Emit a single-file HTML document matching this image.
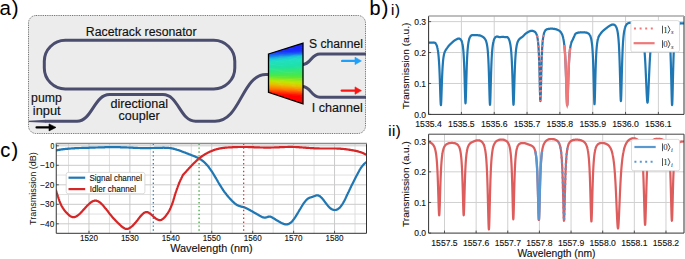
<!DOCTYPE html>
<html><head><meta charset="utf-8"><style>
html,body{margin:0;padding:0;background:#fff;}
body{width:685px;height:259px;overflow:hidden;}
svg{display:block;font-family:"Liberation Sans", sans-serif;}
</style></head><body>
<svg width="685" height="259" viewBox="0 0 685 259">
<rect width="685" height="259" fill="#fff"/>
<text x="-0.6" y="14.7" font-size="20.5" fill="#000" letter-spacing="1">a)</text>
<rect x="28.5" y="15.5" width="337" height="118" rx="7.5" ry="7.5" fill="#ececec" stroke="#555" stroke-width="0.9" stroke-dasharray="0.9,0.9"/>
<rect x="44.3" y="40.3" width="190.5" height="48.6" rx="21" ry="21" fill="none" stroke="#4b4d6e" stroke-width="3" stroke-linecap="butt"/>
<path d="M28.8,120.7 L46,119.7 L46,122.7 L28.8,122.0 Z" fill="#4b4d6e"/>
<path d="M45.5,121.2 L77,121.2 C92,121.2 94,94.6 109.5,94.6 L163,94.6 C178.5,94.6 180,121.2 195.5,121.2 L215,121.2 C241,121.2 241.5,74.6 266,74.6 L269,74.6" fill="none" stroke="#4b4d6e" stroke-width="3" stroke-linecap="butt"/>
<path d="M302,64.6 C311.5,64.6 310.5,54 320,54 L366,54" fill="none" stroke="#4b4d6e" stroke-width="3" stroke-linecap="butt"/>
<path d="M302,86.6 C311.5,86.6 310.5,97.2 320,97.2 L366,97.2" fill="none" stroke="#4b4d6e" stroke-width="3" stroke-linecap="butt"/>
<defs><clipPath id="trap"><path d="M268.5,54 L303.0,43.1 L303.0,103.8 L268.5,92.3 Z"/></clipPath></defs>
<g clip-path="url(#trap)"><path d="M267.5,48.00 L304.0,43.10 L304.0,45.68 L267.5,49.60 Z" fill="#1a22ff"/><path d="M267.5,49.00 L304.0,45.08 L304.0,47.65 L267.5,50.60 Z" fill="#1a26ff"/><path d="M267.5,50.00 L304.0,47.05 L304.0,49.62 L267.5,51.60 Z" fill="#1a2aff"/><path d="M267.5,51.00 L304.0,49.02 L304.0,51.60 L267.5,52.60 Z" fill="#1a2eff"/><path d="M267.5,52.00 L304.0,51.00 L304.0,52.10 L267.5,53.35 Z" fill="#1a36fd"/><path d="M267.5,52.75 L304.0,51.50 L304.0,52.60 L267.5,54.10 Z" fill="#1942f9"/><path d="M267.5,53.50 L304.0,52.00 L304.0,53.10 L267.5,54.85 Z" fill="#194ef6"/><path d="M267.5,54.25 L304.0,52.50 L304.0,53.60 L267.5,55.60 Z" fill="#185af2"/><path d="M267.5,55.00 L304.0,53.00 L304.0,54.25 L267.5,56.73 Z" fill="#186ded"/><path d="M267.5,56.12 L304.0,53.65 L304.0,54.90 L267.5,57.85 Z" fill="#1887e7"/><path d="M267.5,57.25 L304.0,54.30 L304.0,55.55 L267.5,58.98 Z" fill="#18a1e1"/><path d="M267.5,58.38 L304.0,54.95 L304.0,56.20 L267.5,60.10 Z" fill="#18bbdb"/><path d="M267.5,59.50 L304.0,55.60 L304.0,57.05 L267.5,60.73 Z" fill="#19cbd5"/><path d="M267.5,60.12 L304.0,56.45 L304.0,57.90 L267.5,61.35 Z" fill="#1bd1cf"/><path d="M267.5,60.75 L304.0,57.30 L304.0,58.75 L267.5,61.98 Z" fill="#1dd7c9"/><path d="M267.5,61.38 L304.0,58.15 L304.0,59.60 L267.5,62.60 Z" fill="#1fddc3"/><path d="M267.5,62.00 L304.0,59.00 L304.0,61.35 L267.5,63.85 Z" fill="#20e0bd"/><path d="M267.5,63.25 L304.0,60.75 L304.0,63.10 L267.5,65.10 Z" fill="#20e0b7"/><path d="M267.5,64.50 L304.0,62.50 L304.0,64.85 L267.5,66.35 Z" fill="#20e0b1"/><path d="M267.5,65.75 L304.0,64.25 L304.0,66.60 L267.5,67.60 Z" fill="#20e0ab"/><path d="M267.5,67.00 L304.0,66.00 L304.0,67.60 L267.5,68.85 Z" fill="#22e1a2"/><path d="M267.5,68.25 L304.0,67.00 L304.0,68.60 L267.5,70.10 Z" fill="#26e396"/><path d="M267.5,69.50 L304.0,68.00 L304.0,69.60 L267.5,71.35 Z" fill="#2ae58a"/><path d="M267.5,70.75 L304.0,69.00 L304.0,70.60 L267.5,72.60 Z" fill="#2ee77e"/><path d="M267.5,72.00 L304.0,70.00 L304.0,72.25 L267.5,73.60 Z" fill="#34e871"/><path d="M267.5,73.00 L304.0,71.65 L304.0,73.90 L267.5,74.60 Z" fill="#3ce863"/><path d="M267.5,74.00 L304.0,73.30 L304.0,75.55 L267.5,75.60 Z" fill="#44e855"/><path d="M267.5,75.00 L304.0,74.95 L304.0,77.20 L267.5,76.60 Z" fill="#4ce847"/><path d="M267.5,76.00 L304.0,76.60 L304.0,78.80 L267.5,77.72 Z" fill="#5ee838"/><path d="M267.5,77.12 L304.0,78.20 L304.0,80.40 L267.5,78.85 Z" fill="#7ae828"/><path d="M267.5,78.25 L304.0,79.80 L304.0,82.00 L267.5,79.97 Z" fill="#96e818"/><path d="M267.5,79.38 L304.0,81.40 L304.0,83.60 L267.5,81.10 Z" fill="#b2e808"/><path d="M267.5,80.50 L304.0,83.00 L304.0,84.60 L267.5,81.97 Z" fill="#c5e300"/><path d="M267.5,81.38 L304.0,84.00 L304.0,85.60 L267.5,82.85 Z" fill="#cfd900"/><path d="M267.5,82.25 L304.0,85.00 L304.0,86.60 L267.5,83.72 Z" fill="#d9cf00"/><path d="M267.5,83.12 L304.0,86.00 L304.0,87.60 L267.5,84.60 Z" fill="#e3c500"/><path d="M267.5,84.00 L304.0,87.00 L304.0,88.47 L267.5,85.60 Z" fill="#ebb800"/><path d="M267.5,85.00 L304.0,87.88 L304.0,89.35 L267.5,86.60 Z" fill="#f1a800"/><path d="M267.5,86.00 L304.0,88.75 L304.0,90.22 L267.5,87.60 Z" fill="#f69800"/><path d="M267.5,87.00 L304.0,89.62 L304.0,91.10 L267.5,88.60 Z" fill="#fc8800"/><path d="M267.5,88.00 L304.0,90.50 L304.0,91.97 L267.5,89.47 Z" fill="#ff7600"/><path d="M267.5,88.88 L304.0,91.38 L304.0,92.85 L267.5,90.35 Z" fill="#ff6200"/><path d="M267.5,89.75 L304.0,92.25 L304.0,93.72 L267.5,91.22 Z" fill="#ff4e00"/><path d="M267.5,90.62 L304.0,93.12 L304.0,94.60 L267.5,92.10 Z" fill="#ff3a00"/><path d="M267.5,91.50 L304.0,94.00 L304.0,95.17 L267.5,92.72 Z" fill="#ff2a00"/><path d="M267.5,92.12 L304.0,94.58 L304.0,95.75 L267.5,93.35 Z" fill="#ff1e00"/><path d="M267.5,92.75 L304.0,95.15 L304.0,96.32 L267.5,93.97 Z" fill="#ff1200"/><path d="M267.5,93.38 L304.0,95.72 L304.0,96.90 L267.5,94.60 Z" fill="#ff0600"/><path d="M267.5,94.00 L304.0,96.30 L304.0,99.32 L267.5,95.85 Z" fill="#ff0000"/><path d="M267.5,95.25 L304.0,98.72 L304.0,101.75 L267.5,97.10 Z" fill="#ff0000"/><path d="M267.5,96.50 L304.0,101.15 L304.0,104.17 L267.5,98.35 Z" fill="#ff0000"/><path d="M267.5,97.75 L304.0,103.58 L304.0,106.60 L267.5,99.60 Z" fill="#ff0000"/></g>
<path d="M268.5,54 L303.0,43.1 L303.0,103.8 L268.5,92.3 Z" fill="none" stroke="#000" stroke-width="1.3" stroke-linejoin="miter"/>
<line x1="36.6" y1="127.4" x2="50.00" y2="127.4" stroke="#000" stroke-width="2.3" stroke-linecap="round"/><path d="M49.00,123.90 L56.00,127.40 L49.00,130.90 Z" fill="#000" stroke="#000" stroke-width="0.6" stroke-linejoin="round"/>
<line x1="342.2" y1="60.9" x2="356.00" y2="60.9" stroke="#1ea0fa" stroke-width="2.4" stroke-linecap="round"/><path d="M355.00,57.20 L361.40,60.90 L355.00,64.60 Z" fill="#1ea0fa" stroke="#1ea0fa" stroke-width="0.6" stroke-linejoin="round"/>
<line x1="341.8" y1="90.6" x2="356.00" y2="90.6" stroke="#fa1414" stroke-width="2.4" stroke-linecap="round"/><path d="M355.00,86.90 L361.40,90.60 L355.00,94.30 Z" fill="#fa1414" stroke="#fa1414" stroke-width="0.6" stroke-linejoin="round"/>
<text x="85.8" y="35.8" font-size="12.3" textLength="110.7" lengthAdjust="spacingAndGlyphs" fill="#111" stroke="#111" stroke-width="0.15">Racetrack resonator</text>
<text x="309" y="48.3" font-size="12.3" textLength="54" lengthAdjust="spacingAndGlyphs" fill="#111" stroke="#111" stroke-width="0.15">S channel</text>
<text x="311.8" y="112.2" font-size="12.3" textLength="51" lengthAdjust="spacingAndGlyphs" fill="#111" stroke="#111" stroke-width="0.15">I channel</text>
<text x="31.1" y="102.1" font-size="12.3" textLength="30.7" lengthAdjust="spacingAndGlyphs" fill="#111" stroke="#111" stroke-width="0.15">pump</text>
<text x="32.8" y="114.9" font-size="12.3" textLength="27.8" lengthAdjust="spacingAndGlyphs" fill="#111" stroke="#111" stroke-width="0.15">input</text>
<text x="110.5" y="108.1" font-size="12.3" textLength="57.5" lengthAdjust="spacingAndGlyphs" fill="#111" stroke="#111" stroke-width="0.15">directional</text>
<text x="118.6" y="120.2" font-size="12.3" textLength="41.1" lengthAdjust="spacingAndGlyphs" fill="#111" stroke="#111" stroke-width="0.15">coupler</text>
<defs><clipPath id="cbi"><rect x="428.6" y="16.0" width="255.39999999999998" height="98.4"/></clipPath></defs>
<path d="M428.57,16.0 V114.4 M461.40,16.0 V114.4 M494.23,16.0 V114.4 M527.06,16.0 V114.4 M559.89,16.0 V114.4 M592.72,16.0 V114.4 M625.55,16.0 V114.4 M658.38,16.0 V114.4 M428.6,83.47 H684.0 M428.6,52.54 H684.0 M428.6,21.61 H684.0" stroke="#d0d0d0" stroke-width="1" fill="none"/>
<g clip-path="url(#cbi)"><path d="M428.6,42.6 L428.7,42.6 L428.8,42.6 L428.9,42.6 L429.0,42.6 L429.1,42.6 L429.2,42.6 L429.3,42.6 L429.4,42.6 L429.5,42.6 L429.6,42.6 L429.7,42.6 L429.8,42.6 L429.9,42.6 L430.0,42.6 L430.1,42.6 L430.2,42.6 L430.3,42.6 L430.4,42.6 L430.5,42.6 L430.6,42.6 L430.7,42.6 L430.8,42.6 L430.9,42.6 L431.0,42.6 L431.1,42.6 L431.2,42.6 L431.3,42.6 L431.4,42.6 L431.5,42.6 L431.6,42.6 L431.7,42.6 L431.8,42.6 L431.9,42.6 L432.0,42.6 L432.1,42.6 L432.2,42.6 L432.3,42.6 L432.4,42.6 L432.5,42.6 L432.6,42.6 L432.7,42.6 L432.8,42.6 L432.9,42.6 L433.0,42.6 L433.1,42.7 L433.2,42.7 L433.3,42.7 L433.4,42.7 L433.5,42.7 L433.6,42.7 L433.7,42.7 L433.8,42.7 L433.9,42.7 L434.0,42.7 L434.1,42.7 L434.2,42.7 L434.3,42.7 L434.4,42.7 L434.5,42.7 L434.6,42.7 L434.7,42.8 L434.8,42.8 L434.9,42.8 L435.0,42.9 L435.1,42.9 L435.2,43.0 L435.3,43.1 L435.4,43.1 L435.5,43.2 L435.6,43.3 L435.7,43.4 L435.8,43.6 L435.9,43.7 L436.0,43.9 L436.1,44.1 L436.2,44.2 L436.3,44.4 L436.4,44.7 L436.5,44.9 L436.6,45.1 L436.7,45.4 L436.8,45.7 L436.9,46.0 L437.0,46.3 L437.1,46.7 L437.2,47.0 L437.3,47.4 L437.4,47.9 L437.5,48.3 L437.6,48.8 L437.7,49.4 L437.8,49.9 L437.9,50.5 L438.0,51.2 L438.1,51.9 L438.2,52.7 L438.3,53.5 L438.4,54.4 L438.5,55.4 L438.6,56.4 L438.7,57.6 L438.8,58.8 L438.9,60.1 L439.0,61.6 L439.1,63.2 L439.2,64.9 L439.3,66.8 L439.4,68.9 L439.5,71.1 L439.6,73.5 L439.7,76.1 L439.8,78.8 L439.9,81.8 L440.0,84.8 L440.1,87.9 L440.2,91.1 L440.3,94.2 L440.4,97.1 L440.5,99.7 L440.6,102.0 L440.7,103.7 L440.8,104.7 L440.9,105.1 L441.0,104.8 L441.1,103.7 L441.2,102.1 L441.3,99.9 L441.4,97.3 L441.5,94.5 L441.6,91.5 L441.7,88.5 L441.8,85.5 L441.9,82.6 L442.0,79.9 L442.1,77.3 L442.2,74.9 L442.3,72.7 L442.4,70.7 L442.5,68.8 L442.6,67.1 L442.7,65.6 L442.8,64.2 L442.9,62.9 L443.0,61.8 L443.1,60.7 L443.2,59.7 L443.3,58.9 L443.4,58.1 L443.5,57.4 L443.6,56.7 L443.7,56.1 L443.8,55.5 L443.9,55.0 L444.0,54.5 L444.1,54.1 L444.2,53.7 L444.3,53.3 L444.4,53.0 L444.5,52.7 L444.6,52.4 L444.7,52.1 L444.8,51.8 L444.9,51.6 L445.0,51.4 L445.1,51.1 L445.2,50.9 L445.3,50.7 L445.4,50.6 L445.5,50.4 L445.6,50.2 L445.7,50.0 L445.8,49.9 L445.9,49.7 L446.0,49.5 L446.1,49.4 L446.2,49.2 L446.3,49.1 L446.4,48.9 L446.5,48.8 L446.6,48.7 L446.7,48.5 L446.8,48.4 L446.9,48.2 L447.0,48.1 L447.1,48.0 L447.2,47.8 L447.3,47.7 L447.4,47.6 L447.5,47.4 L447.6,47.3 L447.7,47.2 L447.8,47.0 L447.9,46.9 L448.0,46.8 L448.1,46.6 L448.2,46.5 L448.3,46.4 L448.4,46.3 L448.5,46.1 L448.6,46.0 L448.7,45.9 L448.8,45.8 L448.9,45.7 L449.0,45.5 L449.1,45.4 L449.2,45.3 L449.3,45.2 L449.4,45.1 L449.5,45.0 L449.6,44.9 L449.7,44.8 L449.8,44.7 L449.9,44.6 L450.0,44.5 L450.1,44.4 L450.2,44.3 L450.3,44.2 L450.4,44.1 L450.5,44.0 L450.6,43.9 L450.7,43.8 L450.8,43.8 L450.9,43.7 L451.0,43.6 L451.1,43.5 L451.2,43.4 L451.3,43.3 L451.4,43.2 L451.5,43.1 L451.6,43.0 L451.7,42.9 L451.8,42.8 L451.9,42.7 L452.0,42.6 L452.1,42.5 L452.2,42.4 L452.3,42.4 L452.4,42.3 L452.5,42.2 L452.6,42.1 L452.7,42.0 L452.8,41.9 L452.9,41.8 L453.0,41.7 L453.1,41.6 L453.2,41.5 L453.3,41.5 L453.4,41.4 L453.5,41.3 L453.6,41.2 L453.7,41.1 L453.8,41.0 L453.9,41.0 L454.0,40.9 L454.1,40.8 L454.2,40.7 L454.3,40.7 L454.4,40.6 L454.5,40.5 L454.6,40.4 L454.7,40.4 L454.8,40.3 L454.9,40.2 L455.0,40.2 L455.1,40.1 L455.2,40.0 L455.3,40.0 L455.4,39.9 L455.5,39.9 L455.6,39.8 L455.7,39.7 L455.8,39.7 L455.9,39.6 L456.0,39.6 L456.1,39.5 L456.2,39.5 L456.3,39.4 L456.4,39.3 L456.5,39.3 L456.6,39.2 L456.7,39.2 L456.8,39.1 L456.9,39.1 L457.0,39.1 L457.1,39.0 L457.2,39.0 L457.3,38.9 L457.4,38.9 L457.5,38.9 L457.6,38.8 L457.7,38.8 L457.8,38.8 L457.9,38.7 L458.0,38.7 L458.1,38.7 L458.2,38.7 L458.3,38.6 L458.4,38.6 L458.5,38.6 L458.6,38.6 L458.7,38.6 L458.8,38.6 L458.9,38.6 L459.0,38.6 L459.1,38.6 L459.2,38.6 L459.3,38.7 L459.4,38.7 L459.5,38.7 L459.6,38.7 L459.7,38.8 L459.8,38.8 L459.9,38.9 L460.0,38.9 L460.1,39.0 L460.2,39.1 L460.3,39.1 L460.4,39.2 L460.5,39.3 L460.6,39.4 L460.7,39.5 L460.8,39.6 L460.9,39.8 L461.0,39.9 L461.1,40.0 L461.2,40.2 L461.3,40.4 L461.4,40.6 L461.5,40.8 L461.6,41.0 L461.7,41.3 L461.8,41.5 L461.9,41.8 L462.0,42.1 L462.1,42.5 L462.2,42.8 L462.3,43.3 L462.4,43.7 L462.5,44.2 L462.6,44.7 L462.7,45.3 L462.8,45.9 L462.9,46.6 L463.0,47.4 L463.1,48.3 L463.2,49.2 L463.3,50.2 L463.4,51.4 L463.5,52.6 L463.6,54.0 L463.7,55.6 L463.8,57.3 L463.9,59.2 L464.0,61.2 L464.1,63.5 L464.2,66.1 L464.3,68.8 L464.4,71.8 L464.5,75.0 L464.6,78.5 L464.7,82.1 L464.8,85.8 L464.9,89.5 L465.0,93.1 L465.1,96.4 L465.2,99.2 L465.3,101.4 L465.4,102.8 L465.5,103.3 L465.6,102.8 L465.7,101.4 L465.8,99.2 L465.9,96.3 L466.0,93.0 L466.1,89.4 L466.2,85.6 L466.3,81.8 L466.4,78.2 L466.5,74.7 L466.6,71.4 L466.7,68.3 L466.8,65.5 L466.9,62.9 L467.0,60.5 L467.1,58.3 L467.2,56.4 L467.3,54.6 L467.4,53.0 L467.5,51.5 L467.6,50.2 L467.7,48.9 L467.8,47.8 L467.9,46.8 L468.0,45.9 L468.1,45.0 L468.2,44.3 L468.3,43.6 L468.4,42.9 L468.5,42.3 L468.6,41.7 L468.7,41.2 L468.8,40.7 L468.9,40.3 L469.0,39.9 L469.1,39.5 L469.2,39.2 L469.3,38.8 L469.4,38.5 L469.5,38.2 L469.6,38.0 L469.7,37.7 L469.8,37.5 L469.9,37.3 L470.0,37.1 L470.1,36.9 L470.2,36.7 L470.3,36.6 L470.4,36.4 L470.5,36.3 L470.6,36.1 L470.7,36.0 L470.8,35.9 L470.9,35.8 L471.0,35.7 L471.1,35.6 L471.2,35.6 L471.3,35.5 L471.4,35.4 L471.5,35.4 L471.6,35.3 L471.7,35.3 L471.8,35.3 L471.9,35.2 L472.0,35.2 L472.1,35.2 L472.2,35.1 L472.3,35.1 L472.4,35.1 L472.5,35.1 L472.6,35.1 L472.7,35.1 L472.8,35.1 L472.9,35.1 L473.0,35.1 L473.1,35.1 L473.2,35.1 L473.3,35.1 L473.4,35.1 L473.5,35.1 L473.6,35.1 L473.7,35.1 L473.8,35.1 L473.9,35.1 L474.0,35.2 L474.1,35.2 L474.2,35.2 L474.3,35.2 L474.4,35.2 L474.5,35.2 L474.6,35.2 L474.7,35.2 L474.8,35.2 L474.9,35.2 L475.0,35.2 L475.1,35.2 L475.2,35.2 L475.3,35.2 L475.4,35.2 L475.5,35.2 L475.6,35.2 L475.7,35.2 L475.8,35.2 L475.9,35.2 L476.0,35.2 L476.1,35.2 L476.2,35.2 L476.3,35.2 L476.4,35.2 L476.5,35.2 L476.6,35.2 L476.7,35.2 L476.8,35.2 L476.9,35.2 L477.0,35.2 L477.1,35.2 L477.2,35.2 L477.3,35.2 L477.4,35.2 L477.5,35.2 L477.6,35.2 L477.7,35.2 L477.8,35.2 L477.9,35.2 L478.0,35.2 L478.1,35.3 L478.2,35.3 L478.3,35.3 L478.4,35.3 L478.5,35.3 L478.6,35.3 L478.7,35.3 L478.8,35.3 L478.9,35.3 L479.0,35.3 L479.1,35.4 L479.2,35.4 L479.3,35.4 L479.4,35.4 L479.5,35.4 L479.6,35.4 L479.7,35.5 L479.8,35.5 L479.9,35.5 L480.0,35.5 L480.1,35.6 L480.2,35.6 L480.3,35.6 L480.4,35.6 L480.5,35.7 L480.6,35.7 L480.7,35.7 L480.8,35.8 L480.9,35.8 L481.0,35.8 L481.1,35.9 L481.2,35.9 L481.3,36.0 L481.4,36.0 L481.5,36.1 L481.6,36.1 L481.7,36.1 L481.8,36.2 L481.9,36.2 L482.0,36.3 L482.1,36.4 L482.2,36.4 L482.3,36.5 L482.4,36.5 L482.5,36.6 L482.6,36.6 L482.7,36.7 L482.8,36.8 L482.9,36.8 L483.0,36.9 L483.1,37.0 L483.2,37.1 L483.3,37.1 L483.4,37.2 L483.5,37.3 L483.6,37.4 L483.7,37.5 L483.8,37.6 L483.9,37.6 L484.0,37.7 L484.1,37.8 L484.2,37.9 L484.3,38.1 L484.4,38.2 L484.5,38.3 L484.6,38.4 L484.7,38.5 L484.8,38.7 L484.9,38.8 L485.0,38.9 L485.1,39.1 L485.2,39.2 L485.3,39.4 L485.4,39.6 L485.5,39.8 L485.6,40.0 L485.7,40.2 L485.8,40.4 L485.9,40.6 L486.0,40.9 L486.1,41.2 L486.2,41.5 L486.3,41.8 L486.4,42.1 L486.5,42.5 L486.6,42.9 L486.7,43.3 L486.8,43.7 L486.9,44.2 L487.0,44.8 L487.1,45.4 L487.2,46.0 L487.3,46.7 L487.4,47.4 L487.5,48.2 L487.6,49.1 L487.7,50.1 L487.8,51.2 L487.9,52.4 L488.0,53.7 L488.1,55.2 L488.2,56.7 L488.3,58.5 L488.4,60.4 L488.5,62.6 L488.6,64.9 L488.7,67.5 L488.8,70.3 L488.9,73.3 L489.0,76.6 L489.1,80.0 L489.2,83.7 L489.3,87.4 L489.4,91.1 L489.5,94.7 L489.6,98.0 L489.7,100.8 L489.8,103.0 L489.9,104.3 L490.0,104.8 L490.1,104.3 L490.2,103.0 L490.3,100.8 L490.4,98.0 L490.5,94.6 L490.6,91.0 L490.7,87.3 L490.8,83.5 L490.9,79.9 L491.0,76.4 L491.1,73.1 L491.2,70.0 L491.3,67.2 L491.4,64.6 L491.5,62.2 L491.6,60.0 L491.7,58.0 L491.8,56.3 L491.9,54.6 L492.0,53.1 L492.1,51.8 L492.2,50.6 L492.3,49.4 L492.4,48.4 L492.5,47.5 L492.6,46.6 L492.7,45.9 L492.8,45.1 L492.9,44.5 L493.0,43.9 L493.1,43.3 L493.2,42.8 L493.3,42.3 L493.4,41.9 L493.5,41.4 L493.6,41.1 L493.7,40.7 L493.8,40.4 L493.9,40.0 L494.0,39.8 L494.1,39.5 L494.2,39.2 L494.3,39.0 L494.4,38.8 L494.5,38.6 L494.6,38.4 L494.7,38.2 L494.8,38.0 L494.9,37.8 L495.0,37.7 L495.1,37.6 L495.2,37.4 L495.3,37.3 L495.4,37.2 L495.5,37.1 L495.6,37.0 L495.7,36.9 L495.8,36.9 L495.9,36.8 L496.0,36.8 L496.1,36.7 L496.2,36.7 L496.3,36.7 L496.4,36.6 L496.5,36.6 L496.6,36.6 L496.7,36.6 L496.8,36.6 L496.9,36.6 L497.0,36.6 L497.1,36.6 L497.2,36.6 L497.3,36.6 L497.4,36.6 L497.5,36.7 L497.6,36.7 L497.7,36.7 L497.8,36.7 L497.9,36.7 L498.0,36.8 L498.1,36.8 L498.2,36.8 L498.3,36.8 L498.4,36.9 L498.5,36.9 L498.6,36.9 L498.7,36.9 L498.8,37.0 L498.9,37.0 L499.0,37.0 L499.1,37.0 L499.2,37.0 L499.3,37.1 L499.4,37.1 L499.5,37.1 L499.6,37.1 L499.7,37.1 L499.8,37.1 L499.9,37.1 L500.0,37.1 L500.1,37.1 L500.2,37.1 L500.3,37.0 L500.4,37.0 L500.5,37.0 L500.6,37.0 L500.7,37.0 L500.8,37.0 L500.9,37.0 L501.0,37.0 L501.1,37.0 L501.2,37.0 L501.3,37.0 L501.4,37.0 L501.5,37.0 L501.6,37.0 L501.7,36.9 L501.8,36.9 L501.9,36.9 L502.0,36.9 L502.1,36.9 L502.2,36.9 L502.3,36.9 L502.4,36.9 L502.5,36.9 L502.6,36.9 L502.7,36.9 L502.8,36.9 L502.9,36.9 L503.0,36.9 L503.1,36.9 L503.2,36.9 L503.3,36.9 L503.4,36.9 L503.5,36.9 L503.6,36.9 L503.7,36.9 L503.8,36.9 L503.9,37.0 L504.0,37.0 L504.1,37.0 L504.2,37.0 L504.3,37.0 L504.4,37.0 L504.5,37.0 L504.6,37.0 L504.7,37.0 L504.8,37.0 L504.9,37.1 L505.0,37.1 L505.1,37.1 L505.2,37.1 L505.3,37.1 L505.4,37.1 L505.5,37.1 L505.6,37.1 L505.7,37.1 L505.8,37.1 L505.9,37.1 L506.0,37.0 L506.1,37.0 L506.2,37.0 L506.3,37.0 L506.4,37.0 L506.5,37.0 L506.6,37.0 L506.7,37.0 L506.8,37.0 L506.9,37.0 L507.0,37.0 L507.1,37.0 L507.2,37.1 L507.3,37.1 L507.4,37.2 L507.5,37.2 L507.6,37.3 L507.7,37.4 L507.8,37.5 L507.9,37.6 L508.0,37.7 L508.1,37.8 L508.2,38.0 L508.3,38.1 L508.4,38.3 L508.5,38.4 L508.6,38.6 L508.7,38.8 L508.8,39.0 L508.9,39.2 L509.0,39.4 L509.1,39.7 L509.2,39.9 L509.3,40.2 L509.4,40.5 L509.5,40.8 L509.6,41.1 L509.7,41.5 L509.8,41.9 L509.9,42.3 L510.0,42.7 L510.1,43.2 L510.2,43.7 L510.3,44.2 L510.4,44.8 L510.5,45.4 L510.6,46.1 L510.7,46.8 L510.8,47.6 L510.9,48.5 L511.0,49.4 L511.1,50.4 L511.2,51.5 L511.3,52.7 L511.4,54.0 L511.5,55.5 L511.6,57.0 L511.7,58.7 L511.8,60.6 L511.9,62.6 L512.0,64.9 L512.1,67.3 L512.2,69.9 L512.3,72.7 L512.4,75.7 L512.5,78.9 L512.6,82.3 L512.7,85.7 L512.8,89.2 L512.9,92.6 L513.0,95.9 L513.1,98.8 L513.2,101.3 L513.3,103.2 L513.4,104.4 L513.5,104.8 L513.6,104.4 L513.7,103.2 L513.8,101.3 L513.9,98.9 L514.0,95.9 L514.1,92.7 L514.2,89.3 L514.3,85.9 L514.4,82.5 L514.5,79.2 L514.6,76.0 L514.7,73.0 L514.8,70.3 L514.9,67.7 L515.0,65.3 L515.1,63.2 L515.2,61.2 L515.3,59.4 L515.4,57.7 L515.5,56.2 L515.6,54.8 L515.7,53.6 L515.8,52.4 L515.9,51.4 L516.0,50.4 L516.1,49.5 L516.2,48.7 L516.3,48.0 L516.4,47.3 L516.5,46.7 L516.6,46.1 L516.7,45.5 L516.8,45.0 L516.9,44.6 L517.0,44.2 L517.1,43.8 L517.2,43.4 L517.3,43.0 L517.4,42.7 L517.5,42.4 L517.6,42.1 L517.7,41.9 L517.8,41.6 L517.9,41.4 L518.0,41.2 L518.1,41.0 L518.2,40.8 L518.3,40.6 L518.4,40.4 L518.5,40.3 L518.6,40.1 L518.7,40.0 L518.8,39.8 L518.9,39.7 L519.0,39.5 L519.1,39.4 L519.2,39.3 L519.3,39.2 L519.4,39.1 L519.5,39.0 L519.6,38.9 L519.7,38.8 L519.8,38.7 L519.9,38.6 L520.0,38.5 L520.1,38.4 L520.2,38.3 L520.3,38.2 L520.4,38.2 L520.5,38.1 L520.6,38.0 L520.7,37.9 L520.8,37.8 L520.9,37.8 L521.0,37.7 L521.1,37.6 L521.2,37.6 L521.3,37.5 L521.4,37.4 L521.5,37.4 L521.6,37.3 L521.7,37.3 L521.8,37.2 L521.9,37.1 L522.0,37.1 L522.1,37.0 L522.2,37.0 L522.3,36.9 L522.4,36.8 L522.5,36.7 L522.6,36.7 L522.7,36.6 L522.8,36.5 L522.9,36.4 L523.0,36.3 L523.1,36.2 L523.2,36.1 L523.3,36.0 L523.4,35.9 L523.5,35.8 L523.6,35.7 L523.7,35.6 L523.8,35.5 L523.9,35.4 L524.0,35.3 L524.1,35.2 L524.2,35.1 L524.3,35.0 L524.4,34.9 L524.5,34.8 L524.6,34.6 L524.7,34.5 L524.8,34.4 L524.9,34.3 L525.0,34.2 L525.1,34.1 L525.2,34.0 L525.3,33.9 L525.4,33.8 L525.5,33.8 L525.6,33.7 L525.7,33.6 L525.8,33.5 L525.9,33.4 L526.0,33.4 L526.1,33.3 L526.2,33.2 L526.3,33.2 L526.4,33.1 L526.5,33.0 L526.6,33.0 L526.7,32.9 L526.8,32.8 L526.9,32.8 L527.0,32.7 L527.1,32.6 L527.2,32.6 L527.3,32.5 L527.4,32.4 L527.5,32.4 L527.6,32.3 L527.7,32.2 L527.8,32.2 L527.9,32.1 L528.0,32.1 L528.1,32.0 L528.2,31.9 L528.3,31.9 L528.4,31.8 L528.5,31.8 L528.6,31.7 L528.7,31.7 L528.8,31.6 L528.9,31.6 L529.0,31.5 L529.1,31.5 L529.2,31.4 L529.3,31.4 L529.4,31.3 L529.5,31.3 L529.6,31.3 L529.7,31.2 L529.8,31.2 L529.9,31.2 L530.0,31.1 L530.1,31.1 L530.2,31.1 L530.3,31.0 L530.4,31.0 L530.5,31.0 L530.6,31.0 L530.7,30.9 L530.8,30.9 L530.9,30.9 L531.0,30.9 L531.1,30.9 L531.2,30.9 L531.3,30.9 L531.4,30.8 L531.5,30.8 L531.6,30.8 L531.7,30.8 L531.8,30.8 L531.9,30.8 L532.0,30.8 L532.1,30.8 L532.2,30.8 L532.3,30.9 L532.4,30.9 L532.5,30.9 L532.6,30.9 L532.7,30.9 L532.8,30.9 L532.9,30.9 L533.0,31.0 L533.1,31.0 L533.2,31.0 L533.3,31.0 L533.4,31.1 L533.5,31.1 L533.6,31.1 L533.7,31.2 L533.8,31.2 L533.9,31.2 L534.0,31.3 L534.1,31.3 L534.2,31.4 L534.3,31.4 L534.4,31.5 L534.5,31.6 L534.6,31.6 L534.7,31.7 L534.8,31.8 L534.9,31.8 L535.0,31.9 L535.1,32.0 L535.2,32.1 L535.3,32.2 L535.4,32.3 L535.5,32.4 L535.6,32.6 L535.7,32.7 L535.8,32.8 L535.9,33.0 L536.0,33.1 L536.1,33.3 L536.2,33.5 L536.3,33.7 L536.4,33.9 L536.5,34.2 L536.6,34.4 L536.7,34.7 L536.8,35.0 L536.9,35.3 L537.0,35.6 L537.1,36.0 L537.2,36.4 L537.3,36.8 L537.4,37.3 L537.5,37.9 L537.6,38.4 L537.7,39.1 L537.8,39.8 L537.9,40.5 L538.0,41.4 L538.1,42.3 L538.2,43.3 L538.3,44.4 L538.4,45.7 L538.5,47.1 L538.6,48.6 L538.7,50.3 L538.8,52.2 L538.9,54.4 L539.0,56.7 L539.1,59.3 L539.2,62.2 L539.3,65.4 L539.4,68.9 L539.5,72.6 L539.6,76.6 L539.7,80.7 L539.8,84.9 L539.9,89.1 L540.0,92.9 L540.1,96.3 L540.2,98.9 L540.3,100.5 L540.4,101.1 L540.5,100.5 L540.6,98.9 L540.7,96.2 L540.8,92.9 L540.9,89.0 L541.0,84.8 L541.1,80.6 L541.2,76.4 L541.3,72.4 L541.4,68.6 L541.5,65.1 L541.6,61.8 L541.7,58.9 L541.8,56.2 L541.9,53.8 L542.0,51.6 L542.1,49.7 L542.2,47.9 L542.3,46.3 L542.4,44.8 L542.5,43.5 L542.6,42.3 L542.7,41.3 L542.8,40.3 L542.9,39.4 L543.0,38.6 L543.1,37.8 L543.2,37.2 L543.3,36.5 L543.4,36.0 L543.5,35.4 L543.6,35.0 L543.7,34.5 L543.8,34.1 L543.9,33.7 L544.0,33.3 L544.1,33.0 L544.2,32.7 L544.3,32.4 L544.4,32.2 L544.5,31.9 L544.6,31.7 L544.7,31.5 L544.8,31.3 L544.9,31.1 L545.0,30.9 L545.1,30.7 L545.2,30.6 L545.3,30.4 L545.4,30.3 L545.5,30.2 L545.6,30.1 L545.7,30.0 L545.8,29.9 L545.9,29.8 L546.0,29.7 L546.1,29.7 L546.2,29.6 L546.3,29.6 L546.4,29.5 L546.5,29.5 L546.6,29.4 L546.7,29.4 L546.8,29.3 L546.9,29.3 L547.0,29.3 L547.1,29.2 L547.2,29.2 L547.3,29.2 L547.4,29.2 L547.5,29.1 L547.6,29.1 L547.7,29.1 L547.8,29.1 L547.9,29.1 L548.0,29.0 L548.1,29.0 L548.2,29.0 L548.3,29.0 L548.4,28.9 L548.5,28.9 L548.6,28.9 L548.7,28.9 L548.8,28.9 L548.9,28.9 L549.0,28.8 L549.1,28.8 L549.2,28.8 L549.3,28.8 L549.4,28.8 L549.5,28.8 L549.6,28.8 L549.7,28.8 L549.8,28.8 L549.9,28.7 L550.0,28.7 L550.1,28.7 L550.2,28.7 L550.3,28.7 L550.4,28.7 L550.5,28.7 L550.6,28.7 L550.7,28.7 L550.8,28.7 L550.9,28.7 L551.0,28.7 L551.1,28.7 L551.2,28.7 L551.3,28.7 L551.4,28.7 L551.5,28.7 L551.6,28.7 L551.7,28.7 L551.8,28.7 L551.9,28.7 L552.0,28.7 L552.1,28.7 L552.2,28.7 L552.3,28.7 L552.4,28.7 L552.5,28.7 L552.6,28.7 L552.7,28.7 L552.8,28.7 L552.9,28.7 L553.0,28.8 L553.1,28.8 L553.2,28.8 L553.3,28.8 L553.4,28.8 L553.5,28.8 L553.6,28.8 L553.7,28.8 L553.8,28.8 L553.9,28.8 L554.0,28.9 L554.1,28.9 L554.2,28.9 L554.3,28.9 L554.4,28.9 L554.5,28.9 L554.6,29.0 L554.7,29.0 L554.8,29.0 L554.9,29.0 L555.0,29.0 L555.1,29.1 L555.2,29.1 L555.3,29.1 L555.4,29.1 L555.5,29.1 L555.6,29.2 L555.7,29.2 L555.8,29.2 L555.9,29.2 L556.0,29.3 L556.1,29.3 L556.2,29.3 L556.3,29.4 L556.4,29.4 L556.5,29.4 L556.6,29.4 L556.7,29.5 L556.8,29.5 L556.9,29.5 L557.0,29.6 L557.1,29.6 L557.2,29.6 L557.3,29.7 L557.4,29.7 L557.5,29.8 L557.6,29.8 L557.7,29.8 L557.8,29.9 L557.9,29.9 L558.0,30.0 L558.1,30.0 L558.2,30.1 L558.3,30.1 L558.4,30.2 L558.5,30.2 L558.6,30.3 L558.7,30.3 L558.8,30.4 L558.9,30.5 L559.0,30.5 L559.1,30.6 L559.2,30.7 L559.3,30.7 L559.4,30.8 L559.5,30.9 L559.6,31.0 L559.7,31.0 L559.8,31.1 L559.9,31.2 L560.0,31.3 L560.1,31.4 L560.2,31.5 L560.3,31.6 L560.4,31.7 L560.5,31.8 L560.6,31.9 L560.7,32.0 L560.8,32.2 L560.9,32.3 L561.0,32.4 L561.1,32.6 L561.2,32.7 L561.3,32.9 L561.4,33.0 L561.5,33.2 L561.6,33.4 L561.7,33.5 L561.8,33.7 L561.9,33.9 L562.0,34.2 L562.1,34.4 L562.2,34.6 L562.3,34.9 L562.4,35.2 L562.5,35.5 L562.6,35.8 L562.7,36.1 L562.8,36.4 L562.9,36.8 L563.0,37.2 L563.1,37.6 L563.2,38.0 L563.3,38.5 L563.4,38.9 L563.5,39.4 L563.6,40.0 L563.7,40.6 L563.8,41.2 L563.9,41.9 L564.0,42.6 L564.1,43.3 L564.2,44.1 L564.3,45.0 L564.4,45.9 L564.5,46.9 L564.6,48.0 L564.7,49.1 L564.8,50.4 L564.9,51.7 L565.0,53.1 L565.1,54.7 L565.2,56.4 L565.3,58.2 L565.4,60.1 L565.5,62.2 L565.6,64.5 L565.7,66.9 L565.8,69.5 L565.9,72.3 L566.0,75.2 L566.1,78.3 L566.2,81.5 L566.3,84.8 L566.4,88.1 L566.5,91.3 L566.6,94.5 L566.7,97.4 L566.8,100.0 L566.9,102.1 L567.0,103.8 L567.1,104.8 L567.2,105.1 L567.3,104.8 L567.4,103.8 L567.5,102.2 L567.6,100.1 L567.7,97.6 L567.8,94.7 L567.9,91.7 L568.0,88.5 L568.1,85.3 L568.2,82.2 L568.3,79.1 L568.4,76.2 L568.5,73.4 L568.6,70.8 L568.7,68.4 L568.8,66.1 L568.9,64.0 L569.0,62.1 L569.1,60.3 L569.2,58.7 L569.3,57.2 L569.4,55.8 L569.5,54.5 L569.6,53.4 L569.7,52.3 L569.8,51.3 L569.9,50.4 L570.0,49.5 L570.1,48.8 L570.2,48.1 L570.3,47.4 L570.4,46.8 L570.5,46.2 L570.6,45.7 L570.7,45.2 L570.8,44.8 L570.9,44.3 L571.0,44.0 L571.1,43.6 L571.2,43.2 L571.3,42.9 L571.4,42.6 L571.5,42.3 L571.6,42.1 L571.7,41.8 L571.8,41.6 L571.9,41.3 L572.0,41.1 L572.1,40.9 L572.2,40.7 L572.3,40.5 L572.4,40.3 L572.5,40.2 L572.6,40.0 L572.7,39.8 L572.8,39.6 L572.9,39.4 L573.0,39.2 L573.1,39.0 L573.2,38.8 L573.3,38.5 L573.4,38.3 L573.5,38.1 L573.6,37.8 L573.7,37.6 L573.8,37.4 L573.9,37.1 L574.0,36.9 L574.1,36.6 L574.2,36.4 L574.3,36.2 L574.4,35.9 L574.5,35.7 L574.6,35.5 L574.7,35.2 L574.8,35.0 L574.9,34.8 L575.0,34.6 L575.1,34.4 L575.2,34.3 L575.3,34.1 L575.4,33.9 L575.5,33.8 L575.6,33.7 L575.7,33.6 L575.8,33.5 L575.9,33.4 L576.0,33.4 L576.1,33.3 L576.2,33.3 L576.3,33.2 L576.4,33.2 L576.5,33.2 L576.6,33.1 L576.7,33.1 L576.8,33.1 L576.9,33.0 L577.0,33.0 L577.1,33.0 L577.2,32.9 L577.3,32.9 L577.4,32.9 L577.5,32.9 L577.6,32.8 L577.7,32.8 L577.8,32.8 L577.9,32.8 L578.0,32.7 L578.1,32.7 L578.2,32.7 L578.3,32.7 L578.4,32.7 L578.5,32.6 L578.6,32.6 L578.7,32.6 L578.8,32.6 L578.9,32.6 L579.0,32.6 L579.1,32.5 L579.2,32.5 L579.3,32.5 L579.4,32.5 L579.5,32.5 L579.6,32.5 L579.7,32.5 L579.8,32.5 L579.9,32.4 L580.0,32.4 L580.1,32.4 L580.2,32.4 L580.3,32.4 L580.4,32.4 L580.5,32.4 L580.6,32.4 L580.7,32.4 L580.8,32.4 L580.9,32.4 L581.0,32.4 L581.1,32.3 L581.2,32.3 L581.3,32.3 L581.4,32.3 L581.5,32.3 L581.6,32.3 L581.7,32.3 L581.8,32.3 L581.9,32.3 L582.0,32.3 L582.1,32.3 L582.2,32.3 L582.3,32.3 L582.4,32.3 L582.5,32.3 L582.6,32.3 L582.7,32.3 L582.8,32.3 L582.9,32.3 L583.0,32.3 L583.1,32.3 L583.2,32.3 L583.3,32.3 L583.4,32.3 L583.5,32.3 L583.6,32.3 L583.7,32.3 L583.8,32.3 L583.9,32.3 L584.0,32.3 L584.1,32.3 L584.2,32.4 L584.3,32.4 L584.4,32.4 L584.5,32.4 L584.6,32.4 L584.7,32.4 L584.8,32.4 L584.9,32.4 L585.0,32.4 L585.1,32.4 L585.2,32.5 L585.3,32.5 L585.4,32.5 L585.5,32.5 L585.6,32.5 L585.7,32.5 L585.8,32.5 L585.9,32.6 L586.0,32.6 L586.1,32.6 L586.2,32.6 L586.3,32.6 L586.4,32.6 L586.5,32.7 L586.6,32.7 L586.7,32.7 L586.8,32.7 L586.9,32.8 L587.0,32.8 L587.1,32.8 L587.2,32.9 L587.3,32.9 L587.4,32.9 L587.5,33.0 L587.6,33.0 L587.7,33.1 L587.8,33.1 L587.9,33.2 L588.0,33.2 L588.1,33.3 L588.2,33.3 L588.3,33.4 L588.4,33.5 L588.5,33.5 L588.6,33.6 L588.7,33.7 L588.8,33.8 L588.9,33.9 L589.0,34.0 L589.1,34.1 L589.2,34.2 L589.3,34.3 L589.4,34.5 L589.5,34.6 L589.6,34.7 L589.7,34.9 L589.8,35.1 L589.9,35.2 L590.0,35.4 L590.1,35.6 L590.2,35.8 L590.3,36.1 L590.4,36.3 L590.5,36.6 L590.6,36.9 L590.7,37.2 L590.8,37.5 L590.9,37.8 L591.0,38.2 L591.1,38.6 L591.2,39.0 L591.3,39.5 L591.4,40.0 L591.5,40.5 L591.6,41.1 L591.7,41.8 L591.8,42.5 L591.9,43.2 L592.0,44.1 L592.1,45.0 L592.2,46.0 L592.3,47.1 L592.4,48.3 L592.5,49.6 L592.6,51.1 L592.7,52.7 L592.8,54.5 L592.9,56.5 L593.0,58.7 L593.1,61.1 L593.2,63.7 L593.3,66.7 L593.4,69.9 L593.5,73.3 L593.6,77.0 L593.7,80.9 L593.8,84.9 L593.9,89.0 L594.0,92.9 L594.1,96.5 L594.2,99.7 L594.3,102.1 L594.4,103.7 L594.5,104.2 L594.6,103.7 L594.7,102.1 L594.8,99.7 L594.9,96.6 L595.0,92.9 L595.1,89.0 L595.2,85.0 L595.3,81.0 L595.4,77.1 L595.5,73.4 L595.6,70.0 L595.7,66.8 L595.8,63.9 L595.9,61.3 L596.0,58.9 L596.1,56.7 L596.2,54.8 L596.3,53.0 L596.4,51.4 L596.5,50.0 L596.6,48.6 L596.7,47.5 L596.8,46.4 L596.9,45.4 L597.0,44.5 L597.1,43.7 L597.2,43.0 L597.3,42.3 L597.4,41.6 L597.5,41.1 L597.6,40.5 L597.7,40.1 L597.8,39.6 L597.9,39.2 L598.0,38.8 L598.1,38.5 L598.2,38.1 L598.3,37.8 L598.4,37.5 L598.5,37.3 L598.6,37.0 L598.7,36.8 L598.8,36.6 L598.9,36.3 L599.0,36.1 L599.1,36.0 L599.2,35.8 L599.3,35.6 L599.4,35.4 L599.5,35.3 L599.6,35.1 L599.7,35.0 L599.8,34.8 L599.9,34.6 L600.0,34.5 L600.1,34.3 L600.2,34.2 L600.3,34.1 L600.4,33.9 L600.5,33.8 L600.6,33.6 L600.7,33.5 L600.8,33.4 L600.9,33.2 L601.0,33.1 L601.1,33.0 L601.2,32.9 L601.3,32.7 L601.4,32.6 L601.5,32.5 L601.6,32.4 L601.7,32.2 L601.8,32.1 L601.9,32.0 L602.0,31.9 L602.1,31.8 L602.2,31.7 L602.3,31.6 L602.4,31.5 L602.5,31.4 L602.6,31.3 L602.7,31.2 L602.8,31.1 L602.9,31.0 L603.0,30.9 L603.1,30.8 L603.2,30.7 L603.3,30.6 L603.4,30.5 L603.5,30.5 L603.6,30.4 L603.7,30.3 L603.8,30.2 L603.9,30.1 L604.0,30.0 L604.1,29.9 L604.2,29.9 L604.3,29.8 L604.4,29.7 L604.5,29.6 L604.6,29.5 L604.7,29.4 L604.8,29.4 L604.9,29.3 L605.0,29.2 L605.1,29.1 L605.2,29.0 L605.3,29.0 L605.4,28.9 L605.5,28.8 L605.6,28.7 L605.7,28.6 L605.8,28.6 L605.9,28.5 L606.0,28.4 L606.1,28.3 L606.2,28.3 L606.3,28.2 L606.4,28.1 L606.5,28.0 L606.6,28.0 L606.7,27.9 L606.8,27.8 L606.9,27.7 L607.0,27.7 L607.1,27.6 L607.2,27.5 L607.3,27.4 L607.4,27.3 L607.5,27.3 L607.6,27.2 L607.7,27.1 L607.8,27.0 L607.9,27.0 L608.0,26.9 L608.1,26.8 L608.2,26.7 L608.3,26.7 L608.4,26.6 L608.5,26.5 L608.6,26.4 L608.7,26.4 L608.8,26.3 L608.9,26.2 L609.0,26.2 L609.1,26.1 L609.2,26.0 L609.3,26.0 L609.4,25.9 L609.5,25.8 L609.6,25.8 L609.7,25.7 L609.8,25.6 L609.9,25.6 L610.0,25.5 L610.1,25.5 L610.2,25.4 L610.3,25.4 L610.4,25.3 L610.5,25.3 L610.6,25.2 L610.7,25.2 L610.8,25.1 L610.9,25.1 L611.0,25.0 L611.1,25.0 L611.2,24.9 L611.3,24.9 L611.4,24.9 L611.5,24.8 L611.6,24.8 L611.7,24.8 L611.8,24.7 L611.9,24.7 L612.0,24.7 L612.1,24.7 L612.2,24.7 L612.3,24.7 L612.4,24.6 L612.5,24.6 L612.6,24.6 L612.7,24.6 L612.8,24.6 L612.9,24.6 L613.0,24.6 L613.1,24.6 L613.2,24.6 L613.3,24.6 L613.4,24.6 L613.5,24.6 L613.6,24.6 L613.7,24.6 L613.8,24.7 L613.9,24.7 L614.0,24.7 L614.1,24.7 L614.2,24.8 L614.3,24.8 L614.4,24.9 L614.5,24.9 L614.6,25.0 L614.7,25.0 L614.8,25.1 L614.9,25.2 L615.0,25.3 L615.1,25.4 L615.2,25.4 L615.3,25.6 L615.4,25.7 L615.5,25.8 L615.6,25.9 L615.7,26.1 L615.8,26.2 L615.9,26.4 L616.0,26.6 L616.1,26.7 L616.2,27.0 L616.3,27.2 L616.4,27.4 L616.5,27.6 L616.6,27.9 L616.7,28.2 L616.8,28.5 L616.9,28.8 L617.0,29.1 L617.1,29.5 L617.2,29.9 L617.3,30.3 L617.4,30.8 L617.5,31.3 L617.6,31.8 L617.7,32.4 L617.8,33.0 L617.9,33.7 L618.0,34.5 L618.1,35.2 L618.2,36.1 L618.3,37.1 L618.4,38.1 L618.5,39.2 L618.6,40.4 L618.7,41.8 L618.8,43.2 L618.9,44.8 L619.0,46.6 L619.1,48.5 L619.2,50.6 L619.3,52.9 L619.4,55.5 L619.5,58.2 L619.6,61.2 L619.7,64.4 L619.8,67.8 L619.9,71.5 L620.0,75.3 L620.1,79.2 L620.2,83.2 L620.3,87.1 L620.4,90.9 L620.5,94.2 L620.6,97.1 L620.7,99.3 L620.8,100.6 L620.9,101.1 L621.0,100.6 L621.1,99.3 L621.2,97.1 L621.3,94.2 L621.4,90.8 L621.5,87.1 L621.6,83.2 L621.7,79.2 L621.8,75.2 L621.9,71.4 L622.0,67.7 L622.1,64.2 L622.2,61.0 L622.3,58.0 L622.4,55.3 L622.5,52.7 L622.6,50.4 L622.7,48.3 L622.8,46.3 L622.9,44.5 L623.0,42.9 L623.1,41.4 L623.2,40.1 L623.3,38.8 L623.4,37.7 L623.5,36.6 L623.6,35.7 L623.7,34.8 L623.8,34.0 L623.9,33.2 L624.0,32.5 L624.1,31.9 L624.2,31.3 L624.3,30.7 L624.4,30.2 L624.5,29.7 L624.6,29.3 L624.7,28.8 L624.8,28.5 L624.9,28.1 L625.0,27.8 L625.1,27.4 L625.2,27.1 L625.3,26.9 L625.4,26.6 L625.5,26.4 L625.6,26.1 L625.7,25.9 L625.8,25.7 L625.9,25.5 L626.0,25.3 L626.1,25.2 L626.2,25.0 L626.3,24.8 L626.4,24.7 L626.5,24.6 L626.6,24.4 L626.7,24.3 L626.8,24.2 L626.9,24.1 L627.0,24.0 L627.1,23.9 L627.2,23.8 L627.3,23.7 L627.4,23.7 L627.5,23.6 L627.6,23.5 L627.7,23.5 L627.8,23.4 L627.9,23.3 L628.0,23.3 L628.1,23.2 L628.2,23.2 L628.3,23.2 L628.4,23.1 L628.5,23.1 L628.6,23.1 L628.7,23.0 L628.8,23.0 L628.9,23.0 L629.0,23.0 L629.1,22.9 L629.2,22.9 L629.3,22.9 L629.4,22.9 L629.5,22.9 L629.6,22.9 L629.7,22.9 L629.8,22.8 L629.9,22.8 L630.0,22.8 L630.1,22.8 L630.2,22.8 L630.3,22.8 L630.4,22.8 L630.5,22.8 L630.6,22.8 L630.7,22.9 L630.8,22.9 L630.9,22.9 L631.0,22.9 L631.1,22.9 L631.2,22.9 L631.3,22.9 L631.4,22.9 L631.5,22.9 L631.6,23.0 L631.7,23.0 L631.8,23.0 L631.9,23.0 L632.0,23.0 L632.1,23.0 L632.2,23.1 L632.3,23.1 L632.4,23.1 L632.5,23.1 L632.6,23.1 L632.7,23.2 L632.8,23.2 L632.9,23.2 L633.0,23.2 L633.1,23.3 L633.2,23.3 L633.3,23.3 L633.4,23.3 L633.5,23.4 L633.6,23.4 L633.7,23.4 L633.8,23.4 L633.9,23.5 L634.0,23.5 L634.1,23.5 L634.2,23.5 L634.3,23.6 L634.4,23.6 L634.5,23.6 L634.6,23.7 L634.7,23.7 L634.8,23.7 L634.9,23.7 L635.0,23.8 L635.1,23.8 L635.2,23.8 L635.3,23.9 L635.4,23.9 L635.5,23.9 L635.6,24.0 L635.7,24.0 L635.8,24.1 L635.9,24.1 L636.0,24.1 L636.1,24.2 L636.2,24.2 L636.3,24.3 L636.4,24.3 L636.5,24.4 L636.6,24.4 L636.7,24.5 L636.8,24.5 L636.9,24.6 L637.0,24.7 L637.1,24.7 L637.2,24.8 L637.3,24.8 L637.4,24.9 L637.5,25.0 L637.6,25.1 L637.7,25.1 L637.8,25.2 L637.9,25.3 L638.0,25.4 L638.1,25.4 L638.2,25.5 L638.3,25.6 L638.4,25.7 L638.5,25.8 L638.6,25.9 L638.7,26.0 L638.8,26.1 L638.9,26.2 L639.0,26.3 L639.1,26.4 L639.2,26.6 L639.3,26.7 L639.4,26.8 L639.5,27.0 L639.6,27.1 L639.7,27.2 L639.8,27.4 L639.9,27.5 L640.0,27.7 L640.1,27.9 L640.2,28.0 L640.3,28.2 L640.4,28.4 L640.5,28.6 L640.6,28.8 L640.7,29.0 L640.8,29.2 L640.9,29.5 L641.0,29.7 L641.1,29.9 L641.2,30.2 L641.3,30.5 L641.4,30.7 L641.5,31.0 L641.6,31.3 L641.7,31.6 L641.8,32.0 L641.9,32.3 L642.0,32.7 L642.1,33.0 L642.2,33.4 L642.3,33.8 L642.4,34.3 L642.5,34.7 L642.6,35.2 L642.7,35.7 L642.8,36.2 L642.9,36.8 L643.0,37.3 L643.1,37.9 L643.2,38.6 L643.3,39.2 L643.4,39.9 L643.5,40.7 L643.6,41.4 L643.7,42.2 L643.8,43.1 L643.9,44.0 L644.0,44.9 L644.1,45.9 L644.2,47.0 L644.3,48.1 L644.4,49.3 L644.5,50.5 L644.6,51.8 L644.7,53.2 L644.8,54.6 L644.9,56.1 L645.0,57.7 L645.1,59.4 L645.2,61.1 L645.3,62.9 L645.4,64.8 L645.5,66.8 L645.6,68.9 L645.7,71.0 L645.8,73.2 L645.9,75.4 L646.0,77.7 L646.1,80.0 L646.2,82.4 L646.3,84.7 L646.4,87.0 L646.5,89.3 L646.6,91.5 L646.7,93.6 L646.8,95.5 L646.9,97.3 L647.0,98.9 L647.1,100.2 L647.2,101.2 L647.3,102.0 L647.4,102.5 L647.5,102.6 L647.6,102.5 L647.7,102.0 L647.8,101.2 L647.9,100.2 L648.0,98.8 L648.1,97.3 L648.2,95.5 L648.3,93.6 L648.4,91.5 L648.5,89.3 L648.6,87.0 L648.7,84.7 L648.8,82.4 L648.9,80.0 L649.0,77.7 L649.1,75.4 L649.2,73.1 L649.3,70.9 L649.4,68.8 L649.5,66.7 L649.6,64.8 L649.7,62.8 L649.8,61.0 L649.9,59.3 L650.0,57.6 L650.1,56.0 L650.2,54.5 L650.3,53.1 L650.4,51.7 L650.5,50.4 L650.6,49.1 L650.7,48.0 L650.8,46.8 L650.9,45.8 L651.0,44.8 L651.1,43.8 L651.2,42.9 L651.3,42.1 L651.4,41.2 L651.5,40.5 L651.6,39.7 L651.7,39.0 L651.8,38.3 L651.9,37.7 L652.0,37.1 L652.1,36.5 L652.2,36.0 L652.3,35.4 L652.4,34.9 L652.5,34.5 L652.6,34.0 L652.7,33.6 L652.8,33.2 L652.9,32.8 L653.0,32.4 L653.1,32.0 L653.2,31.7 L653.3,31.3 L653.4,31.0 L653.5,30.7 L653.6,30.4 L653.7,30.1 L653.8,29.8 L653.9,29.6 L654.0,29.3 L654.1,29.1 L654.2,28.9 L654.3,28.6 L654.4,28.4 L654.5,28.2 L654.6,28.0 L654.7,27.8 L654.8,27.6 L654.9,27.5 L655.0,27.3 L655.1,27.1 L655.2,27.0 L655.3,26.8 L655.4,26.7 L655.5,26.5 L655.6,26.4 L655.7,26.2 L655.8,26.1 L655.9,26.0 L656.0,25.9 L656.1,25.7 L656.2,25.6 L656.3,25.5 L656.4,25.4 L656.5,25.3 L656.6,25.2 L656.7,25.1 L656.8,25.0 L656.9,24.9 L657.0,24.8 L657.1,24.8 L657.2,24.7 L657.3,24.6 L657.4,24.5 L657.5,24.4 L657.6,24.4 L657.7,24.3 L657.8,24.2 L657.9,24.2 L658.0,24.1 L658.1,24.0 L658.2,24.0 L658.3,23.9 L658.4,23.9 L658.5,23.8 L658.6,23.7 L658.7,23.7 L658.8,23.6 L658.9,23.6 L659.0,23.5 L659.1,23.5 L659.2,23.5 L659.3,23.4 L659.4,23.4 L659.5,23.3 L659.6,23.3 L659.7,23.3 L659.8,23.2 L659.9,23.2 L660.0,23.2 L660.1,23.1 L660.2,23.1 L660.3,23.1 L660.4,23.0 L660.5,23.0 L660.6,23.0 L660.7,22.9 L660.8,22.9 L660.9,22.9 L661.0,22.9 L661.1,22.8 L661.2,22.8 L661.3,22.8 L661.4,22.7 L661.5,22.7 L661.6,22.7 L661.7,22.7 L661.8,22.6 L661.9,22.6 L662.0,22.6 L662.1,22.6 L662.2,22.6 L662.3,22.5 L662.4,22.5 L662.5,22.5 L662.6,22.5 L662.7,22.5 L662.8,22.5 L662.9,22.5 L663.0,22.4 L663.1,22.4 L663.2,22.4 L663.3,22.4 L663.4,22.4 L663.5,22.4 L663.6,22.4 L663.7,22.4 L663.8,22.4 L663.9,22.5 L664.0,22.5 L664.1,22.5 L664.2,22.5 L664.3,22.5 L664.4,22.5 L664.5,22.6 L664.6,22.6 L664.7,22.6 L664.8,22.7 L664.9,22.7 L665.0,22.8 L665.1,22.8 L665.2,22.9 L665.3,22.9 L665.4,23.0 L665.5,23.0 L665.6,23.1 L665.7,23.2 L665.8,23.3 L665.9,23.4 L666.0,23.5 L666.1,23.6 L666.2,23.7 L666.3,23.8 L666.4,23.9 L666.5,24.0 L666.6,24.2 L666.7,24.3 L666.8,24.5 L666.9,24.6 L667.0,24.8 L667.1,25.0 L667.2,25.2 L667.3,25.4 L667.4,25.6 L667.5,25.9 L667.6,26.1 L667.7,26.4 L667.8,26.7 L667.9,27.0 L668.0,27.3 L668.1,27.6 L668.2,28.0 L668.3,28.4 L668.4,28.8 L668.5,29.3 L668.6,29.8 L668.7,30.3 L668.8,30.9 L668.9,31.5 L669.0,32.1 L669.1,32.9 L669.2,33.6 L669.3,34.5 L669.4,35.4 L669.5,36.4 L669.6,37.5 L669.7,38.6 L669.8,39.9 L669.9,41.3 L670.0,42.9 L670.1,44.6 L670.2,46.4 L670.3,48.4 L670.4,50.6 L670.5,53.1 L670.6,55.7 L670.7,58.6 L670.8,61.8 L670.9,65.2 L671.0,68.9 L671.1,72.8 L671.2,76.9 L671.3,81.2 L671.4,85.5 L671.5,89.8 L671.6,93.8 L671.7,97.5 L671.8,100.7 L671.9,103.1 L672.0,104.6 L672.1,105.1 L672.2,104.6 L672.3,103.1 L672.4,100.7 L672.5,97.6 L672.6,93.9 L672.7,89.8 L672.8,85.5 L672.9,81.2 L673.0,77.0 L673.1,72.9 L673.2,69.0 L673.3,65.4 L673.4,62.0 L673.5,58.8 L673.6,56.0 L673.7,53.3 L673.8,50.9 L673.9,48.7 L674.0,46.7 L674.1,44.9 L674.2,43.2 L674.3,41.7 L674.4,40.4 L674.5,39.1 L674.6,37.9 L674.7,36.9 L674.8,35.9 L674.9,35.0 L675.0,34.2 L675.1,33.5 L675.2,32.8 L675.3,32.1 L675.4,31.5 L675.5,31.0 L675.6,30.5 L675.7,30.0 L675.8,29.6 L675.9,29.2 L676.0,28.8 L676.1,28.4 L676.2,28.1 L676.3,27.8 L676.4,27.5 L676.5,27.2 L676.6,27.0 L676.7,26.8 L676.8,26.5 L676.9,26.3 L677.0,26.1 L677.1,25.9 L677.2,25.8 L677.3,25.6 L677.4,25.5 L677.5,25.3 L677.6,25.2 L677.7,25.0 L677.8,24.9 L677.9,24.8 L678.0,24.7 L678.1,24.6 L678.2,24.5 L678.3,24.4 L678.4,24.3 L678.5,24.2 L678.6,24.2 L678.7,24.1 L678.8,24.0 L678.9,24.0 L679.0,23.9 L679.1,23.9 L679.2,23.8 L679.3,23.8 L679.4,23.7 L679.5,23.7 L679.6,23.6 L679.7,23.6 L679.8,23.6 L679.9,23.5 L680.0,23.5 L680.1,23.5 L680.2,23.4 L680.3,23.4 L680.4,23.4 L680.5,23.4 L680.6,23.4 L680.7,23.3 L680.8,23.3 L680.9,23.3 L681.0,23.3 L681.1,23.3 L681.2,23.3 L681.3,23.3 L681.4,23.3 L681.5,23.3 L681.6,23.3 L681.7,23.3 L681.8,23.3 L681.9,23.3 L682.0,23.3 L682.1,23.3 L682.2,23.3 L682.3,23.3 L682.4,23.3 L682.5,23.3 L682.6,23.3 L682.7,23.3 L682.8,23.3 L682.9,23.3 L683.0,23.3 L683.1,23.3 L683.2,23.4 L683.3,23.4 L683.4,23.4 L683.5,23.4 L683.6,23.4 L683.7,23.4 L683.8,23.4 L683.9,23.5 L684.0,23.5" stroke="#1f77b4" stroke-width="2.2" fill="none" stroke-linejoin="round"/>
<path d="M537.0,35.6 L537.1,36.0 L537.2,36.4 L537.3,36.8 L537.4,37.3 L537.5,37.9 L537.6,38.4 L537.7,39.1 L537.8,39.8 L537.9,40.5 L538.0,41.4 L538.1,42.3 L538.2,43.3 L538.3,44.4 L538.4,45.7 L538.5,47.1 L538.6,48.6 L538.7,50.3 L538.8,52.2 L538.9,54.4 L539.0,56.7 L539.1,59.3 L539.2,62.2 L539.3,65.4 L539.4,68.9 L539.5,72.6 L539.6,76.6 L539.7,80.7 L539.8,84.9 L539.9,89.1 L540.0,92.9 L540.1,96.3 L540.2,98.9 L540.3,100.5 L540.4,101.1 L540.5,100.5 L540.6,98.9 L540.7,96.2 L540.8,92.9 L540.9,89.0 L541.0,84.8 L541.1,80.6 L541.2,76.4 L541.3,72.4 L541.4,68.6 L541.5,65.1 L541.6,61.8 L541.7,58.9 L541.8,56.2 L541.9,53.8 L542.0,51.6 L542.1,49.7 L542.2,47.9 L542.3,46.3 L542.4,44.8 L542.5,43.5 L542.6,42.3 L542.7,41.3 L542.8,40.3 L542.9,39.4 L543.0,38.6 L543.1,37.8 L543.2,37.2 L543.3,36.5 L543.4,36.0 L543.5,35.4 L543.6,35.0 L543.7,34.5" stroke="#f07878" stroke-width="2.2" fill="none" stroke-dasharray="1.8,3.2"/>
<path d="M564.3,45.0 L564.4,45.9 L564.5,46.9 L564.6,48.0 L564.7,49.1 L564.8,50.4 L564.9,51.7 L565.0,53.1 L565.1,54.7 L565.2,56.4 L565.3,58.2 L565.4,60.1 L565.5,62.2 L565.6,64.5 L565.7,66.9 L565.8,69.5 L565.9,72.3 L566.0,75.2 L566.1,78.3 L566.2,81.5 L566.3,84.8 L566.4,88.1 L566.5,91.3 L566.6,94.5 L566.7,97.4 L566.8,100.0 L566.9,102.1 L567.0,103.8 L567.1,104.8 L567.2,105.1 L567.3,104.8 L567.4,103.8 L567.5,102.2 L567.6,100.1 L567.7,97.6 L567.8,94.7 L567.9,91.7 L568.0,88.5 L568.1,85.3 L568.2,82.2 L568.3,79.1 L568.4,76.2 L568.5,73.4 L568.6,70.8 L568.7,68.4 L568.8,66.1 L568.9,64.0 L569.0,62.1 L569.1,60.3 L569.2,58.7 L569.3,57.2 L569.4,55.8 L569.5,54.5 L569.6,53.4 L569.7,52.3 L569.8,51.3 L569.9,50.4 L570.0,49.5 L570.1,48.8 L570.2,48.1" stroke="#f07878" stroke-width="2.4" fill="none"/>
</g>
<path d="M428.6,16.0 V114.4 H684.0 V16.0" stroke="#333" stroke-width="1" fill="none"/>
<path d="M428.6,16.0 H684.0" stroke="#a8a8a8" stroke-width="1.5" fill="none"/>
<path d="M428.57,114.4 v-2.5 M461.40,114.4 v-2.5 M494.23,114.4 v-2.5 M527.06,114.4 v-2.5 M559.89,114.4 v-2.5 M592.72,114.4 v-2.5 M625.55,114.4 v-2.5 M658.38,114.4 v-2.5 M428.6,114.40 h2.5 M428.6,83.47 h2.5 M428.6,52.54 h2.5 M428.6,21.61 h2.5" stroke="#333" stroke-width="0.8" fill="none"/>
<text x="428.57" y="127.20" font-size="8.7" text-anchor="middle" fill="#111" stroke="#111" stroke-width="0.12" textLength="26.6" lengthAdjust="spacingAndGlyphs" >1535.4</text>
<text x="461.40" y="127.20" font-size="8.7" text-anchor="middle" fill="#111" stroke="#111" stroke-width="0.12" textLength="26.6" lengthAdjust="spacingAndGlyphs" >1535.5</text>
<text x="494.23" y="127.20" font-size="8.7" text-anchor="middle" fill="#111" stroke="#111" stroke-width="0.12" textLength="26.6" lengthAdjust="spacingAndGlyphs" >1535.6</text>
<text x="527.06" y="127.20" font-size="8.7" text-anchor="middle" fill="#111" stroke="#111" stroke-width="0.12" textLength="26.6" lengthAdjust="spacingAndGlyphs" >1535.7</text>
<text x="559.89" y="127.20" font-size="8.7" text-anchor="middle" fill="#111" stroke="#111" stroke-width="0.12" textLength="26.6" lengthAdjust="spacingAndGlyphs" >1535.8</text>
<text x="592.72" y="127.20" font-size="8.7" text-anchor="middle" fill="#111" stroke="#111" stroke-width="0.12" textLength="26.6" lengthAdjust="spacingAndGlyphs" >1535.9</text>
<text x="625.55" y="127.20" font-size="8.7" text-anchor="middle" fill="#111" stroke="#111" stroke-width="0.12" textLength="26.6" lengthAdjust="spacingAndGlyphs" >1536.0</text>
<text x="658.38" y="127.20" font-size="8.7" text-anchor="middle" fill="#111" stroke="#111" stroke-width="0.12" textLength="26.6" lengthAdjust="spacingAndGlyphs" >1536.1</text>
<text x="426.00" y="117.70" font-size="8.7" text-anchor="end" fill="#111" stroke="#111" stroke-width="0.12" textLength="11.8" lengthAdjust="spacingAndGlyphs" >0.0</text>
<text x="426.00" y="86.77" font-size="8.7" text-anchor="end" fill="#111" stroke="#111" stroke-width="0.12" textLength="11.8" lengthAdjust="spacingAndGlyphs" >0.1</text>
<text x="426.00" y="55.84" font-size="8.7" text-anchor="end" fill="#111" stroke="#111" stroke-width="0.12" textLength="11.8" lengthAdjust="spacingAndGlyphs" >0.2</text>
<text x="426.00" y="24.91" font-size="8.7" text-anchor="end" fill="#111" stroke="#111" stroke-width="0.12" textLength="11.8" lengthAdjust="spacingAndGlyphs" >0.3</text>
<text transform="translate(409.3,109.3) rotate(-90)" font-size="9.6" fill="#111" stroke="#111" stroke-width="0.1" textLength="86.8" lengthAdjust="spacingAndGlyphs">Transmission (a.u.)</text>
<rect x="630.9" y="20.6" width="48.6" height="31.4" rx="2" fill="#fff" fill-opacity="1" stroke="#d4d4d4" stroke-width="0.8"/>
<line x1="634" y1="28.6" x2="653" y2="28.6" stroke="#f07878" stroke-width="2" stroke-dasharray="2,3.6"/>
<line x1="633.6" y1="43.2" x2="654.6" y2="43.2" stroke="#f07878" stroke-width="2.2"/>
<path d="M662.50,25.70 V33.50 M668.00,25.70 L670.00,29.60 L668.00,33.50" stroke="#1a1a1a" stroke-width="0.75" fill="none"/><text x="663.20" y="32.60" font-family="Liberation Serif, serif" font-size="8.9" fill="#1a1a1a">1</text><text x="671.10" y="34.20" font-family="Liberation Serif, serif" font-style="italic" font-size="6.6" fill="#1a1a1a">s</text>
<path d="M662.50,40.20 V48.00 M668.00,40.20 L670.00,44.10 L668.00,48.00" stroke="#1a1a1a" stroke-width="0.75" fill="none"/><text x="663.20" y="47.10" font-family="Liberation Serif, serif" font-size="8.9" fill="#1a1a1a">0</text><text x="671.10" y="48.70" font-family="Liberation Serif, serif" font-style="italic" font-size="6.6" fill="#1a1a1a">s</text>
<text x="369.60" y="14.70" font-size="19.8" text-anchor="start" fill="#000" stroke="#000" stroke-width="0.12" letter-spacing="1.2">b)</text>
<text x="390.90" y="15.40" font-size="14.8" text-anchor="start" fill="#000" stroke="#000" stroke-width="0.12" letter-spacing="0.8">i)</text>
<defs><clipPath id="cbii"><rect x="428.6" y="134.2" width="255.39999999999998" height="98.9"/></clipPath></defs>
<path d="M444.50,134.2 V233.1 M476.14,134.2 V233.1 M507.78,134.2 V233.1 M539.42,134.2 V233.1 M571.06,134.2 V233.1 M602.70,134.2 V233.1 M634.34,134.2 V233.1 M665.98,134.2 V233.1 M428.6,202.47 H684.0 M428.6,171.84 H684.0 M428.6,141.21 H684.0" stroke="#d0d0d0" stroke-width="1" fill="none"/>
<g clip-path="url(#cbii)"><path d="M428.6,141.8 L428.7,141.9 L428.8,141.9 L428.9,141.9 L429.0,142.0 L429.1,142.0 L429.2,142.0 L429.3,142.1 L429.4,142.1 L429.5,142.2 L429.6,142.2 L429.7,142.2 L429.8,142.3 L429.9,142.3 L430.0,142.4 L430.1,142.4 L430.2,142.5 L430.3,142.5 L430.4,142.6 L430.5,142.6 L430.6,142.7 L430.7,142.7 L430.8,142.8 L430.9,142.8 L431.0,142.9 L431.1,143.0 L431.2,143.0 L431.3,143.1 L431.4,143.1 L431.5,143.2 L431.6,143.3 L431.7,143.4 L431.8,143.4 L431.9,143.5 L432.0,143.6 L432.1,143.7 L432.2,143.8 L432.3,143.9 L432.4,144.0 L432.5,144.1 L432.6,144.2 L432.7,144.3 L432.8,144.4 L432.9,144.5 L433.0,144.6 L433.1,144.7 L433.2,144.9 L433.3,145.0 L433.4,145.1 L433.5,145.3 L433.6,145.5 L433.7,145.6 L433.8,145.8 L433.9,146.0 L434.0,146.2 L434.1,146.4 L434.2,146.6 L434.3,146.8 L434.4,147.0 L434.5,147.3 L434.6,147.5 L434.7,147.8 L434.8,148.1 L434.9,148.4 L435.0,148.7 L435.1,149.1 L435.2,149.5 L435.3,149.9 L435.4,150.3 L435.5,150.7 L435.6,151.2 L435.7,151.7 L435.8,152.3 L435.9,152.9 L436.0,153.5 L436.1,154.2 L436.2,154.9 L436.3,155.7 L436.4,156.5 L436.5,157.5 L436.6,158.4 L436.7,159.5 L436.8,160.7 L436.9,161.9 L437.0,163.3 L437.1,164.8 L437.2,166.4 L437.3,168.1 L437.4,170.0 L437.5,172.1 L437.6,174.3 L437.7,176.7 L437.8,179.2 L437.9,182.0 L438.0,184.9 L438.1,188.0 L438.2,191.2 L438.3,194.5 L438.4,197.8 L438.5,201.1 L438.6,204.3 L438.7,207.3 L438.8,210.0 L438.9,212.2 L439.0,213.9 L439.1,215.0 L439.2,215.3 L439.3,215.0 L439.4,213.9 L439.5,212.3 L439.6,210.0 L439.7,207.4 L439.8,204.4 L439.9,201.2 L440.0,197.8 L440.1,194.5 L440.2,191.2 L440.3,188.0 L440.4,185.0 L440.5,182.0 L440.6,179.3 L440.7,176.8 L440.8,174.4 L440.9,172.2 L441.0,170.1 L441.1,168.3 L441.2,166.5 L441.3,164.9 L441.4,163.5 L441.5,162.1 L441.6,160.9 L441.7,159.7 L441.8,158.6 L441.9,157.7 L442.0,156.8 L442.1,155.9 L442.2,155.1 L442.3,154.4 L442.4,153.8 L442.5,153.1 L442.6,152.6 L442.7,152.0 L442.8,151.5 L442.9,151.0 L443.0,150.6 L443.1,150.2 L443.2,149.8 L443.3,149.4 L443.4,149.1 L443.5,148.8 L443.6,148.5 L443.7,148.2 L443.8,147.9 L443.9,147.7 L444.0,147.5 L444.1,147.2 L444.2,147.0 L444.3,146.8 L444.4,146.6 L444.5,146.5 L444.6,146.3 L444.7,146.1 L444.8,146.0 L444.9,145.8 L445.0,145.7 L445.1,145.6 L445.2,145.4 L445.3,145.3 L445.4,145.2 L445.5,145.1 L445.6,145.0 L445.7,144.9 L445.8,144.8 L445.9,144.7 L446.0,144.6 L446.1,144.5 L446.2,144.5 L446.3,144.4 L446.4,144.3 L446.5,144.3 L446.6,144.2 L446.7,144.1 L446.8,144.1 L446.9,144.0 L447.0,144.0 L447.1,143.9 L447.2,143.8 L447.3,143.8 L447.4,143.8 L447.5,143.7 L447.6,143.7 L447.7,143.6 L447.8,143.6 L447.9,143.5 L448.0,143.5 L448.1,143.5 L448.2,143.4 L448.3,143.4 L448.4,143.4 L448.5,143.4 L448.6,143.3 L448.7,143.3 L448.8,143.3 L448.9,143.2 L449.0,143.2 L449.1,143.2 L449.2,143.2 L449.3,143.2 L449.4,143.1 L449.5,143.1 L449.6,143.1 L449.7,143.1 L449.8,143.1 L449.9,143.1 L450.0,143.0 L450.1,143.0 L450.2,143.0 L450.3,143.0 L450.4,143.0 L450.5,143.0 L450.6,143.0 L450.7,143.0 L450.8,143.0 L450.9,143.0 L451.0,143.0 L451.1,142.9 L451.2,142.9 L451.3,142.9 L451.4,142.9 L451.5,142.9 L451.6,142.9 L451.7,142.9 L451.8,142.9 L451.9,142.9 L452.0,142.9 L452.1,142.9 L452.2,142.9 L452.3,142.9 L452.4,142.9 L452.5,142.9 L452.6,142.9 L452.7,142.9 L452.8,143.0 L452.9,143.0 L453.0,143.0 L453.1,143.0 L453.2,143.0 L453.3,143.0 L453.4,143.0 L453.5,143.0 L453.6,143.0 L453.7,143.0 L453.8,143.1 L453.9,143.1 L454.0,143.1 L454.1,143.1 L454.2,143.1 L454.3,143.1 L454.4,143.1 L454.5,143.2 L454.6,143.2 L454.7,143.2 L454.8,143.2 L454.9,143.3 L455.0,143.3 L455.1,143.3 L455.2,143.3 L455.3,143.4 L455.4,143.4 L455.5,143.4 L455.6,143.5 L455.7,143.5 L455.8,143.5 L455.9,143.6 L456.0,143.6 L456.1,143.7 L456.2,143.7 L456.3,143.8 L456.4,143.8 L456.5,143.9 L456.6,143.9 L456.7,144.0 L456.8,144.1 L456.9,144.1 L457.0,144.2 L457.1,144.3 L457.2,144.3 L457.3,144.4 L457.4,144.5 L457.5,144.6 L457.6,144.7 L457.7,144.8 L457.8,144.9 L457.9,145.0 L458.0,145.1 L458.1,145.2 L458.2,145.3 L458.3,145.5 L458.4,145.6 L458.5,145.7 L458.6,145.9 L458.7,146.1 L458.8,146.2 L458.9,146.4 L459.0,146.6 L459.1,146.8 L459.2,147.1 L459.3,147.3 L459.4,147.5 L459.5,147.8 L459.6,148.1 L459.7,148.4 L459.8,148.7 L459.9,149.1 L460.0,149.5 L460.1,149.9 L460.2,150.3 L460.3,150.8 L460.4,151.3 L460.5,151.8 L460.6,152.4 L460.7,153.0 L460.8,153.7 L460.9,154.5 L461.0,155.3 L461.1,156.1 L461.2,157.1 L461.3,158.1 L461.4,159.3 L461.5,160.5 L461.6,161.9 L461.7,163.4 L461.8,165.0 L461.9,166.8 L462.0,168.7 L462.1,170.9 L462.2,173.2 L462.3,175.7 L462.4,178.5 L462.5,181.4 L462.6,184.6 L462.7,188.0 L462.8,191.5 L462.9,195.1 L463.0,198.8 L463.1,202.4 L463.2,205.9 L463.3,209.0 L463.4,211.6 L463.5,213.6 L463.6,214.9 L463.7,215.3 L463.8,214.9 L463.9,213.6 L464.0,211.6 L464.1,209.0 L464.2,205.9 L464.3,202.4 L464.4,198.8 L464.5,195.1 L464.6,191.4 L464.7,187.9 L464.8,184.5 L464.9,181.3 L465.0,178.3 L465.1,175.6 L465.2,173.0 L465.3,170.7 L465.4,168.5 L465.5,166.6 L465.6,164.8 L465.7,163.1 L465.8,161.6 L465.9,160.2 L466.0,159.0 L466.1,157.8 L466.2,156.8 L466.3,155.8 L466.4,154.9 L466.5,154.1 L466.6,153.3 L466.7,152.6 L466.8,152.0 L466.9,151.3 L467.0,150.8 L467.1,150.3 L467.2,149.8 L467.3,149.3 L467.4,148.9 L467.5,148.5 L467.6,148.2 L467.7,147.8 L467.8,147.5 L467.9,147.2 L468.0,146.9 L468.1,146.6 L468.2,146.4 L468.3,146.1 L468.4,145.9 L468.5,145.7 L468.6,145.5 L468.7,145.3 L468.8,145.1 L468.9,144.9 L469.0,144.8 L469.1,144.6 L469.2,144.5 L469.3,144.3 L469.4,144.2 L469.5,144.1 L469.6,144.0 L469.7,143.8 L469.8,143.7 L469.9,143.6 L470.0,143.5 L470.1,143.4 L470.2,143.3 L470.3,143.2 L470.4,143.1 L470.5,143.1 L470.6,143.0 L470.7,142.9 L470.8,142.8 L470.9,142.8 L471.0,142.7 L471.1,142.6 L471.2,142.6 L471.3,142.5 L471.4,142.4 L471.5,142.4 L471.6,142.3 L471.7,142.3 L471.8,142.2 L471.9,142.2 L472.0,142.1 L472.1,142.1 L472.2,142.0 L472.3,142.0 L472.4,141.9 L472.5,141.9 L472.6,141.9 L472.7,141.8 L472.8,141.8 L472.9,141.7 L473.0,141.7 L473.1,141.6 L473.2,141.6 L473.3,141.6 L473.4,141.5 L473.5,141.5 L473.6,141.4 L473.7,141.4 L473.8,141.4 L473.9,141.3 L474.0,141.3 L474.1,141.2 L474.2,141.2 L474.3,141.2 L474.4,141.1 L474.5,141.1 L474.6,141.0 L474.7,141.0 L474.8,141.0 L474.9,140.9 L475.0,140.9 L475.1,140.9 L475.2,140.8 L475.3,140.8 L475.4,140.8 L475.5,140.7 L475.6,140.7 L475.7,140.7 L475.8,140.6 L475.9,140.6 L476.0,140.6 L476.1,140.6 L476.2,140.5 L476.3,140.5 L476.4,140.5 L476.5,140.5 L476.6,140.4 L476.7,140.4 L476.8,140.4 L476.9,140.4 L477.0,140.4 L477.1,140.3 L477.2,140.3 L477.3,140.3 L477.4,140.3 L477.5,140.3 L477.6,140.3 L477.7,140.3 L477.8,140.3 L477.9,140.3 L478.0,140.3 L478.1,140.3 L478.2,140.3 L478.3,140.3 L478.4,140.3 L478.5,140.3 L478.6,140.3 L478.7,140.3 L478.8,140.3 L478.9,140.3 L479.0,140.3 L479.1,140.3 L479.2,140.3 L479.3,140.4 L479.4,140.4 L479.5,140.4 L479.6,140.5 L479.7,140.5 L479.8,140.5 L479.9,140.6 L480.0,140.6 L480.1,140.6 L480.2,140.7 L480.3,140.7 L480.4,140.8 L480.5,140.8 L480.6,140.9 L480.7,140.9 L480.8,141.0 L480.9,141.1 L481.0,141.1 L481.1,141.2 L481.2,141.3 L481.3,141.3 L481.4,141.4 L481.5,141.5 L481.6,141.6 L481.7,141.6 L481.8,141.7 L481.9,141.8 L482.0,141.9 L482.1,142.0 L482.2,142.1 L482.3,142.2 L482.4,142.4 L482.5,142.5 L482.6,142.6 L482.7,142.8 L482.8,142.9 L482.9,143.0 L483.0,143.2 L483.1,143.4 L483.2,143.5 L483.3,143.7 L483.4,143.9 L483.5,144.1 L483.6,144.3 L483.7,144.5 L483.8,144.8 L483.9,145.0 L484.0,145.3 L484.1,145.5 L484.2,145.8 L484.3,146.2 L484.4,146.5 L484.5,146.8 L484.6,147.2 L484.7,147.6 L484.8,148.0 L484.9,148.5 L485.0,148.9 L485.1,149.4 L485.2,150.0 L485.3,150.6 L485.4,151.2 L485.5,151.9 L485.6,152.6 L485.7,153.3 L485.8,154.2 L485.9,155.1 L486.0,156.0 L486.1,157.1 L486.2,158.2 L486.3,159.4 L486.4,160.7 L486.5,162.1 L486.6,163.7 L486.7,165.4 L486.8,167.2 L486.9,169.1 L487.0,171.3 L487.1,173.6 L487.2,176.1 L487.3,178.9 L487.4,181.8 L487.5,184.9 L487.6,188.3 L487.7,191.9 L487.8,195.7 L487.9,199.6 L488.0,203.7 L488.1,207.8 L488.2,211.9 L488.3,215.9 L488.4,219.6 L488.5,222.9 L488.6,225.6 L488.7,227.7 L488.8,229.0 L488.9,229.4 L489.0,229.0 L489.1,227.7 L489.2,225.6 L489.3,222.9 L489.4,219.6 L489.5,215.9 L489.6,211.9 L489.7,207.8 L489.8,203.7 L489.9,199.6 L490.0,195.7 L490.1,191.9 L490.2,188.3 L490.3,184.9 L490.4,181.8 L490.5,178.8 L490.6,176.1 L490.7,173.6 L490.8,171.2 L490.9,169.1 L491.0,167.1 L491.1,165.3 L491.2,163.6 L491.3,162.1 L491.4,160.6 L491.5,159.3 L491.6,158.1 L491.7,157.0 L491.8,155.9 L491.9,155.0 L492.0,154.1 L492.1,153.3 L492.2,152.5 L492.3,151.8 L492.4,151.1 L492.5,150.5 L492.6,149.9 L492.7,149.3 L492.8,148.8 L492.9,148.3 L493.0,147.9 L493.1,147.5 L493.2,147.1 L493.3,146.7 L493.4,146.4 L493.5,146.0 L493.6,145.7 L493.7,145.4 L493.8,145.1 L493.9,144.9 L494.0,144.6 L494.1,144.4 L494.2,144.2 L494.3,143.9 L494.4,143.7 L494.5,143.5 L494.6,143.4 L494.7,143.2 L494.8,143.0 L494.9,142.9 L495.0,142.7 L495.1,142.6 L495.2,142.4 L495.3,142.3 L495.4,142.2 L495.5,142.1 L495.6,141.9 L495.7,141.8 L495.8,141.7 L495.9,141.6 L496.0,141.5 L496.1,141.4 L496.2,141.3 L496.3,141.3 L496.4,141.2 L496.5,141.1 L496.6,141.0 L496.7,141.0 L496.8,140.9 L496.9,140.8 L497.0,140.8 L497.1,140.7 L497.2,140.6 L497.3,140.6 L497.4,140.5 L497.5,140.5 L497.6,140.4 L497.7,140.4 L497.8,140.3 L497.9,140.3 L498.0,140.2 L498.1,140.2 L498.2,140.2 L498.3,140.1 L498.4,140.1 L498.5,140.1 L498.6,140.0 L498.7,140.0 L498.8,140.0 L498.9,139.9 L499.0,139.9 L499.1,139.9 L499.2,139.8 L499.3,139.8 L499.4,139.8 L499.5,139.8 L499.6,139.8 L499.7,139.7 L499.8,139.7 L499.9,139.7 L500.0,139.7 L500.1,139.7 L500.2,139.6 L500.3,139.6 L500.4,139.6 L500.5,139.6 L500.6,139.6 L500.7,139.6 L500.8,139.6 L500.9,139.6 L501.0,139.6 L501.1,139.6 L501.2,139.6 L501.3,139.6 L501.4,139.6 L501.5,139.6 L501.6,139.6 L501.7,139.6 L501.8,139.6 L501.9,139.6 L502.0,139.6 L502.1,139.6 L502.2,139.6 L502.3,139.6 L502.4,139.6 L502.5,139.6 L502.6,139.6 L502.7,139.6 L502.8,139.6 L502.9,139.6 L503.0,139.7 L503.1,139.7 L503.2,139.7 L503.3,139.7 L503.4,139.7 L503.5,139.8 L503.6,139.8 L503.7,139.8 L503.8,139.8 L503.9,139.8 L504.0,139.9 L504.1,139.9 L504.2,139.9 L504.3,140.0 L504.4,140.0 L504.5,140.0 L504.6,140.1 L504.7,140.1 L504.8,140.1 L504.9,140.2 L505.0,140.2 L505.1,140.3 L505.2,140.3 L505.3,140.4 L505.4,140.4 L505.5,140.5 L505.6,140.5 L505.7,140.6 L505.8,140.6 L505.9,140.7 L506.0,140.7 L506.1,140.8 L506.2,140.9 L506.3,140.9 L506.4,141.0 L506.5,141.1 L506.6,141.2 L506.7,141.3 L506.8,141.3 L506.9,141.4 L507.0,141.5 L507.1,141.6 L507.2,141.7 L507.3,141.8 L507.4,142.0 L507.5,142.1 L507.6,142.2 L507.7,142.3 L507.8,142.5 L507.9,142.6 L508.0,142.8 L508.1,142.9 L508.2,143.1 L508.3,143.3 L508.4,143.5 L508.5,143.7 L508.6,143.9 L508.7,144.1 L508.8,144.3 L508.9,144.6 L509.0,144.8 L509.1,145.1 L509.2,145.4 L509.3,145.7 L509.4,146.0 L509.5,146.4 L509.6,146.8 L509.7,147.2 L509.8,147.6 L509.9,148.1 L510.0,148.6 L510.1,149.2 L510.2,149.8 L510.3,150.4 L510.4,151.1 L510.5,151.8 L510.6,152.7 L510.7,153.5 L510.8,154.5 L510.9,155.6 L511.0,156.7 L511.1,158.0 L511.2,159.4 L511.3,160.9 L511.4,162.6 L511.5,164.4 L511.6,166.4 L511.7,168.7 L511.8,171.1 L511.9,173.8 L512.0,176.8 L512.1,180.0 L512.2,183.4 L512.3,187.2 L512.4,191.1 L512.5,195.3 L512.6,199.5 L512.7,203.7 L512.8,207.8 L512.9,211.6 L513.0,214.8 L513.1,217.2 L513.2,218.8 L513.3,219.3 L513.4,218.8 L513.5,217.2 L513.6,214.8 L513.7,211.6 L513.8,207.9 L513.9,203.8 L514.0,199.6 L514.1,195.4 L514.2,191.3 L514.3,187.4 L514.4,183.7 L514.5,180.2 L514.6,177.1 L514.7,174.2 L514.8,171.5 L514.9,169.1 L515.0,166.9 L515.1,164.9 L515.2,163.1 L515.3,161.5 L515.4,160.0 L515.5,158.7 L515.6,157.5 L515.7,156.3 L515.8,155.3 L515.9,154.4 L516.0,153.6 L516.1,152.8 L516.2,152.1 L516.3,151.4 L516.4,150.8 L516.5,150.3 L516.6,149.8 L516.7,149.3 L516.8,148.9 L516.9,148.5 L517.0,148.1 L517.1,147.8 L517.2,147.4 L517.3,147.1 L517.4,146.9 L517.5,146.6 L517.6,146.4 L517.7,146.1 L517.8,145.9 L517.9,145.7 L518.0,145.6 L518.1,145.4 L518.2,145.2 L518.3,145.1 L518.4,144.9 L518.5,144.8 L518.6,144.7 L518.7,144.6 L518.8,144.5 L518.9,144.4 L519.0,144.3 L519.1,144.2 L519.2,144.1 L519.3,144.0 L519.4,143.9 L519.5,143.9 L519.6,143.8 L519.7,143.7 L519.8,143.7 L519.9,143.6 L520.0,143.6 L520.1,143.5 L520.2,143.5 L520.3,143.4 L520.4,143.4 L520.5,143.4 L520.6,143.3 L520.7,143.3 L520.8,143.3 L520.9,143.3 L521.0,143.2 L521.1,143.2 L521.2,143.2 L521.3,143.2 L521.4,143.1 L521.5,143.1 L521.6,143.1 L521.7,143.1 L521.8,143.1 L521.9,143.1 L522.0,143.1 L522.1,143.1 L522.2,143.1 L522.3,143.0 L522.4,143.0 L522.5,143.0 L522.6,143.0 L522.7,143.0 L522.8,143.0 L522.9,143.0 L523.0,143.0 L523.1,143.0 L523.2,143.0 L523.3,143.0 L523.4,143.0 L523.5,143.0 L523.6,143.1 L523.7,143.1 L523.8,143.1 L523.9,143.1 L524.0,143.1 L524.1,143.1 L524.2,143.1 L524.3,143.1 L524.4,143.1 L524.5,143.2 L524.6,143.2 L524.7,143.2 L524.8,143.2 L524.9,143.2 L525.0,143.3 L525.1,143.3 L525.2,143.3 L525.3,143.3 L525.4,143.4 L525.5,143.4 L525.6,143.4 L525.7,143.5 L525.8,143.5 L525.9,143.5 L526.0,143.5 L526.1,143.6 L526.2,143.6 L526.3,143.6 L526.4,143.7 L526.5,143.7 L526.6,143.7 L526.7,143.8 L526.8,143.8 L526.9,143.8 L527.0,143.9 L527.1,143.9 L527.2,144.0 L527.3,144.0 L527.4,144.0 L527.5,144.1 L527.6,144.1 L527.7,144.1 L527.8,144.2 L527.9,144.2 L528.0,144.2 L528.1,144.3 L528.2,144.3 L528.3,144.4 L528.4,144.4 L528.5,144.4 L528.6,144.5 L528.7,144.5 L528.8,144.5 L528.9,144.6 L529.0,144.6 L529.1,144.7 L529.2,144.7 L529.3,144.7 L529.4,144.8 L529.5,144.8 L529.6,144.9 L529.7,144.9 L529.8,144.9 L529.9,145.0 L530.0,145.0 L530.1,145.0 L530.2,145.1 L530.3,145.1 L530.4,145.2 L530.5,145.2 L530.6,145.2 L530.7,145.3 L530.8,145.3 L530.9,145.4 L531.0,145.4 L531.1,145.4 L531.2,145.5 L531.3,145.5 L531.4,145.6 L531.5,145.6 L531.6,145.7 L531.7,145.7 L531.8,145.8 L531.9,145.8 L532.0,145.9 L532.1,146.0 L532.2,146.0 L532.3,146.1 L532.4,146.2 L532.5,146.2 L532.6,146.3 L532.7,146.4 L532.8,146.5 L532.9,146.6 L533.0,146.7 L533.1,146.8 L533.2,146.9 L533.3,147.0 L533.4,147.1 L533.5,147.2 L533.6,147.3 L533.7,147.5 L533.8,147.6 L533.9,147.8 L534.0,147.9 L534.1,148.1 L534.2,148.3 L534.3,148.5 L534.4,148.7 L534.5,148.9 L534.6,149.2 L534.7,149.5 L534.8,149.7 L534.9,150.0 L535.0,150.4 L535.1,150.7 L535.2,151.1 L535.3,151.5 L535.4,151.9 L535.5,152.4 L535.6,152.9 L535.7,153.4 L535.8,154.0 L535.9,154.7 L536.0,155.3 L536.1,156.1 L536.2,156.9 L536.3,157.8 L536.4,158.8 L536.5,159.9 L536.6,161.1 L536.7,162.3 L536.8,163.7 L536.9,165.3 L537.0,167.0 L537.1,168.8 L537.2,170.9 L537.3,173.1 L537.4,175.5 L537.5,178.2 L537.6,181.1 L537.7,184.2 L537.8,187.5 L537.9,191.0 L538.0,194.8 L538.1,198.6 L538.2,202.5 L538.3,206.3 L538.4,209.9 L538.5,213.2 L538.6,216.0 L538.7,218.1 L538.8,219.5 L538.9,219.9 L539.0,219.5 L539.1,218.1 L539.2,216.0 L539.3,213.2 L539.4,209.8 L539.5,206.2 L539.6,202.3 L539.7,198.3 L539.8,194.4 L539.9,190.7 L540.0,187.0 L540.1,183.6 L540.2,180.4 L540.3,177.5 L540.4,174.7 L540.5,172.2 L540.6,169.9 L540.7,167.8 L540.8,165.8 L540.9,164.0 L541.0,162.4 L541.1,160.9 L541.2,159.5 L541.3,158.3 L541.4,157.1 L541.5,156.0 L541.6,155.0 L541.7,154.1 L541.8,153.3 L541.9,152.5 L542.0,151.8 L542.1,151.1 L542.2,150.5 L542.3,149.9 L542.4,149.3 L542.5,148.8 L542.6,148.3 L542.7,147.9 L542.8,147.5 L542.9,147.1 L543.0,146.7 L543.1,146.3 L543.2,146.0 L543.3,145.7 L543.4,145.4 L543.5,145.1 L543.6,144.8 L543.7,144.6 L543.8,144.3 L543.9,144.1 L544.0,143.9 L544.1,143.7 L544.2,143.5 L544.3,143.3 L544.4,143.1 L544.5,142.9 L544.6,142.7 L544.7,142.6 L544.8,142.4 L544.9,142.3 L545.0,142.1 L545.1,142.0 L545.2,141.9 L545.3,141.7 L545.4,141.6 L545.5,141.5 L545.6,141.4 L545.7,141.3 L545.8,141.2 L545.9,141.1 L546.0,141.0 L546.1,140.9 L546.2,140.8 L546.3,140.7 L546.4,140.6 L546.5,140.5 L546.6,140.4 L546.7,140.4 L546.8,140.3 L546.9,140.2 L547.0,140.2 L547.1,140.1 L547.2,140.0 L547.3,140.0 L547.4,139.9 L547.5,139.8 L547.6,139.8 L547.7,139.7 L547.8,139.7 L547.9,139.6 L548.0,139.6 L548.1,139.6 L548.2,139.5 L548.3,139.5 L548.4,139.4 L548.5,139.4 L548.6,139.4 L548.7,139.3 L548.8,139.3 L548.9,139.3 L549.0,139.2 L549.1,139.2 L549.2,139.2 L549.3,139.2 L549.4,139.2 L549.5,139.1 L549.6,139.1 L549.7,139.1 L549.8,139.1 L549.9,139.1 L550.0,139.1 L550.1,139.1 L550.2,139.0 L550.3,139.0 L550.4,139.0 L550.5,139.0 L550.6,139.0 L550.7,139.0 L550.8,139.0 L550.9,139.0 L551.0,139.0 L551.1,139.0 L551.2,139.0 L551.3,139.0 L551.4,139.0 L551.5,139.0 L551.6,139.0 L551.7,139.0 L551.8,139.0 L551.9,139.0 L552.0,139.0 L552.1,139.0 L552.2,139.0 L552.3,139.0 L552.4,139.0 L552.5,139.1 L552.6,139.1 L552.7,139.1 L552.8,139.1 L552.9,139.1 L553.0,139.1 L553.1,139.1 L553.2,139.1 L553.3,139.1 L553.4,139.2 L553.5,139.2 L553.6,139.2 L553.7,139.2 L553.8,139.2 L553.9,139.3 L554.0,139.3 L554.1,139.3 L554.2,139.3 L554.3,139.3 L554.4,139.4 L554.5,139.4 L554.6,139.4 L554.7,139.4 L554.8,139.5 L554.9,139.5 L555.0,139.5 L555.1,139.6 L555.2,139.6 L555.3,139.6 L555.4,139.7 L555.5,139.7 L555.6,139.8 L555.7,139.8 L555.8,139.9 L555.9,139.9 L556.0,139.9 L556.1,140.0 L556.2,140.1 L556.3,140.1 L556.4,140.2 L556.5,140.2 L556.6,140.3 L556.7,140.4 L556.8,140.4 L556.9,140.5 L557.0,140.6 L557.1,140.6 L557.2,140.7 L557.3,140.8 L557.4,140.9 L557.5,141.0 L557.6,141.1 L557.7,141.2 L557.8,141.3 L557.9,141.4 L558.0,141.5 L558.1,141.6 L558.2,141.8 L558.3,141.9 L558.4,142.0 L558.5,142.2 L558.6,142.4 L558.7,142.5 L558.8,142.7 L558.9,142.9 L559.0,143.1 L559.1,143.3 L559.2,143.5 L559.3,143.7 L559.4,144.0 L559.5,144.2 L559.6,144.5 L559.7,144.8 L559.8,145.1 L559.9,145.4 L560.0,145.8 L560.1,146.2 L560.2,146.6 L560.3,147.0 L560.4,147.5 L560.5,148.0 L560.6,148.5 L560.7,149.1 L560.8,149.7 L560.9,150.3 L561.0,151.1 L561.1,151.8 L561.2,152.7 L561.3,153.6 L561.4,154.6 L561.5,155.7 L561.6,156.8 L561.7,158.1 L561.8,159.5 L561.9,161.0 L562.0,162.7 L562.1,164.5 L562.2,166.5 L562.3,168.7 L562.4,171.1 L562.5,173.7 L562.6,176.6 L562.7,179.6 L562.8,182.9 L562.9,186.5 L563.0,190.3 L563.1,194.2 L563.2,198.3 L563.3,202.4 L563.4,206.4 L563.5,210.3 L563.6,213.8 L563.7,216.7 L563.8,219.0 L563.9,220.4 L564.0,220.8 L564.1,220.4 L564.2,219.0 L564.3,216.7 L564.4,213.8 L564.5,210.3 L564.6,206.5 L564.7,202.4 L564.8,198.3 L564.9,194.2 L565.0,190.3 L565.1,186.5 L565.2,183.0 L565.3,179.7 L565.4,176.6 L565.5,173.8 L565.6,171.2 L565.7,168.8 L565.8,166.6 L565.9,164.6 L566.0,162.8 L566.1,161.1 L566.2,159.6 L566.3,158.2 L566.4,157.0 L566.5,155.8 L566.6,154.7 L566.7,153.7 L566.8,152.8 L566.9,152.0 L567.0,151.2 L567.1,150.5 L567.2,149.9 L567.3,149.3 L567.4,148.7 L567.5,148.2 L567.6,147.7 L567.7,147.2 L567.8,146.8 L567.9,146.4 L568.0,146.0 L568.1,145.7 L568.2,145.4 L568.3,145.1 L568.4,144.8 L568.5,144.5 L568.6,144.3 L568.7,144.0 L568.8,143.8 L568.9,143.6 L569.0,143.4 L569.1,143.2 L569.2,143.0 L569.3,142.9 L569.4,142.7 L569.5,142.5 L569.6,142.4 L569.7,142.3 L569.8,142.1 L569.9,142.0 L570.0,141.9 L570.1,141.8 L570.2,141.7 L570.3,141.6 L570.4,141.5 L570.5,141.4 L570.6,141.3 L570.7,141.2 L570.8,141.1 L570.9,141.1 L571.0,141.0 L571.1,140.9 L571.2,140.9 L571.3,140.8 L571.4,140.7 L571.5,140.7 L571.6,140.6 L571.7,140.6 L571.8,140.5 L571.9,140.5 L572.0,140.4 L572.1,140.4 L572.2,140.4 L572.3,140.3 L572.4,140.3 L572.5,140.2 L572.6,140.2 L572.7,140.2 L572.8,140.1 L572.9,140.1 L573.0,140.1 L573.1,140.1 L573.2,140.0 L573.3,140.0 L573.4,140.0 L573.5,140.0 L573.6,139.9 L573.7,139.9 L573.8,139.9 L573.9,139.9 L574.0,139.9 L574.1,139.8 L574.2,139.8 L574.3,139.8 L574.4,139.8 L574.5,139.8 L574.6,139.8 L574.7,139.8 L574.8,139.8 L574.9,139.7 L575.0,139.7 L575.1,139.7 L575.2,139.7 L575.3,139.7 L575.4,139.7 L575.5,139.7 L575.6,139.7 L575.7,139.7 L575.8,139.7 L575.9,139.7 L576.0,139.7 L576.1,139.7 L576.2,139.7 L576.3,139.7 L576.4,139.7 L576.5,139.7 L576.6,139.7 L576.7,139.7 L576.8,139.7 L576.9,139.7 L577.0,139.7 L577.1,139.7 L577.2,139.7 L577.3,139.7 L577.4,139.7 L577.5,139.7 L577.6,139.7 L577.7,139.7 L577.8,139.7 L577.9,139.7 L578.0,139.7 L578.1,139.7 L578.2,139.8 L578.3,139.8 L578.4,139.8 L578.5,139.8 L578.6,139.8 L578.7,139.8 L578.8,139.8 L578.9,139.8 L579.0,139.9 L579.1,139.9 L579.2,139.9 L579.3,139.9 L579.4,139.9 L579.5,139.9 L579.6,140.0 L579.7,140.0 L579.8,140.0 L579.9,140.0 L580.0,140.0 L580.1,140.1 L580.2,140.1 L580.3,140.1 L580.4,140.1 L580.5,140.2 L580.6,140.2 L580.7,140.2 L580.8,140.2 L580.9,140.3 L581.0,140.3 L581.1,140.3 L581.2,140.4 L581.3,140.4 L581.4,140.4 L581.5,140.5 L581.6,140.5 L581.7,140.5 L581.8,140.6 L581.9,140.6 L582.0,140.7 L582.1,140.7 L582.2,140.7 L582.3,140.8 L582.4,140.8 L582.5,140.9 L582.6,140.9 L582.7,141.0 L582.8,141.0 L582.9,141.1 L583.0,141.2 L583.1,141.2 L583.2,141.3 L583.3,141.3 L583.4,141.4 L583.5,141.5 L583.6,141.5 L583.7,141.6 L583.8,141.7 L583.9,141.8 L584.0,141.8 L584.1,141.9 L584.2,142.0 L584.3,142.1 L584.4,142.2 L584.5,142.3 L584.6,142.4 L584.7,142.5 L584.8,142.6 L584.9,142.7 L585.0,142.8 L585.1,142.9 L585.2,143.1 L585.3,143.2 L585.4,143.3 L585.5,143.5 L585.6,143.6 L585.7,143.8 L585.8,144.0 L585.9,144.1 L586.0,144.3 L586.1,144.5 L586.2,144.7 L586.3,144.9 L586.4,145.2 L586.5,145.4 L586.6,145.7 L586.7,145.9 L586.8,146.2 L586.9,146.5 L587.0,146.8 L587.1,147.1 L587.2,147.5 L587.3,147.9 L587.4,148.2 L587.5,148.7 L587.6,149.1 L587.7,149.6 L587.8,150.1 L587.9,150.7 L588.0,151.2 L588.1,151.9 L588.2,152.6 L588.3,153.3 L588.4,154.1 L588.5,154.9 L588.6,155.8 L588.7,156.8 L588.8,157.9 L588.9,159.0 L589.0,160.3 L589.1,161.6 L589.2,163.1 L589.3,164.7 L589.4,166.4 L589.5,168.3 L589.6,170.4 L589.7,172.6 L589.8,175.1 L589.9,177.7 L590.0,180.5 L590.1,183.5 L590.2,186.8 L590.3,190.2 L590.4,193.8 L590.5,197.5 L590.6,201.3 L590.7,205.1 L590.8,208.8 L590.9,212.2 L591.0,215.3 L591.1,217.9 L591.2,219.8 L591.3,221.0 L591.4,221.5 L591.5,221.0 L591.6,219.8 L591.7,217.9 L591.8,215.3 L591.9,212.2 L592.0,208.8 L592.1,205.1 L592.2,201.4 L592.3,197.6 L592.4,193.9 L592.5,190.3 L592.6,186.9 L592.7,183.7 L592.8,180.7 L592.9,177.9 L593.0,175.3 L593.1,172.9 L593.2,170.7 L593.3,168.7 L593.4,166.8 L593.5,165.1 L593.6,163.5 L593.7,162.1 L593.8,160.8 L593.9,159.5 L594.0,158.4 L594.1,157.4 L594.2,156.4 L594.3,155.5 L594.4,154.7 L594.5,154.0 L594.6,153.3 L594.7,152.6 L594.8,152.0 L594.9,151.5 L595.0,150.9 L595.1,150.4 L595.2,150.0 L595.3,149.6 L595.4,149.2 L595.5,148.8 L595.6,148.5 L595.7,148.1 L595.8,147.8 L595.9,147.6 L596.0,147.3 L596.1,147.0 L596.2,146.8 L596.3,146.6 L596.4,146.4 L596.5,146.2 L596.6,146.0 L596.7,145.8 L596.8,145.6 L596.9,145.5 L597.0,145.3 L597.1,145.2 L597.2,145.1 L597.3,144.9 L597.4,144.8 L597.5,144.7 L597.6,144.6 L597.7,144.5 L597.8,144.4 L597.9,144.3 L598.0,144.2 L598.1,144.1 L598.2,144.1 L598.3,144.0 L598.4,143.9 L598.5,143.9 L598.6,143.8 L598.7,143.7 L598.8,143.7 L598.9,143.6 L599.0,143.6 L599.1,143.5 L599.2,143.5 L599.3,143.4 L599.4,143.4 L599.5,143.4 L599.6,143.3 L599.7,143.3 L599.8,143.3 L599.9,143.2 L600.0,143.2 L600.1,143.2 L600.2,143.2 L600.3,143.1 L600.4,143.1 L600.5,143.1 L600.6,143.1 L600.7,143.1 L600.8,143.1 L600.9,143.0 L601.0,143.0 L601.1,143.0 L601.2,143.0 L601.3,143.0 L601.4,143.0 L601.5,143.0 L601.6,143.0 L601.7,143.0 L601.8,143.0 L601.9,143.0 L602.0,143.0 L602.1,143.0 L602.2,143.0 L602.3,143.0 L602.4,143.0 L602.5,143.0 L602.6,143.0 L602.7,143.0 L602.8,143.0 L602.9,143.0 L603.0,143.0 L603.1,143.1 L603.2,143.1 L603.3,143.1 L603.4,143.1 L603.5,143.1 L603.6,143.1 L603.7,143.1 L603.8,143.2 L603.9,143.2 L604.0,143.2 L604.1,143.2 L604.2,143.2 L604.3,143.3 L604.4,143.3 L604.5,143.3 L604.6,143.3 L604.7,143.4 L604.8,143.4 L604.9,143.4 L605.0,143.4 L605.1,143.5 L605.2,143.5 L605.3,143.5 L605.4,143.6 L605.5,143.6 L605.6,143.6 L605.7,143.7 L605.8,143.7 L605.9,143.7 L606.0,143.8 L606.1,143.8 L606.2,143.9 L606.3,143.9 L606.4,143.9 L606.5,144.0 L606.6,144.0 L606.7,144.1 L606.8,144.1 L606.9,144.2 L607.0,144.2 L607.1,144.3 L607.2,144.4 L607.3,144.4 L607.4,144.5 L607.5,144.6 L607.6,144.6 L607.7,144.7 L607.8,144.8 L607.9,144.8 L608.0,144.9 L608.1,145.0 L608.2,145.1 L608.3,145.2 L608.4,145.2 L608.5,145.3 L608.6,145.4 L608.7,145.5 L608.8,145.6 L608.9,145.7 L609.0,145.8 L609.1,146.0 L609.2,146.1 L609.3,146.2 L609.4,146.3 L609.5,146.5 L609.6,146.6 L609.7,146.7 L609.8,146.9 L609.9,147.0 L610.0,147.2 L610.1,147.3 L610.2,147.5 L610.3,147.7 L610.4,147.9 L610.5,148.1 L610.6,148.3 L610.7,148.5 L610.8,148.7 L610.9,148.9 L611.0,149.1 L611.1,149.4 L611.2,149.6 L611.3,149.9 L611.4,150.1 L611.5,150.4 L611.6,150.7 L611.7,151.0 L611.8,151.3 L611.9,151.7 L612.0,152.0 L612.1,152.4 L612.2,152.8 L612.3,153.2 L612.4,153.6 L612.5,154.0 L612.6,154.5 L612.7,154.9 L612.8,155.4 L612.9,156.0 L613.0,156.5 L613.1,157.1 L613.2,157.7 L613.3,158.3 L613.4,158.9 L613.5,159.6 L613.6,160.3 L613.7,161.1 L613.8,161.9 L613.9,162.7 L614.0,163.6 L614.1,164.5 L614.2,165.5 L614.3,166.5 L614.4,167.5 L614.5,168.6 L614.6,169.8 L614.7,171.0 L614.8,172.3 L614.9,173.7 L615.0,175.1 L615.1,176.6 L615.2,178.1 L615.3,179.7 L615.4,181.4 L615.5,183.2 L615.6,185.0 L615.7,186.9 L615.8,188.9 L615.9,191.0 L616.0,193.1 L616.1,195.3 L616.2,197.5 L616.3,199.8 L616.4,202.1 L616.5,204.4 L616.6,206.8 L616.7,209.1 L616.8,211.5 L616.9,213.7 L617.0,216.0 L617.1,218.1 L617.2,220.0 L617.3,221.9 L617.4,223.5 L617.5,225.0 L617.6,226.2 L617.7,227.2 L617.8,227.9 L617.9,228.4 L618.0,228.5 L618.1,228.4 L618.2,227.9 L618.3,227.2 L618.4,226.2 L618.5,225.0 L618.6,223.5 L618.7,221.8 L618.8,220.0 L618.9,218.0 L619.0,215.9 L619.1,213.6 L619.2,211.3 L619.3,209.0 L619.4,206.6 L619.5,204.2 L619.6,201.8 L619.7,199.5 L619.8,197.1 L619.9,194.9 L620.0,192.6 L620.1,190.5 L620.2,188.4 L620.3,186.3 L620.4,184.4 L620.5,182.5 L620.6,180.7 L620.7,178.9 L620.8,177.3 L620.9,175.7 L621.0,174.1 L621.1,172.7 L621.2,171.3 L621.3,169.9 L621.4,168.7 L621.5,167.4 L621.6,166.3 L621.7,165.2 L621.8,164.1 L621.9,163.1 L622.0,162.1 L622.1,161.2 L622.2,160.3 L622.3,159.4 L622.4,158.6 L622.5,157.9 L622.6,157.1 L622.7,156.4 L622.8,155.7 L622.9,155.1 L623.0,154.5 L623.1,153.9 L623.2,153.3 L623.3,152.8 L623.4,152.2 L623.5,151.7 L623.6,151.3 L623.7,150.8 L623.8,150.3 L623.9,149.9 L624.0,149.5 L624.1,149.1 L624.2,148.7 L624.3,148.4 L624.4,148.0 L624.5,147.7 L624.6,147.3 L624.7,147.0 L624.8,146.7 L624.9,146.4 L625.0,146.1 L625.1,145.9 L625.2,145.6 L625.3,145.3 L625.4,145.1 L625.5,144.9 L625.6,144.6 L625.7,144.4 L625.8,144.2 L625.9,144.0 L626.0,143.8 L626.1,143.6 L626.2,143.4 L626.3,143.2 L626.4,143.0 L626.5,142.8 L626.6,142.7 L626.7,142.5 L626.8,142.4 L626.9,142.2 L627.0,142.1 L627.1,141.9 L627.2,141.8 L627.3,141.6 L627.4,141.5 L627.5,141.4 L627.6,141.3 L627.7,141.1 L627.8,141.0 L627.9,140.9 L628.0,140.8 L628.1,140.7 L628.2,140.6 L628.3,140.5 L628.4,140.4 L628.5,140.3 L628.6,140.2 L628.7,140.1 L628.8,140.1 L628.9,140.0 L629.0,139.9 L629.1,139.8 L629.2,139.7 L629.3,139.7 L629.4,139.6 L629.5,139.5 L629.6,139.5 L629.7,139.4 L629.8,139.3 L629.9,139.3 L630.0,139.2 L630.1,139.2 L630.2,139.1 L630.3,139.1 L630.4,139.0 L630.5,139.0 L630.6,138.9 L630.7,138.9 L630.8,138.8 L630.9,138.8 L631.0,138.7 L631.1,138.7 L631.2,138.7 L631.3,138.6 L631.4,138.6 L631.5,138.6 L631.6,138.6 L631.7,138.5 L631.8,138.5 L631.9,138.5 L632.0,138.5 L632.1,138.4 L632.2,138.4 L632.3,138.4 L632.4,138.4 L632.5,138.4 L632.6,138.4 L632.7,138.3 L632.8,138.3 L632.9,138.3 L633.0,138.3 L633.1,138.3 L633.2,138.3 L633.3,138.3 L633.4,138.3 L633.5,138.3 L633.6,138.3 L633.7,138.3 L633.8,138.3 L633.9,138.3 L634.0,138.3 L634.1,138.3 L634.2,138.3 L634.3,138.3 L634.4,138.3 L634.5,138.3 L634.6,138.4 L634.7,138.4 L634.8,138.4 L634.9,138.4 L635.0,138.4 L635.1,138.5 L635.2,138.5 L635.3,138.5 L635.4,138.5 L635.5,138.6 L635.6,138.6 L635.7,138.6 L635.8,138.7 L635.9,138.7 L636.0,138.7 L636.1,138.8 L636.2,138.8 L636.3,138.9 L636.4,138.9 L636.5,139.0 L636.6,139.0 L636.7,139.1 L636.8,139.1 L636.9,139.2 L637.0,139.3 L637.1,139.3 L637.2,139.4 L637.3,139.5 L637.4,139.5 L637.5,139.6 L637.6,139.7 L637.7,139.8 L637.8,139.9 L637.9,140.0 L638.0,140.1 L638.1,140.2 L638.2,140.3 L638.3,140.4 L638.4,140.5 L638.5,140.7 L638.6,140.8 L638.7,140.9 L638.8,141.1 L638.9,141.2 L639.0,141.4 L639.1,141.6 L639.2,141.7 L639.3,141.9 L639.4,142.1 L639.5,142.3 L639.6,142.5 L639.7,142.8 L639.8,143.0 L639.9,143.3 L640.0,143.5 L640.1,143.8 L640.2,144.1 L640.3,144.4 L640.4,144.8 L640.5,145.1 L640.6,145.5 L640.7,145.9 L640.8,146.3 L640.9,146.7 L641.0,147.2 L641.1,147.7 L641.2,148.2 L641.3,148.8 L641.4,149.4 L641.5,150.0 L641.6,150.7 L641.7,151.5 L641.8,152.2 L641.9,153.1 L642.0,154.0 L642.1,154.9 L642.2,156.0 L642.3,157.1 L642.4,158.3 L642.5,159.6 L642.6,161.0 L642.7,162.5 L642.8,164.1 L642.9,165.9 L643.0,167.7 L643.1,169.8 L643.2,171.9 L643.3,174.3 L643.4,176.8 L643.5,179.5 L643.6,182.4 L643.7,185.4 L643.8,188.6 L643.9,192.0 L644.0,195.5 L644.1,199.2 L644.2,202.8 L644.3,206.5 L644.4,210.1 L644.5,213.5 L644.6,216.6 L644.7,219.4 L644.8,221.7 L644.9,223.4 L645.0,224.5 L645.1,224.8 L645.2,224.5 L645.3,223.4 L645.4,221.7 L645.5,219.4 L645.6,216.6 L645.7,213.5 L645.8,210.1 L645.9,206.5 L646.0,202.9 L646.1,199.2 L646.2,195.6 L646.3,192.1 L646.4,188.7 L646.5,185.5 L646.6,182.5 L646.7,179.6 L646.8,176.9 L646.9,174.4 L647.0,172.1 L647.1,169.9 L647.2,167.9 L647.3,166.0 L647.4,164.3 L647.5,162.7 L647.6,161.2 L647.7,159.8 L647.8,158.5 L647.9,157.3 L648.0,156.2 L648.1,155.2 L648.2,154.3 L648.3,153.4 L648.4,152.5 L648.5,151.8 L648.6,151.0 L648.7,150.4 L648.8,149.7 L648.9,149.1 L649.0,148.6 L649.1,148.1 L649.2,147.6 L649.3,147.1 L649.4,146.7 L649.5,146.3 L649.6,145.9 L649.7,145.5 L649.8,145.2 L649.9,144.9 L650.0,144.6 L650.1,144.3 L650.2,144.0 L650.3,143.7 L650.4,143.5 L650.5,143.3 L650.6,143.1 L650.7,142.8 L650.8,142.6 L650.9,142.5 L651.0,142.3 L651.1,142.1 L651.2,141.9 L651.3,141.8 L651.4,141.6 L651.5,141.5 L651.6,141.4 L651.7,141.2 L651.8,141.1 L651.9,141.0 L652.0,140.9 L652.1,140.8 L652.2,140.7 L652.3,140.6 L652.4,140.5 L652.5,140.4 L652.6,140.3 L652.7,140.3 L652.8,140.2 L652.9,140.1 L653.0,140.0 L653.1,140.0 L653.2,139.9 L653.3,139.8 L653.4,139.8 L653.5,139.7 L653.6,139.7 L653.7,139.6 L653.8,139.6 L653.9,139.5 L654.0,139.5 L654.1,139.4 L654.2,139.4 L654.3,139.3 L654.4,139.3 L654.5,139.3 L654.6,139.2 L654.7,139.2 L654.8,139.2 L654.9,139.1 L655.0,139.1 L655.1,139.1 L655.2,139.1 L655.3,139.0 L655.4,139.0 L655.5,139.0 L655.6,139.0 L655.7,139.0 L655.8,138.9 L655.9,138.9 L656.0,138.9 L656.1,138.9 L656.2,138.9 L656.3,138.9 L656.4,138.8 L656.5,138.8 L656.6,138.8 L656.7,138.8 L656.8,138.8 L656.9,138.8 L657.0,138.8 L657.1,138.8 L657.2,138.8 L657.3,138.8 L657.4,138.8 L657.5,138.8 L657.6,138.8 L657.7,138.8 L657.8,138.8 L657.9,138.8 L658.0,138.8 L658.1,138.8 L658.2,138.8 L658.3,138.8 L658.4,138.8 L658.5,138.8 L658.6,138.8 L658.7,138.8 L658.8,138.8 L658.9,138.8 L659.0,138.8 L659.1,138.8 L659.2,138.8 L659.3,138.8 L659.4,138.8 L659.5,138.8 L659.6,138.9 L659.7,138.9 L659.8,138.9 L659.9,138.9 L660.0,138.9 L660.1,138.9 L660.2,138.9 L660.3,139.0 L660.4,139.0 L660.5,139.0 L660.6,139.0 L660.7,139.0 L660.8,139.0 L660.9,139.1 L661.0,139.1 L661.1,139.1 L661.2,139.1 L661.3,139.2 L661.4,139.2 L661.5,139.2 L661.6,139.2 L661.7,139.3 L661.8,139.3 L661.9,139.3 L662.0,139.4 L662.1,139.4 L662.2,139.4 L662.3,139.5 L662.4,139.5 L662.5,139.5 L662.6,139.6 L662.7,139.6 L662.8,139.7 L662.9,139.7 L663.0,139.7 L663.1,139.8 L663.2,139.8 L663.3,139.9 L663.4,139.9 L663.5,140.0 L663.6,140.0 L663.7,140.1 L663.8,140.2 L663.9,140.2 L664.0,140.3 L664.1,140.3 L664.2,140.4 L664.3,140.5 L664.4,140.5 L664.5,140.6 L664.6,140.7 L664.7,140.8 L664.8,140.9 L664.9,140.9 L665.0,141.0 L665.1,141.1 L665.2,141.2 L665.3,141.3 L665.4,141.4 L665.5,141.5 L665.6,141.7 L665.7,141.8 L665.8,141.9 L665.9,142.0 L666.0,142.2 L666.1,142.3 L666.2,142.5 L666.3,142.6 L666.4,142.8 L666.5,143.0 L666.6,143.1 L666.7,143.3 L666.8,143.5 L666.9,143.7 L667.0,144.0 L667.1,144.2 L667.2,144.5 L667.3,144.7 L667.4,145.0 L667.5,145.3 L667.6,145.6 L667.7,145.9 L667.8,146.3 L667.9,146.7 L668.0,147.1 L668.1,147.5 L668.2,147.9 L668.3,148.4 L668.4,149.0 L668.5,149.5 L668.6,150.1 L668.7,150.8 L668.8,151.5 L668.9,152.2 L669.0,153.0 L669.1,153.9 L669.2,154.8 L669.3,155.9 L669.4,157.0 L669.5,158.2 L669.6,159.5 L669.7,161.0 L669.8,162.5 L669.9,164.2 L670.0,166.1 L670.1,168.1 L670.2,170.3 L670.3,172.7 L670.4,175.3 L670.5,178.2 L670.6,181.2 L670.7,184.5 L670.8,188.0 L670.9,191.7 L671.0,195.5 L671.1,199.5 L671.2,203.4 L671.3,207.3 L671.4,210.9 L671.5,214.2 L671.6,217.0 L671.7,219.1 L671.8,220.4 L671.9,220.8 L672.0,220.4 L672.1,219.1 L672.2,217.0 L672.3,214.2 L672.4,210.9 L672.5,207.3 L672.6,203.5 L672.7,199.5 L672.8,195.6 L672.9,191.8 L673.0,188.1 L673.1,184.7 L673.2,181.4 L673.3,178.4 L673.4,175.6 L673.5,173.0 L673.6,170.6 L673.7,168.4 L673.8,166.4 L673.9,164.6 L674.0,162.9 L674.1,161.4 L674.2,160.0 L674.3,158.7 L674.4,157.5 L674.5,156.4 L674.6,155.4 L674.7,154.5 L674.8,153.6 L674.9,152.8 L675.0,152.1 L675.1,151.5 L675.2,150.8 L675.3,150.3 L675.4,149.7 L675.5,149.2 L675.6,148.8 L675.7,148.3 L675.8,147.9 L675.9,147.6 L676.0,147.2 L676.1,146.9 L676.2,146.6 L676.3,146.3 L676.4,146.0 L676.5,145.8 L676.6,145.5 L676.7,145.3 L676.8,145.1 L676.9,144.9 L677.0,144.7 L677.1,144.5 L677.2,144.4 L677.3,144.2 L677.4,144.1 L677.5,143.9 L677.6,143.8 L677.7,143.7 L677.8,143.5 L677.9,143.4 L678.0,143.3 L678.1,143.2 L678.2,143.1 L678.3,143.0 L678.4,142.9 L678.5,142.9 L678.6,142.8 L678.7,142.7 L678.8,142.6 L678.9,142.6 L679.0,142.5 L679.1,142.4 L679.2,142.4 L679.3,142.3 L679.4,142.3 L679.5,142.2 L679.6,142.2 L679.7,142.1 L679.8,142.1 L679.9,142.1 L680.0,142.0 L680.1,142.0 L680.2,142.0 L680.3,141.9 L680.4,141.9 L680.5,141.9 L680.6,141.8 L680.7,141.8 L680.8,141.8 L680.9,141.8 L681.0,141.7 L681.1,141.7 L681.2,141.7 L681.3,141.7 L681.4,141.7 L681.5,141.6 L681.6,141.6 L681.7,141.6 L681.8,141.6 L681.9,141.6 L682.0,141.6 L682.1,141.6 L682.2,141.5 L682.3,141.5 L682.4,141.5 L682.5,141.5 L682.6,141.5 L682.7,141.5 L682.8,141.5 L682.9,141.5 L683.0,141.5 L683.1,141.5 L683.2,141.5 L683.3,141.5 L683.4,141.5 L683.5,141.5 L683.6,141.5 L683.7,141.5 L683.8,141.5 L683.9,141.5 L684.0,141.5" stroke="#dd5c5c" stroke-width="2.2" fill="none" stroke-linejoin="round"/>
<path d="M535.2,151.1 L535.3,151.5 L535.4,151.9 L535.5,152.4 L535.6,152.9 L535.7,153.4 L535.8,154.0 L535.9,154.7 L536.0,155.3 L536.1,156.1 L536.2,156.9 L536.3,157.8 L536.4,158.8 L536.5,159.9 L536.6,161.1 L536.7,162.3 L536.8,163.7 L536.9,165.3 L537.0,167.0 L537.1,168.8 L537.2,170.9 L537.3,173.1 L537.4,175.5 L537.5,178.2 L537.6,181.1 L537.7,184.2 L537.8,187.5 L537.9,191.0 L538.0,194.8 L538.1,198.6 L538.2,202.5 L538.3,206.3 L538.4,209.9 L538.5,213.2 L538.6,216.0 L538.7,218.1 L538.8,219.5 L538.9,219.9 L539.0,219.5 L539.1,218.1 L539.2,216.0 L539.3,213.2 L539.4,209.8 L539.5,206.2 L539.6,202.3 L539.7,198.3 L539.8,194.4 L539.9,190.7 L540.0,187.0 L540.1,183.6 L540.2,180.4 L540.3,177.5 L540.4,174.7 L540.5,172.2 L540.6,169.9 L540.7,167.8 L540.8,165.8 L540.9,164.0 L541.0,162.4 L541.1,160.9 L541.2,159.5 L541.3,158.3 L541.4,157.1 L541.5,156.0 L541.6,155.0 L541.7,154.1 L541.8,153.3 L541.9,152.5 L542.0,151.8 L542.1,151.1" stroke="#5a98d2" stroke-width="2.3" fill="none"/>
<path d="M558.5,142.2 L558.6,142.4 L558.7,142.5 L558.8,142.7 L558.9,142.9 L559.0,143.1 L559.1,143.3 L559.2,143.5 L559.3,143.7 L559.4,144.0 L559.5,144.2 L559.6,144.5 L559.7,144.8 L559.8,145.1 L559.9,145.4 L560.0,145.8 L560.1,146.2 L560.2,146.6 L560.3,147.0 L560.4,147.5 L560.5,148.0 L560.6,148.5 L560.7,149.1 L560.8,149.7 L560.9,150.3 L561.0,151.1 L561.1,151.8 L561.2,152.7 L561.3,153.6 L561.4,154.6 L561.5,155.7 L561.6,156.8 L561.7,158.1 L561.8,159.5 L561.9,161.0 L562.0,162.7 L562.1,164.5 L562.2,166.5 L562.3,168.7 L562.4,171.1 L562.5,173.7 L562.6,176.6 L562.7,179.6 L562.8,182.9 L562.9,186.5 L563.0,190.3 L563.1,194.2 L563.2,198.3 L563.3,202.4 L563.4,206.4 L563.5,210.3 L563.6,213.8 L563.7,216.7 L563.8,219.0 L563.9,220.4 L564.0,220.8 L564.1,220.4 L564.2,219.0 L564.3,216.7 L564.4,213.8 L564.5,210.3 L564.6,206.5 L564.7,202.4 L564.8,198.3 L564.9,194.2 L565.0,190.3 L565.1,186.5 L565.2,183.0 L565.3,179.7 L565.4,176.6 L565.5,173.8 L565.6,171.2 L565.7,168.8 L565.8,166.6 L565.9,164.6 L566.0,162.8 L566.1,161.1 L566.2,159.6 L566.3,158.2 L566.4,157.0 L566.5,155.8 L566.6,154.7 L566.7,153.7 L566.8,152.8 L566.9,152.0 L567.0,151.2 L567.1,150.5 L567.2,149.9 L567.3,149.3 L567.4,148.7 L567.5,148.2 L567.6,147.7 L567.7,147.2 L567.8,146.8 L567.9,146.4 L568.0,146.0 L568.1,145.7 L568.2,145.4 L568.3,145.1 L568.4,144.8" stroke="#5a98d2" stroke-width="2.2" fill="none" stroke-dasharray="1.8,3.2"/>
</g>
<path d="M428.6,134.2 V233.1 H684.0 V134.2" stroke="#333" stroke-width="1" fill="none"/>
<path d="M428.6,134.2 H684.0" stroke="#444" stroke-width="1" fill="none"/>
<path d="M444.50,233.1 v-2.5 M476.14,233.1 v-2.5 M507.78,233.1 v-2.5 M539.42,233.1 v-2.5 M571.06,233.1 v-2.5 M602.70,233.1 v-2.5 M634.34,233.1 v-2.5 M665.98,233.1 v-2.5 M428.6,233.10 h2.5 M428.6,202.47 h2.5 M428.6,171.84 h2.5 M428.6,141.21 h2.5" stroke="#333" stroke-width="0.8" fill="none"/>
<text x="444.50" y="245.80" font-size="8.7" text-anchor="middle" fill="#111" stroke="#111" stroke-width="0.12" textLength="26.3" lengthAdjust="spacingAndGlyphs" >1557.5</text>
<text x="476.14" y="245.80" font-size="8.7" text-anchor="middle" fill="#111" stroke="#111" stroke-width="0.12" textLength="26.3" lengthAdjust="spacingAndGlyphs" >1557.6</text>
<text x="507.78" y="245.80" font-size="8.7" text-anchor="middle" fill="#111" stroke="#111" stroke-width="0.12" textLength="26.3" lengthAdjust="spacingAndGlyphs" >1557.7</text>
<text x="539.42" y="245.80" font-size="8.7" text-anchor="middle" fill="#111" stroke="#111" stroke-width="0.12" textLength="26.3" lengthAdjust="spacingAndGlyphs" >1557.8</text>
<text x="571.06" y="245.80" font-size="8.7" text-anchor="middle" fill="#111" stroke="#111" stroke-width="0.12" textLength="26.3" lengthAdjust="spacingAndGlyphs" >1557.9</text>
<text x="602.70" y="245.80" font-size="8.7" text-anchor="middle" fill="#111" stroke="#111" stroke-width="0.12" textLength="26.3" lengthAdjust="spacingAndGlyphs" >1558.0</text>
<text x="634.34" y="245.80" font-size="8.7" text-anchor="middle" fill="#111" stroke="#111" stroke-width="0.12" textLength="26.3" lengthAdjust="spacingAndGlyphs" >1558.1</text>
<text x="665.98" y="245.80" font-size="8.7" text-anchor="middle" fill="#111" stroke="#111" stroke-width="0.12" textLength="26.3" lengthAdjust="spacingAndGlyphs" >1558.2</text>
<text x="426.00" y="236.40" font-size="8.7" text-anchor="end" fill="#111" stroke="#111" stroke-width="0.12" textLength="11.8" lengthAdjust="spacingAndGlyphs" >0.0</text>
<text x="426.00" y="205.77" font-size="8.7" text-anchor="end" fill="#111" stroke="#111" stroke-width="0.12" textLength="11.8" lengthAdjust="spacingAndGlyphs" >0.1</text>
<text x="426.00" y="175.14" font-size="8.7" text-anchor="end" fill="#111" stroke="#111" stroke-width="0.12" textLength="11.8" lengthAdjust="spacingAndGlyphs" >0.2</text>
<text x="426.00" y="144.51" font-size="8.7" text-anchor="end" fill="#111" stroke="#111" stroke-width="0.12" textLength="11.8" lengthAdjust="spacingAndGlyphs" >0.3</text>
<text transform="translate(409.3,227) rotate(-90)" font-size="9.6" fill="#111" stroke="#111" stroke-width="0.1" textLength="85.8" lengthAdjust="spacingAndGlyphs">Transmission (a.u.)</text>
<text x="517.50" y="257.10" font-size="10.2" text-anchor="start" fill="#111" stroke="#111" stroke-width="0.12" textLength="78" lengthAdjust="spacingAndGlyphs" >Wavelength (nm)</text>
<rect x="631.5" y="139.4" width="48.2" height="31.3" rx="2" fill="#fff" fill-opacity="1" stroke="#d4d4d4" stroke-width="0.8"/>
<line x1="634.4" y1="147" x2="655.7" y2="147" stroke="#5a98d2" stroke-width="2.2"/>
<line x1="634.4" y1="161.8" x2="655.7" y2="161.8" stroke="#5a98d2" stroke-width="2" stroke-dasharray="2,3.4"/>
<path d="M662.50,143.40 V151.20 M668.00,143.40 L670.00,147.30 L668.00,151.20" stroke="#1a1a1a" stroke-width="0.75" fill="none"/><text x="663.20" y="150.30" font-family="Liberation Serif, serif" font-size="8.9" fill="#1a1a1a">0</text><text x="671.10" y="151.90" font-family="Liberation Serif, serif" font-style="italic" font-size="6.6" fill="#1a1a1a">i</text>
<path d="M662.50,158.20 V166.00 M668.00,158.20 L670.00,162.10 L668.00,166.00" stroke="#1a1a1a" stroke-width="0.75" fill="none"/><text x="663.20" y="165.10" font-family="Liberation Serif, serif" font-size="8.9" fill="#1a1a1a">1</text><text x="671.10" y="166.70" font-family="Liberation Serif, serif" font-style="italic" font-size="6.6" fill="#1a1a1a">i</text>
<text x="388.30" y="136.40" font-size="14.8" text-anchor="start" fill="#000" stroke="#000" stroke-width="0.12" letter-spacing="0.4">ii)</text>
<defs><clipPath id="cc"><rect x="56.25" y="143.5" width="310.25" height="89.80000000000001"/></clipPath></defs>
<path d="M68.50,143.5 V233.3 M109.43,143.5 V233.3 M150.36,143.5 V233.3 M191.29,143.5 V233.3 M232.22,143.5 V233.3 M273.15,143.5 V233.3 M314.08,143.5 V233.3 M355.01,143.5 V233.3 M56.25,155.55 H366.5 M56.25,175.05 H366.5 M56.25,194.55 H366.5 M56.25,214.05 H366.5" stroke="#dcdcdc" stroke-width="0.9" fill="none"/>
<path d="M88.97,143.5 V233.3 M129.89,143.5 V233.3 M170.82,143.5 V233.3 M211.75,143.5 V233.3 M252.69,143.5 V233.3 M293.62,143.5 V233.3 M334.55,143.5 V233.3 M56.25,145.80 H366.5 M56.25,165.30 H366.5 M56.25,184.80 H366.5 M56.25,204.30 H366.5 M56.25,223.80 H366.5" stroke="#cacaca" stroke-width="1" fill="none"/>
<g clip-path="url(#cc)">
<path d="M55.8,150.5 L56.0,150.4 L56.2,150.4 L56.4,150.4 L56.6,150.3 L56.8,150.3 L57.0,150.2 L57.2,150.2 L57.4,150.2 L57.7,150.1 L57.9,150.1 L58.1,150.0 L58.3,150.0 L58.5,150.0 L58.7,149.9 L58.9,149.9 L59.1,149.9 L59.3,149.8 L59.5,149.8 L59.7,149.7 L59.9,149.7 L60.1,149.7 L60.3,149.6 L60.5,149.6 L60.7,149.6 L60.9,149.5 L61.1,149.5 L61.3,149.5 L61.5,149.4 L61.7,149.4 L62.0,149.4 L62.2,149.4 L62.4,149.3 L62.6,149.3 L62.8,149.3 L63.0,149.2 L63.2,149.2 L63.4,149.2 L63.6,149.2 L63.8,149.1 L64.0,149.1 L64.2,149.1 L64.4,149.1 L64.6,149.1 L64.8,149.0 L65.0,149.0 L65.2,149.0 L65.4,149.0 L65.6,148.9 L65.8,148.9 L66.0,148.9 L66.2,148.9 L66.5,148.9 L66.7,148.9 L66.9,148.8 L67.1,148.8 L67.3,148.8 L67.5,148.8 L67.7,148.8 L67.9,148.7 L68.1,148.7 L68.3,148.7 L68.5,148.7 L68.7,148.7 L68.9,148.7 L69.1,148.6 L69.3,148.6 L69.5,148.6 L69.7,148.6 L69.9,148.6 L70.1,148.6 L70.3,148.5 L70.5,148.5 L70.8,148.5 L71.0,148.5 L71.2,148.5 L71.4,148.5 L71.6,148.5 L71.8,148.4 L72.0,148.4 L72.2,148.4 L72.4,148.4 L72.6,148.4 L72.8,148.4 L73.0,148.4 L73.2,148.3 L73.4,148.3 L73.6,148.3 L73.8,148.3 L74.0,148.3 L74.2,148.3 L74.4,148.3 L74.6,148.3 L74.8,148.2 L75.0,148.2 L75.3,148.2 L75.5,148.2 L75.7,148.2 L75.9,148.2 L76.1,148.2 L76.3,148.2 L76.5,148.2 L76.7,148.1 L76.9,148.1 L77.1,148.1 L77.3,148.1 L77.5,148.1 L77.7,148.1 L77.9,148.1 L78.1,148.1 L78.3,148.1 L78.5,148.1 L78.7,148.0 L78.9,148.0 L79.1,148.0 L79.3,148.0 L79.6,148.0 L79.8,148.0 L80.0,148.0 L80.2,148.0 L80.4,148.0 L80.6,148.0 L80.8,148.0 L81.0,148.0 L81.2,148.0 L81.4,148.0 L81.6,148.0 L81.8,147.9 L82.0,147.9 L82.2,147.9 L82.4,147.9 L82.6,147.9 L82.8,147.9 L83.0,147.9 L83.2,147.9 L83.4,147.9 L83.6,147.9 L83.8,147.9 L84.1,147.9 L84.3,147.9 L84.5,147.9 L84.7,147.9 L84.9,147.9 L85.1,147.9 L85.3,147.8 L85.5,147.8 L85.7,147.8 L85.9,147.8 L86.1,147.8 L86.3,147.8 L86.5,147.8 L86.7,147.8 L86.9,147.8 L87.1,147.8 L87.3,147.8 L87.5,147.8 L87.7,147.8 L87.9,147.8 L88.1,147.8 L88.4,147.8 L88.6,147.8 L88.8,147.8 L89.0,147.8 L89.2,147.7 L89.4,147.7 L89.6,147.7 L89.8,147.7 L90.0,147.7 L90.2,147.7 L90.4,147.7 L90.6,147.7 L90.8,147.7 L91.0,147.7 L91.2,147.7 L91.4,147.7 L91.6,147.7 L91.8,147.7 L92.0,147.7 L92.2,147.6 L92.4,147.6 L92.6,147.6 L92.9,147.6 L93.1,147.6 L93.3,147.6 L93.5,147.6 L93.7,147.6 L93.9,147.6 L94.1,147.6 L94.3,147.6 L94.5,147.6 L94.7,147.6 L94.9,147.6 L95.1,147.6 L95.3,147.5 L95.5,147.5 L95.7,147.5 L95.9,147.5 L96.1,147.5 L96.3,147.5 L96.5,147.5 L96.7,147.5 L96.9,147.5 L97.2,147.5 L97.4,147.5 L97.6,147.5 L97.8,147.5 L98.0,147.5 L98.2,147.4 L98.4,147.4 L98.6,147.4 L98.8,147.4 L99.0,147.4 L99.2,147.4 L99.4,147.4 L99.6,147.4 L99.8,147.4 L100.0,147.4 L100.2,147.4 L100.4,147.4 L100.6,147.4 L100.8,147.4 L101.0,147.4 L101.2,147.3 L101.4,147.3 L101.7,147.3 L101.9,147.3 L102.1,147.3 L102.3,147.3 L102.5,147.3 L102.7,147.3 L102.9,147.3 L103.1,147.3 L103.3,147.3 L103.5,147.3 L103.7,147.3 L103.9,147.3 L104.1,147.3 L104.3,147.3 L104.5,147.3 L104.7,147.3 L104.9,147.2 L105.1,147.2 L105.3,147.2 L105.5,147.2 L105.7,147.2 L106.0,147.2 L106.2,147.2 L106.4,147.2 L106.6,147.2 L106.8,147.2 L107.0,147.2 L107.2,147.2 L107.4,147.2 L107.6,147.2 L107.8,147.2 L108.0,147.2 L108.2,147.2 L108.4,147.2 L108.6,147.2 L108.8,147.2 L109.0,147.2 L109.2,147.2 L109.4,147.2 L109.6,147.2 L109.8,147.2 L110.0,147.2 L110.2,147.2 L110.5,147.2 L110.7,147.2 L110.9,147.2 L111.1,147.2 L111.3,147.2 L111.5,147.2 L111.7,147.2 L111.9,147.2 L112.1,147.2 L112.3,147.2 L112.5,147.2 L112.7,147.2 L112.9,147.2 L113.1,147.2 L113.3,147.2 L113.5,147.2 L113.7,147.2 L113.9,147.2 L114.1,147.2 L114.3,147.2 L114.5,147.2 L114.8,147.2 L115.0,147.2 L115.2,147.2 L115.4,147.2 L115.6,147.2 L115.8,147.2 L116.0,147.2 L116.2,147.2 L116.4,147.2 L116.6,147.2 L116.8,147.2 L117.0,147.2 L117.2,147.2 L117.4,147.2 L117.6,147.2 L117.8,147.2 L118.0,147.2 L118.2,147.2 L118.4,147.2 L118.6,147.2 L118.8,147.2 L119.0,147.2 L119.3,147.2 L119.5,147.2 L119.7,147.2 L119.9,147.2 L120.1,147.2 L120.3,147.2 L120.5,147.3 L120.7,147.3 L120.9,147.3 L121.1,147.3 L121.3,147.3 L121.5,147.3 L121.7,147.3 L121.9,147.3 L122.1,147.3 L122.3,147.3 L122.5,147.3 L122.7,147.3 L122.9,147.3 L123.1,147.3 L123.3,147.3 L123.6,147.3 L123.8,147.3 L124.0,147.4 L124.2,147.4 L124.4,147.4 L124.6,147.4 L124.8,147.4 L125.0,147.4 L125.2,147.4 L125.4,147.4 L125.6,147.4 L125.8,147.4 L126.0,147.4 L126.2,147.4 L126.4,147.4 L126.6,147.5 L126.8,147.5 L127.0,147.5 L127.2,147.5 L127.4,147.5 L127.6,147.5 L127.8,147.5 L128.1,147.5 L128.3,147.5 L128.5,147.5 L128.7,147.5 L128.9,147.5 L129.1,147.6 L129.3,147.6 L129.5,147.6 L129.7,147.6 L129.9,147.6 L130.1,147.6 L130.3,147.6 L130.5,147.6 L130.7,147.6 L130.9,147.6 L131.1,147.7 L131.3,147.7 L131.5,147.7 L131.7,147.7 L131.9,147.7 L132.1,147.7 L132.4,147.7 L132.6,147.7 L132.8,147.7 L133.0,147.7 L133.2,147.8 L133.4,147.8 L133.6,147.8 L133.8,147.8 L134.0,147.8 L134.2,147.8 L134.4,147.8 L134.6,147.8 L134.8,147.8 L135.0,147.8 L135.2,147.8 L135.4,147.9 L135.6,147.9 L135.8,147.9 L136.0,147.9 L136.2,147.9 L136.4,147.9 L136.6,147.9 L136.9,147.9 L137.1,147.9 L137.3,147.9 L137.5,148.0 L137.7,148.0 L137.9,148.0 L138.1,148.0 L138.3,148.0 L138.5,148.0 L138.7,148.0 L138.9,148.0 L139.1,148.0 L139.3,148.0 L139.5,148.0 L139.7,148.0 L139.9,148.0 L140.1,148.0 L140.3,148.1 L140.5,148.1 L140.7,148.1 L140.9,148.1 L141.2,148.1 L141.4,148.1 L141.6,148.1 L141.8,148.1 L142.0,148.1 L142.2,148.1 L142.4,148.1 L142.6,148.1 L142.8,148.1 L143.0,148.1 L143.2,148.1 L143.4,148.1 L143.6,148.1 L143.8,148.1 L144.0,148.1 L144.2,148.1 L144.4,148.1 L144.6,148.1 L144.8,148.1 L145.0,148.1 L145.2,148.1 L145.4,148.1 L145.7,148.1 L145.9,148.1 L146.1,148.1 L146.3,148.1 L146.5,148.1 L146.7,148.1 L146.9,148.1 L147.1,148.1 L147.3,148.1 L147.5,148.1 L147.7,148.1 L147.9,148.1 L148.1,148.1 L148.3,148.1 L148.5,148.1 L148.7,148.1 L148.9,148.1 L149.1,148.1 L149.3,148.1 L149.5,148.1 L149.7,148.1 L150.0,148.1 L150.2,148.1 L150.4,148.1 L150.6,148.1 L150.8,148.1 L151.0,148.1 L151.2,148.0 L151.4,148.0 L151.6,148.0 L151.8,148.0 L152.0,148.0 L152.2,148.0 L152.4,148.0 L152.6,148.0 L152.8,148.0 L153.0,148.0 L153.2,148.0 L153.4,148.0 L153.6,148.0 L153.8,148.0 L154.0,148.0 L154.2,148.0 L154.5,147.9 L154.7,147.9 L154.9,147.9 L155.1,147.9 L155.3,147.9 L155.5,147.9 L155.7,147.9 L155.9,147.9 L156.1,147.9 L156.3,147.9 L156.5,147.9 L156.7,147.9 L156.9,147.9 L157.1,147.9 L157.3,147.9 L157.5,147.8 L157.7,147.8 L157.9,147.8 L158.1,147.8 L158.3,147.8 L158.5,147.8 L158.8,147.8 L159.0,147.8 L159.2,147.8 L159.4,147.8 L159.6,147.8 L159.8,147.8 L160.0,147.8 L160.2,147.8 L160.4,147.8 L160.6,147.8 L160.8,147.8 L161.0,147.8 L161.2,147.8 L161.4,147.8 L161.6,147.8 L161.8,147.8 L162.0,147.8 L162.2,147.8 L162.4,147.8 L162.6,147.8 L162.8,147.7 L163.0,147.7 L163.3,147.7 L163.5,147.7 L163.7,147.7 L163.9,147.7 L164.1,147.7 L164.3,147.8 L164.5,147.8 L164.7,147.8 L164.9,147.8 L165.1,147.8 L165.3,147.8 L165.5,147.8 L165.7,147.8 L165.9,147.8 L166.1,147.8 L166.3,147.8 L166.5,147.8 L166.7,147.8 L166.9,147.8 L167.1,147.8 L167.3,147.8 L167.6,147.9 L167.8,147.9 L168.0,147.9 L168.2,147.9 L168.4,147.9 L168.6,147.9 L168.8,148.0 L169.0,148.0 L169.2,148.0 L169.4,148.0 L169.6,148.0 L169.8,148.1 L170.0,148.1 L170.2,148.1 L170.4,148.1 L170.6,148.2 L170.8,148.2 L171.0,148.2 L171.2,148.3 L171.4,148.3 L171.6,148.3 L171.8,148.4 L172.1,148.4 L172.3,148.5 L172.5,148.5 L172.7,148.5 L172.9,148.6 L173.1,148.6 L173.3,148.7 L173.5,148.7 L173.7,148.8 L173.9,148.8 L174.1,148.9 L174.3,148.9 L174.5,149.0 L174.7,149.0 L174.9,149.1 L175.1,149.1 L175.3,149.2 L175.5,149.3 L175.7,149.3 L175.9,149.4 L176.1,149.4 L176.4,149.5 L176.6,149.6 L176.8,149.6 L177.0,149.7 L177.2,149.8 L177.4,149.8 L177.6,149.9 L177.8,150.0 L178.0,150.0 L178.2,150.1 L178.4,150.2 L178.6,150.2 L178.8,150.3 L179.0,150.4 L179.2,150.4 L179.4,150.5 L179.6,150.6 L179.8,150.7 L180.0,150.7 L180.2,150.8 L180.4,150.9 L180.6,151.0 L180.9,151.0 L181.1,151.1 L181.3,151.2 L181.5,151.3 L181.7,151.3 L181.9,151.4 L182.1,151.5 L182.3,151.6 L182.5,151.6 L182.7,151.7 L182.9,151.8 L183.1,151.9 L183.3,152.0 L183.5,152.0 L183.7,152.1 L183.9,152.2 L184.1,152.3 L184.3,152.3 L184.5,152.4 L184.7,152.5 L184.9,152.6 L185.2,152.7 L185.4,152.7 L185.6,152.8 L185.8,152.9 L186.0,153.0 L186.2,153.1 L186.4,153.1 L186.6,153.2 L186.8,153.3 L187.0,153.4 L187.2,153.5 L187.4,153.5 L187.6,153.6 L187.8,153.7 L188.0,153.8 L188.2,153.9 L188.4,153.9 L188.6,154.0 L188.8,154.1 L189.0,154.2 L189.2,154.3 L189.4,154.3 L189.7,154.4 L189.9,154.5 L190.1,154.6 L190.3,154.7 L190.5,154.7 L190.7,154.8 L190.9,154.9 L191.1,155.0 L191.3,155.1 L191.5,155.1 L191.7,155.2 L191.9,155.3 L192.1,155.4 L192.3,155.5 L192.5,155.5 L192.7,155.6 L192.9,155.7 L193.1,155.8 L193.3,155.9 L193.5,156.0 L193.7,156.0 L194.0,156.1 L194.2,156.2 L194.4,156.3 L194.6,156.4 L194.8,156.4 L195.0,156.5 L195.2,156.6 L195.4,156.7 L195.6,156.8 L195.8,156.9 L196.0,157.0 L196.2,157.1 L196.4,157.1 L196.6,157.2 L196.8,157.3 L197.0,157.4 L197.2,157.5 L197.4,157.6 L197.6,157.7 L197.8,157.8 L198.0,157.9 L198.2,158.0 L198.5,158.1 L198.7,158.3 L198.9,158.4 L199.1,158.5 L199.3,158.6 L199.5,158.7 L199.7,158.8 L199.9,159.0 L200.1,159.1 L200.3,159.2 L200.5,159.3 L200.7,159.5 L200.9,159.6 L201.1,159.7 L201.3,159.9 L201.5,160.0 L201.7,160.2 L201.9,160.3 L202.1,160.5 L202.3,160.6 L202.5,160.8 L202.8,160.9 L203.0,161.1 L203.2,161.3 L203.4,161.4 L203.6,161.6 L203.8,161.8 L204.0,162.0 L204.2,162.1 L204.4,162.3 L204.6,162.5 L204.8,162.7 L205.0,162.9 L205.2,163.1 L205.4,163.3 L205.6,163.5 L205.8,163.7 L206.0,163.9 L206.2,164.2 L206.4,164.4 L206.6,164.6 L206.8,164.8 L207.0,165.1 L207.3,165.3 L207.5,165.5 L207.7,165.8 L207.9,166.0 L208.1,166.3 L208.3,166.5 L208.5,166.8 L208.7,167.1 L208.9,167.3 L209.1,167.6 L209.3,167.9 L209.5,168.2 L209.7,168.4 L209.9,168.7 L210.1,169.0 L210.3,169.3 L210.5,169.6 L210.7,169.9 L210.9,170.2 L211.1,170.5 L211.3,170.8 L211.6,171.1 L211.8,171.4 L212.0,171.7 L212.2,172.0 L212.4,172.4 L212.6,172.7 L212.8,173.0 L213.0,173.3 L213.2,173.7 L213.4,174.0 L213.6,174.3 L213.8,174.7 L214.0,175.0 L214.2,175.3 L214.4,175.7 L214.6,176.0 L214.8,176.4 L215.0,176.7 L215.2,177.0 L215.4,177.4 L215.6,177.7 L215.8,178.1 L216.1,178.4 L216.3,178.8 L216.5,179.1 L216.7,179.5 L216.9,179.8 L217.1,180.2 L217.3,180.5 L217.5,180.9 L217.7,181.2 L217.9,181.6 L218.1,181.9 L218.3,182.3 L218.5,182.6 L218.7,183.0 L218.9,183.3 L219.1,183.7 L219.3,184.0 L219.5,184.4 L219.7,184.7 L219.9,185.0 L220.1,185.4 L220.4,185.7 L220.6,186.0 L220.8,186.4 L221.0,186.7 L221.2,187.0 L221.4,187.4 L221.6,187.7 L221.8,188.0 L222.0,188.3 L222.2,188.6 L222.4,188.9 L222.6,189.2 L222.8,189.5 L223.0,189.9 L223.2,190.2 L223.4,190.4 L223.6,190.7 L223.8,191.0 L224.0,191.3 L224.2,191.6 L224.4,191.9 L224.6,192.2 L224.9,192.5 L225.1,192.7 L225.3,193.0 L225.5,193.3 L225.7,193.5 L225.9,193.8 L226.1,194.1 L226.3,194.3 L226.5,194.6 L226.7,194.9 L226.9,195.1 L227.1,195.4 L227.3,195.6 L227.5,195.9 L227.7,196.1 L227.9,196.3 L228.1,196.6 L228.3,196.8 L228.5,197.1 L228.7,197.3 L228.9,197.5 L229.2,197.8 L229.4,198.0 L229.6,198.2 L229.8,198.5 L230.0,198.7 L230.2,198.9 L230.4,199.1 L230.6,199.3 L230.8,199.6 L231.0,199.8 L231.2,200.0 L231.4,200.2 L231.6,200.4 L231.8,200.6 L232.0,200.8 L232.2,201.0 L232.4,201.2 L232.6,201.4 L232.8,201.6 L233.0,201.8 L233.2,202.0 L233.4,202.2 L233.7,202.4 L233.9,202.6 L234.1,202.8 L234.3,203.0 L234.5,203.1 L234.7,203.3 L234.9,203.5 L235.1,203.6 L235.3,203.8 L235.5,204.0 L235.7,204.1 L235.9,204.3 L236.1,204.4 L236.3,204.5 L236.5,204.7 L236.7,204.8 L236.9,204.9 L237.1,205.1 L237.3,205.2 L237.5,205.3 L237.7,205.4 L238.0,205.5 L238.2,205.6 L238.4,205.7 L238.6,205.7 L238.8,205.8 L239.0,205.9 L239.2,206.0 L239.4,206.0 L239.6,206.1 L239.8,206.2 L240.0,206.2 L240.2,206.3 L240.4,206.4 L240.6,206.4 L240.8,206.5 L241.0,206.5 L241.2,206.6 L241.4,206.6 L241.6,206.7 L241.8,206.7 L242.0,206.8 L242.2,206.8 L242.5,206.9 L242.7,206.9 L242.9,207.0 L243.1,207.0 L243.3,207.1 L243.5,207.2 L243.7,207.2 L243.9,207.3 L244.1,207.4 L244.3,207.4 L244.5,207.5 L244.7,207.6 L244.9,207.7 L245.1,207.7 L245.3,207.8 L245.5,207.9 L245.7,208.0 L245.9,208.1 L246.1,208.2 L246.3,208.3 L246.5,208.4 L246.8,208.5 L247.0,208.6 L247.2,208.7 L247.4,208.8 L247.6,208.9 L247.8,209.0 L248.0,209.1 L248.2,209.2 L248.4,209.3 L248.6,209.4 L248.8,209.5 L249.0,209.6 L249.2,209.7 L249.4,209.8 L249.6,210.0 L249.8,210.1 L250.0,210.2 L250.2,210.3 L250.4,210.4 L250.6,210.5 L250.8,210.6 L251.0,210.8 L251.3,210.9 L251.5,211.0 L251.7,211.1 L251.9,211.2 L252.1,211.4 L252.3,211.5 L252.5,211.6 L252.7,211.7 L252.9,211.8 L253.1,211.9 L253.3,212.1 L253.5,212.2 L253.7,212.3 L253.9,212.4 L254.1,212.5 L254.3,212.6 L254.5,212.8 L254.7,212.9 L254.9,213.0 L255.1,213.1 L255.3,213.2 L255.6,213.3 L255.8,213.5 L256.0,213.6 L256.2,213.7 L256.4,213.8 L256.6,213.9 L256.8,214.0 L257.0,214.2 L257.2,214.3 L257.4,214.4 L257.6,214.5 L257.8,214.6 L258.0,214.7 L258.2,214.9 L258.4,215.0 L258.6,215.1 L258.8,215.2 L259.0,215.3 L259.2,215.5 L259.4,215.6 L259.6,215.7 L259.8,215.8 L260.1,215.9 L260.3,216.0 L260.5,216.2 L260.7,216.3 L260.9,216.4 L261.1,216.5 L261.3,216.6 L261.5,216.7 L261.7,216.8 L261.9,216.9 L262.1,217.0 L262.3,217.1 L262.5,217.1 L262.7,217.2 L262.9,217.3 L263.1,217.3 L263.3,217.4 L263.5,217.4 L263.7,217.5 L263.9,217.5 L264.1,217.6 L264.4,217.6 L264.6,217.6 L264.8,217.6 L265.0,217.6 L265.2,217.6 L265.4,217.6 L265.6,217.5 L265.8,217.5 L266.0,217.4 L266.2,217.4 L266.4,217.3 L266.6,217.3 L266.8,217.2 L267.0,217.1 L267.2,217.1 L267.4,217.0 L267.6,216.9 L267.8,216.9 L268.0,216.8 L268.2,216.8 L268.4,216.7 L268.6,216.7 L268.9,216.6 L269.1,216.6 L269.3,216.6 L269.5,216.6 L269.7,216.6 L269.9,216.6 L270.1,216.6 L270.3,216.7 L270.5,216.7 L270.7,216.8 L270.9,216.9 L271.1,216.9 L271.3,217.0 L271.5,217.1 L271.7,217.2 L271.9,217.3 L272.1,217.4 L272.3,217.5 L272.5,217.6 L272.7,217.8 L272.9,217.9 L273.1,218.0 L273.4,218.1 L273.6,218.3 L273.8,218.4 L274.0,218.5 L274.2,218.7 L274.4,218.8 L274.6,218.9 L274.8,219.1 L275.0,219.2 L275.2,219.3 L275.4,219.4 L275.6,219.6 L275.8,219.7 L276.0,219.8 L276.2,220.0 L276.4,220.1 L276.6,220.2 L276.8,220.3 L277.0,220.5 L277.2,220.6 L277.4,220.7 L277.7,220.8 L277.9,220.9 L278.1,221.1 L278.3,221.2 L278.5,221.3 L278.7,221.4 L278.9,221.5 L279.1,221.7 L279.3,221.8 L279.5,221.9 L279.7,222.0 L279.9,222.1 L280.1,222.2 L280.3,222.4 L280.5,222.5 L280.7,222.6 L280.9,222.7 L281.1,222.8 L281.3,222.9 L281.5,223.0 L281.7,223.1 L281.9,223.2 L282.2,223.3 L282.4,223.4 L282.6,223.5 L282.8,223.6 L283.0,223.7 L283.2,223.7 L283.4,223.8 L283.6,223.9 L283.8,224.0 L284.0,224.0 L284.2,224.1 L284.4,224.1 L284.6,224.2 L284.8,224.2 L285.0,224.3 L285.2,224.3 L285.4,224.3 L285.6,224.4 L285.8,224.4 L286.0,224.4 L286.2,224.4 L286.5,224.4 L286.7,224.4 L286.9,224.4 L287.1,224.3 L287.3,224.3 L287.5,224.3 L287.7,224.2 L287.9,224.2 L288.1,224.1 L288.3,224.1 L288.5,224.0 L288.7,223.9 L288.9,223.8 L289.1,223.7 L289.3,223.6 L289.5,223.5 L289.7,223.4 L289.9,223.2 L290.1,223.1 L290.3,223.0 L290.5,222.8 L290.7,222.6 L291.0,222.5 L291.2,222.3 L291.4,222.1 L291.6,221.9 L291.8,221.7 L292.0,221.5 L292.2,221.2 L292.4,221.0 L292.6,220.8 L292.8,220.5 L293.0,220.3 L293.2,220.0 L293.4,219.8 L293.6,219.5 L293.8,219.2 L294.0,218.9 L294.2,218.7 L294.4,218.4 L294.6,218.1 L294.8,217.8 L295.0,217.5 L295.3,217.2 L295.5,216.8 L295.7,216.5 L295.9,216.2 L296.1,215.9 L296.3,215.5 L296.5,215.2 L296.7,214.9 L296.9,214.5 L297.1,214.2 L297.3,213.9 L297.5,213.5 L297.7,213.2 L297.9,212.8 L298.1,212.5 L298.3,212.1 L298.5,211.8 L298.7,211.4 L298.9,211.1 L299.1,210.7 L299.3,210.4 L299.5,210.0 L299.8,209.7 L300.0,209.3 L300.2,209.0 L300.4,208.6 L300.6,208.3 L300.8,208.0 L301.0,207.6 L301.2,207.3 L301.4,206.9 L301.6,206.6 L301.8,206.3 L302.0,205.9 L302.2,205.6 L302.4,205.3 L302.6,205.0 L302.8,204.6 L303.0,204.3 L303.2,204.0 L303.4,203.7 L303.6,203.4 L303.8,203.1 L304.1,202.8 L304.3,202.6 L304.5,202.3 L304.7,202.0 L304.9,201.7 L305.1,201.5 L305.3,201.2 L305.5,201.0 L305.7,200.7 L305.9,200.5 L306.1,200.3 L306.3,200.1 L306.5,199.9 L306.7,199.7 L306.9,199.5 L307.1,199.3 L307.3,199.1 L307.5,198.9 L307.7,198.8 L307.9,198.6 L308.1,198.5 L308.3,198.4 L308.6,198.3 L308.8,198.1 L309.0,198.0 L309.2,197.9 L309.4,197.9 L309.6,197.8 L309.8,197.7 L310.0,197.6 L310.2,197.5 L310.4,197.5 L310.6,197.4 L310.8,197.3 L311.0,197.3 L311.2,197.2 L311.4,197.2 L311.6,197.1 L311.8,197.0 L312.0,197.0 L312.2,196.9 L312.4,196.8 L312.6,196.8 L312.9,196.7 L313.1,196.6 L313.3,196.5 L313.5,196.5 L313.7,196.4 L313.9,196.3 L314.1,196.2 L314.3,196.1 L314.5,196.0 L314.7,195.9 L314.9,195.8 L315.1,195.8 L315.3,195.7 L315.5,195.6 L315.7,195.6 L315.9,195.5 L316.1,195.4 L316.3,195.4 L316.5,195.4 L316.7,195.3 L316.9,195.3 L317.1,195.3 L317.4,195.3 L317.6,195.3 L317.8,195.3 L318.0,195.4 L318.2,195.4 L318.4,195.5 L318.6,195.6 L318.8,195.6 L319.0,195.7 L319.2,195.8 L319.4,196.0 L319.6,196.1 L319.8,196.2 L320.0,196.4 L320.2,196.5 L320.4,196.7 L320.6,196.9 L320.8,197.1 L321.0,197.3 L321.2,197.5 L321.4,197.7 L321.7,197.9 L321.9,198.1 L322.1,198.3 L322.3,198.6 L322.5,198.8 L322.7,199.0 L322.9,199.3 L323.1,199.5 L323.3,199.8 L323.5,200.0 L323.7,200.3 L323.9,200.6 L324.1,200.8 L324.3,201.1 L324.5,201.4 L324.7,201.6 L324.9,201.9 L325.1,202.2 L325.3,202.5 L325.5,202.7 L325.7,203.0 L325.9,203.3 L326.2,203.6 L326.4,203.8 L326.6,204.1 L326.8,204.4 L327.0,204.6 L327.2,204.9 L327.4,205.1 L327.6,205.4 L327.8,205.6 L328.0,205.9 L328.2,206.1 L328.4,206.4 L328.6,206.6 L328.8,206.8 L329.0,207.0 L329.2,207.2 L329.4,207.4 L329.6,207.6 L329.8,207.8 L330.0,208.0 L330.2,208.2 L330.5,208.3 L330.7,208.5 L330.9,208.6 L331.1,208.8 L331.3,208.9 L331.5,209.0 L331.7,209.2 L331.9,209.3 L332.1,209.4 L332.3,209.5 L332.5,209.6 L332.7,209.7 L332.9,209.7 L333.1,209.8 L333.3,209.9 L333.5,209.9 L333.7,210.0 L333.9,210.0 L334.1,210.0 L334.3,210.0 L334.5,210.0 L334.7,210.1 L335.0,210.0 L335.2,210.0 L335.4,210.0 L335.6,210.0 L335.8,210.0 L336.0,209.9 L336.2,209.9 L336.4,209.8 L336.6,209.7 L336.8,209.7 L337.0,209.6 L337.2,209.5 L337.4,209.4 L337.6,209.3 L337.8,209.1 L338.0,209.0 L338.2,208.9 L338.4,208.7 L338.6,208.6 L338.8,208.4 L339.0,208.2 L339.3,208.1 L339.5,207.9 L339.7,207.7 L339.9,207.5 L340.1,207.3 L340.3,207.0 L340.5,206.8 L340.7,206.6 L340.9,206.3 L341.1,206.1 L341.3,205.8 L341.5,205.5 L341.7,205.2 L341.9,204.9 L342.1,204.6 L342.3,204.3 L342.5,204.0 L342.7,203.6 L342.9,203.3 L343.1,203.0 L343.3,202.6 L343.5,202.2 L343.8,201.9 L344.0,201.5 L344.2,201.1 L344.4,200.7 L344.6,200.3 L344.8,199.9 L345.0,199.5 L345.2,199.1 L345.4,198.7 L345.6,198.2 L345.8,197.8 L346.0,197.4 L346.2,196.9 L346.4,196.5 L346.6,196.1 L346.8,195.6 L347.0,195.2 L347.2,194.8 L347.4,194.3 L347.6,193.9 L347.8,193.4 L348.1,193.0 L348.3,192.6 L348.5,192.1 L348.7,191.7 L348.9,191.2 L349.1,190.8 L349.3,190.4 L349.5,189.9 L349.7,189.5 L349.9,189.1 L350.1,188.7 L350.3,188.2 L350.5,187.8 L350.7,187.4 L350.9,187.0 L351.1,186.5 L351.3,186.1 L351.5,185.7 L351.7,185.3 L351.9,184.9 L352.1,184.5 L352.3,184.1 L352.6,183.7 L352.8,183.2 L353.0,182.8 L353.2,182.4 L353.4,182.0 L353.6,181.6 L353.8,181.2 L354.0,180.8 L354.2,180.4 L354.4,180.0 L354.6,179.6 L354.8,179.2 L355.0,178.8 L355.2,178.4 L355.4,178.0 L355.6,177.6 L355.8,177.2 L356.0,176.8 L356.2,176.4 L356.4,176.0 L356.6,175.6 L356.9,175.2 L357.1,174.8 L357.3,174.4 L357.5,174.0 L357.7,173.6 L357.9,173.2 L358.1,172.8 L358.3,172.4 L358.5,172.1 L358.7,171.7 L358.9,171.3 L359.1,171.0 L359.3,170.6 L359.5,170.2 L359.7,169.9 L359.9,169.5 L360.1,169.2 L360.3,168.9 L360.5,168.6 L360.7,168.2 L360.9,167.9 L361.1,167.6 L361.4,167.3 L361.6,167.0 L361.8,166.7 L362.0,166.5 L362.2,166.2 L362.4,165.9 L362.6,165.7 L362.8,165.5 L363.0,165.2 L363.2,165.0 L363.4,164.8 L363.6,164.5 L363.8,164.3 L364.0,164.1 L364.2,163.9 L364.4,163.7 L364.6,163.5 L364.8,163.3 L365.0,163.2 L365.2,163.0 L365.4,162.8 L365.7,162.6 L365.9,162.5 L366.1,162.3 L366.3,162.1 L366.5,161.9" stroke="#1f77b4" stroke-width="2.2" fill="none"/>
<path d="M55.8,189.7 L56.0,190.3 L56.2,191.0 L56.4,191.7 L56.6,192.4 L56.8,193.0 L57.0,193.7 L57.2,194.3 L57.4,195.0 L57.7,195.6 L57.9,196.3 L58.1,196.9 L58.3,197.5 L58.5,198.2 L58.7,198.8 L58.9,199.3 L59.1,199.9 L59.3,200.5 L59.5,201.1 L59.7,201.6 L59.9,202.1 L60.1,202.6 L60.3,203.1 L60.5,203.6 L60.7,204.1 L60.9,204.5 L61.1,204.9 L61.3,205.4 L61.5,205.8 L61.7,206.2 L62.0,206.5 L62.2,206.9 L62.4,207.2 L62.6,207.6 L62.8,207.9 L63.0,208.2 L63.2,208.5 L63.4,208.8 L63.6,209.1 L63.8,209.4 L64.0,209.7 L64.2,210.0 L64.4,210.2 L64.6,210.5 L64.8,210.7 L65.0,211.0 L65.2,211.2 L65.4,211.5 L65.6,211.7 L65.8,211.9 L66.0,212.2 L66.2,212.4 L66.5,212.6 L66.7,212.9 L66.9,213.1 L67.1,213.3 L67.3,213.5 L67.5,213.7 L67.7,213.9 L67.9,214.1 L68.1,214.3 L68.3,214.5 L68.5,214.7 L68.7,214.9 L68.9,215.1 L69.1,215.2 L69.3,215.4 L69.5,215.6 L69.7,215.7 L69.9,215.9 L70.1,216.0 L70.3,216.1 L70.5,216.3 L70.8,216.4 L71.0,216.5 L71.2,216.6 L71.4,216.7 L71.6,216.8 L71.8,216.9 L72.0,216.9 L72.2,217.0 L72.4,217.1 L72.6,217.1 L72.8,217.1 L73.0,217.2 L73.2,217.2 L73.4,217.2 L73.6,217.2 L73.8,217.2 L74.0,217.2 L74.2,217.1 L74.4,217.1 L74.6,217.1 L74.8,217.0 L75.0,216.9 L75.3,216.9 L75.5,216.8 L75.7,216.7 L75.9,216.6 L76.1,216.5 L76.3,216.4 L76.5,216.3 L76.7,216.2 L76.9,216.1 L77.1,215.9 L77.3,215.8 L77.5,215.7 L77.7,215.5 L77.9,215.4 L78.1,215.2 L78.3,215.0 L78.5,214.9 L78.7,214.7 L78.9,214.5 L79.1,214.3 L79.3,214.2 L79.6,214.0 L79.8,213.8 L80.0,213.6 L80.2,213.4 L80.4,213.2 L80.6,213.0 L80.8,212.8 L81.0,212.6 L81.2,212.3 L81.4,212.1 L81.6,211.9 L81.8,211.7 L82.0,211.5 L82.2,211.2 L82.4,211.0 L82.6,210.8 L82.8,210.6 L83.0,210.3 L83.2,210.1 L83.4,209.9 L83.6,209.7 L83.8,209.4 L84.1,209.2 L84.3,209.0 L84.5,208.7 L84.7,208.5 L84.9,208.3 L85.1,208.0 L85.3,207.8 L85.5,207.6 L85.7,207.4 L85.9,207.1 L86.1,206.9 L86.3,206.7 L86.5,206.5 L86.7,206.3 L86.9,206.0 L87.1,205.8 L87.3,205.6 L87.5,205.4 L87.7,205.2 L87.9,205.0 L88.1,204.8 L88.4,204.6 L88.6,204.4 L88.8,204.2 L89.0,204.0 L89.2,203.8 L89.4,203.6 L89.6,203.5 L89.8,203.3 L90.0,203.1 L90.2,202.9 L90.4,202.8 L90.6,202.6 L90.8,202.5 L91.0,202.3 L91.2,202.2 L91.4,202.0 L91.6,201.9 L91.8,201.8 L92.0,201.6 L92.2,201.5 L92.4,201.4 L92.6,201.3 L92.9,201.2 L93.1,201.1 L93.3,201.0 L93.5,201.0 L93.7,200.9 L93.9,200.8 L94.1,200.8 L94.3,200.7 L94.5,200.7 L94.7,200.6 L94.9,200.6 L95.1,200.6 L95.3,200.6 L95.5,200.6 L95.7,200.6 L95.9,200.6 L96.1,200.6 L96.3,200.7 L96.5,200.7 L96.7,200.8 L96.9,200.8 L97.2,200.9 L97.4,201.0 L97.6,201.1 L97.8,201.1 L98.0,201.2 L98.2,201.3 L98.4,201.4 L98.6,201.6 L98.8,201.7 L99.0,201.8 L99.2,202.0 L99.4,202.1 L99.6,202.2 L99.8,202.4 L100.0,202.5 L100.2,202.7 L100.4,202.9 L100.6,203.1 L100.8,203.2 L101.0,203.4 L101.2,203.6 L101.4,203.8 L101.7,204.0 L101.9,204.2 L102.1,204.4 L102.3,204.6 L102.5,204.8 L102.7,205.1 L102.9,205.3 L103.1,205.5 L103.3,205.7 L103.5,206.0 L103.7,206.2 L103.9,206.4 L104.1,206.7 L104.3,206.9 L104.5,207.2 L104.7,207.4 L104.9,207.7 L105.1,207.9 L105.3,208.2 L105.5,208.4 L105.7,208.7 L106.0,208.9 L106.2,209.2 L106.4,209.5 L106.6,209.7 L106.8,210.0 L107.0,210.2 L107.2,210.5 L107.4,210.8 L107.6,211.0 L107.8,211.3 L108.0,211.6 L108.2,211.8 L108.4,212.1 L108.6,212.4 L108.8,212.6 L109.0,212.9 L109.2,213.2 L109.4,213.4 L109.6,213.7 L109.8,214.0 L110.0,214.2 L110.2,214.5 L110.5,214.7 L110.7,215.0 L110.9,215.2 L111.1,215.5 L111.3,215.8 L111.5,216.0 L111.7,216.2 L111.9,216.5 L112.1,216.7 L112.3,217.0 L112.5,217.2 L112.7,217.4 L112.9,217.7 L113.1,217.9 L113.3,218.1 L113.5,218.4 L113.7,218.6 L113.9,218.8 L114.1,219.0 L114.3,219.3 L114.5,219.5 L114.8,219.7 L115.0,219.9 L115.2,220.1 L115.4,220.4 L115.6,220.6 L115.8,220.8 L116.0,221.0 L116.2,221.2 L116.4,221.4 L116.6,221.6 L116.8,221.8 L117.0,222.0 L117.2,222.2 L117.4,222.4 L117.6,222.6 L117.8,222.8 L118.0,223.0 L118.2,223.2 L118.4,223.4 L118.6,223.6 L118.8,223.8 L119.0,224.0 L119.3,224.2 L119.5,224.4 L119.7,224.6 L119.9,224.8 L120.1,225.0 L120.3,225.2 L120.5,225.3 L120.7,225.5 L120.9,225.7 L121.1,225.9 L121.3,226.1 L121.5,226.3 L121.7,226.4 L121.9,226.6 L122.1,226.8 L122.3,226.9 L122.5,227.1 L122.7,227.2 L122.9,227.4 L123.1,227.5 L123.3,227.7 L123.6,227.8 L123.8,227.9 L124.0,228.1 L124.2,228.2 L124.4,228.3 L124.6,228.4 L124.8,228.5 L125.0,228.6 L125.2,228.6 L125.4,228.7 L125.6,228.8 L125.8,228.8 L126.0,228.8 L126.2,228.9 L126.4,228.9 L126.6,228.9 L126.8,228.9 L127.0,228.9 L127.2,228.9 L127.4,228.8 L127.6,228.8 L127.8,228.8 L128.1,228.7 L128.3,228.6 L128.5,228.6 L128.7,228.5 L128.9,228.4 L129.1,228.3 L129.3,228.2 L129.5,228.1 L129.7,228.0 L129.9,227.9 L130.1,227.7 L130.3,227.6 L130.5,227.5 L130.7,227.3 L130.9,227.2 L131.1,227.0 L131.3,226.8 L131.5,226.7 L131.7,226.5 L131.9,226.3 L132.1,226.1 L132.4,225.9 L132.6,225.8 L132.8,225.6 L133.0,225.4 L133.2,225.1 L133.4,224.9 L133.6,224.7 L133.8,224.5 L134.0,224.3 L134.2,224.1 L134.4,223.8 L134.6,223.6 L134.8,223.4 L135.0,223.1 L135.2,222.9 L135.4,222.7 L135.6,222.4 L135.8,222.2 L136.0,221.9 L136.2,221.7 L136.4,221.4 L136.6,221.2 L136.9,220.9 L137.1,220.7 L137.3,220.4 L137.5,220.2 L137.7,219.9 L137.9,219.6 L138.1,219.4 L138.3,219.1 L138.5,218.9 L138.7,218.6 L138.9,218.3 L139.1,218.1 L139.3,217.8 L139.5,217.6 L139.7,217.3 L139.9,217.1 L140.1,216.8 L140.3,216.5 L140.5,216.3 L140.7,216.1 L140.9,215.8 L141.2,215.6 L141.4,215.3 L141.6,215.1 L141.8,214.9 L142.0,214.7 L142.2,214.5 L142.4,214.3 L142.6,214.1 L142.8,213.9 L143.0,213.7 L143.2,213.5 L143.4,213.3 L143.6,213.2 L143.8,213.0 L144.0,212.9 L144.2,212.8 L144.4,212.6 L144.6,212.5 L144.8,212.4 L145.0,212.3 L145.2,212.3 L145.4,212.2 L145.7,212.1 L145.9,212.1 L146.1,212.1 L146.3,212.1 L146.5,212.1 L146.7,212.1 L146.9,212.1 L147.1,212.1 L147.3,212.2 L147.5,212.2 L147.7,212.3 L147.9,212.4 L148.1,212.4 L148.3,212.5 L148.5,212.6 L148.7,212.7 L148.9,212.9 L149.1,213.0 L149.3,213.1 L149.5,213.3 L149.7,213.4 L150.0,213.5 L150.2,213.7 L150.4,213.9 L150.6,214.0 L150.8,214.2 L151.0,214.4 L151.2,214.5 L151.4,214.7 L151.6,214.9 L151.8,215.1 L152.0,215.2 L152.2,215.4 L152.4,215.6 L152.6,215.8 L152.8,216.0 L153.0,216.2 L153.2,216.3 L153.4,216.5 L153.6,216.7 L153.8,216.9 L154.0,217.1 L154.2,217.2 L154.5,217.4 L154.7,217.6 L154.9,217.8 L155.1,217.9 L155.3,218.1 L155.5,218.3 L155.7,218.4 L155.9,218.6 L156.1,218.7 L156.3,218.8 L156.5,219.0 L156.7,219.1 L156.9,219.2 L157.1,219.3 L157.3,219.4 L157.5,219.5 L157.7,219.6 L157.9,219.7 L158.1,219.8 L158.3,219.9 L158.5,219.9 L158.8,220.0 L159.0,220.0 L159.2,220.1 L159.4,220.1 L159.6,220.1 L159.8,220.1 L160.0,220.1 L160.2,220.1 L160.4,220.1 L160.6,220.0 L160.8,220.0 L161.0,219.9 L161.2,219.8 L161.4,219.8 L161.6,219.7 L161.8,219.6 L162.0,219.5 L162.2,219.3 L162.4,219.2 L162.6,219.1 L162.8,218.9 L163.0,218.8 L163.3,218.6 L163.5,218.4 L163.7,218.2 L163.9,218.0 L164.1,217.8 L164.3,217.6 L164.5,217.4 L164.7,217.2 L164.9,217.0 L165.1,216.7 L165.3,216.5 L165.5,216.2 L165.7,216.0 L165.9,215.7 L166.1,215.5 L166.3,215.2 L166.5,214.9 L166.7,214.6 L166.9,214.3 L167.1,214.1 L167.3,213.8 L167.6,213.4 L167.8,213.1 L168.0,212.8 L168.2,212.5 L168.4,212.2 L168.6,211.8 L168.8,211.5 L169.0,211.1 L169.2,210.8 L169.4,210.4 L169.6,210.0 L169.8,209.6 L170.0,209.2 L170.2,208.8 L170.4,208.3 L170.6,207.9 L170.8,207.4 L171.0,206.9 L171.2,206.5 L171.4,205.9 L171.6,205.4 L171.8,204.9 L172.1,204.3 L172.3,203.7 L172.5,203.1 L172.7,202.5 L172.9,201.9 L173.1,201.2 L173.3,200.6 L173.5,199.9 L173.7,199.2 L173.9,198.5 L174.1,197.9 L174.3,197.2 L174.5,196.5 L174.7,195.8 L174.9,195.2 L175.1,194.5 L175.3,193.9 L175.5,193.2 L175.7,192.6 L175.9,192.0 L176.1,191.3 L176.4,190.7 L176.6,190.1 L176.8,189.5 L177.0,188.9 L177.2,188.3 L177.4,187.8 L177.6,187.2 L177.8,186.7 L178.0,186.1 L178.2,185.6 L178.4,185.1 L178.6,184.5 L178.8,184.0 L179.0,183.5 L179.2,183.0 L179.4,182.6 L179.6,182.1 L179.8,181.6 L180.0,181.1 L180.2,180.7 L180.4,180.2 L180.6,179.8 L180.9,179.3 L181.1,178.9 L181.3,178.5 L181.5,178.0 L181.7,177.6 L181.9,177.2 L182.1,176.7 L182.3,176.3 L182.5,175.9 L182.7,175.5 L182.9,175.1 L183.1,174.8 L183.3,174.6 L183.5,174.4 L183.7,174.2 L183.9,173.9 L184.1,173.7 L184.3,173.5 L184.5,173.3 L184.7,173.0 L184.9,172.8 L185.2,172.6 L185.4,172.4 L185.6,172.1 L185.8,171.9 L186.0,171.7 L186.2,171.5 L186.4,171.2 L186.6,171.0 L186.8,170.8 L187.0,170.6 L187.2,170.3 L187.4,170.1 L187.6,169.9 L187.8,169.7 L188.0,169.5 L188.2,169.2 L188.4,169.0 L188.6,168.8 L188.8,168.6 L189.0,168.3 L189.2,168.1 L189.4,167.9 L189.7,167.7 L189.9,167.5 L190.1,167.3 L190.3,167.0 L190.5,166.8 L190.7,166.6 L190.9,166.4 L191.1,166.2 L191.3,165.9 L191.5,165.7 L191.7,165.5 L191.9,165.3 L192.1,165.1 L192.3,164.9 L192.5,164.7 L192.7,164.4 L192.9,164.2 L193.1,164.0 L193.3,163.8 L193.5,163.6 L193.7,163.4 L194.0,163.2 L194.2,163.0 L194.4,162.8 L194.6,162.6 L194.8,162.4 L195.0,162.2 L195.2,162.0 L195.4,161.8 L195.6,161.6 L195.8,161.4 L196.0,161.2 L196.2,161.0 L196.4,160.8 L196.6,160.6 L196.8,160.4 L197.0,160.3 L197.2,160.1 L197.4,159.9 L197.6,159.7 L197.8,159.5 L198.0,159.3 L198.2,159.2 L198.5,159.0 L198.7,158.8 L198.9,158.6 L199.1,158.5 L199.3,158.3 L199.5,158.1 L199.7,158.0 L199.9,157.8 L200.1,157.7 L200.3,157.5 L200.5,157.3 L200.7,157.2 L200.9,157.0 L201.1,156.9 L201.3,156.7 L201.5,156.6 L201.7,156.4 L201.9,156.3 L202.1,156.1 L202.3,156.0 L202.5,155.9 L202.8,155.7 L203.0,155.6 L203.2,155.5 L203.4,155.3 L203.6,155.2 L203.8,155.1 L204.0,154.9 L204.2,154.8 L204.4,154.7 L204.6,154.6 L204.8,154.4 L205.0,154.3 L205.2,154.2 L205.4,154.1 L205.6,154.0 L205.8,153.8 L206.0,153.7 L206.2,153.6 L206.4,153.5 L206.6,153.4 L206.8,153.3 L207.0,153.2 L207.3,153.1 L207.5,152.9 L207.7,152.8 L207.9,152.7 L208.1,152.6 L208.3,152.5 L208.5,152.4 L208.7,152.3 L208.9,152.2 L209.1,152.1 L209.3,152.0 L209.5,151.9 L209.7,151.8 L209.9,151.7 L210.1,151.7 L210.3,151.6 L210.5,151.5 L210.7,151.4 L210.9,151.3 L211.1,151.2 L211.3,151.1 L211.6,151.0 L211.8,150.9 L212.0,150.9 L212.2,150.8 L212.4,150.7 L212.6,150.6 L212.8,150.5 L213.0,150.5 L213.2,150.4 L213.4,150.3 L213.6,150.2 L213.8,150.2 L214.0,150.1 L214.2,150.0 L214.4,149.9 L214.6,149.9 L214.8,149.8 L215.0,149.7 L215.2,149.7 L215.4,149.6 L215.6,149.5 L215.8,149.5 L216.1,149.4 L216.3,149.4 L216.5,149.3 L216.7,149.2 L216.9,149.2 L217.1,149.1 L217.3,149.1 L217.5,149.0 L217.7,149.0 L217.9,148.9 L218.1,148.9 L218.3,148.8 L218.5,148.8 L218.7,148.7 L218.9,148.7 L219.1,148.6 L219.3,148.6 L219.5,148.5 L219.7,148.5 L219.9,148.4 L220.1,148.4 L220.4,148.4 L220.6,148.3 L220.8,148.3 L221.0,148.3 L221.2,148.2 L221.4,148.2 L221.6,148.2 L221.8,148.1 L222.0,148.1 L222.2,148.1 L222.4,148.0 L222.6,148.0 L222.8,148.0 L223.0,147.9 L223.2,147.9 L223.4,147.9 L223.6,147.9 L223.8,147.8 L224.0,147.8 L224.2,147.8 L224.4,147.8 L224.6,147.8 L224.9,147.7 L225.1,147.7 L225.3,147.7 L225.5,147.7 L225.7,147.7 L225.9,147.6 L226.1,147.6 L226.3,147.6 L226.5,147.6 L226.7,147.6 L226.9,147.6 L227.1,147.5 L227.3,147.5 L227.5,147.5 L227.7,147.5 L227.9,147.5 L228.1,147.5 L228.3,147.5 L228.5,147.5 L228.7,147.4 L228.9,147.4 L229.2,147.4 L229.4,147.4 L229.6,147.4 L229.8,147.4 L230.0,147.4 L230.2,147.4 L230.4,147.3 L230.6,147.3 L230.8,147.3 L231.0,147.3 L231.2,147.3 L231.4,147.3 L231.6,147.3 L231.8,147.3 L232.0,147.3 L232.2,147.3 L232.4,147.2 L232.6,147.2 L232.8,147.2 L233.0,147.2 L233.2,147.2 L233.4,147.2 L233.7,147.2 L233.9,147.2 L234.1,147.2 L234.3,147.2 L234.5,147.2 L234.7,147.1 L234.9,147.1 L235.1,147.1 L235.3,147.1 L235.5,147.1 L235.7,147.1 L235.9,147.1 L236.1,147.1 L236.3,147.1 L236.5,147.1 L236.7,147.1 L236.9,147.1 L237.1,147.1 L237.3,147.1 L237.5,147.0 L237.7,147.0 L238.0,147.0 L238.2,147.0 L238.4,147.0 L238.6,147.0 L238.8,147.0 L239.0,147.0 L239.2,147.0 L239.4,147.0 L239.6,147.0 L239.8,147.0 L240.0,147.0 L240.2,147.0 L240.4,147.0 L240.6,147.0 L240.8,147.0 L241.0,147.0 L241.2,147.0 L241.4,147.0 L241.6,147.0 L241.8,147.0 L242.0,147.0 L242.2,147.0 L242.5,147.0 L242.7,147.0 L242.9,147.0 L243.1,147.0 L243.3,147.0 L243.5,147.0 L243.7,147.0 L243.9,147.0 L244.1,147.0 L244.3,147.0 L244.5,147.0 L244.7,147.0 L244.9,147.0 L245.1,147.0 L245.3,147.0 L245.5,147.0 L245.7,147.0 L245.9,147.0 L246.1,147.0 L246.3,147.0 L246.5,147.0 L246.8,147.0 L247.0,147.0 L247.2,147.0 L247.4,147.0 L247.6,147.0 L247.8,147.0 L248.0,147.0 L248.2,147.1 L248.4,147.1 L248.6,147.1 L248.8,147.1 L249.0,147.1 L249.2,147.1 L249.4,147.1 L249.6,147.1 L249.8,147.1 L250.0,147.1 L250.2,147.1 L250.4,147.1 L250.6,147.1 L250.8,147.1 L251.0,147.1 L251.3,147.2 L251.5,147.2 L251.7,147.2 L251.9,147.2 L252.1,147.2 L252.3,147.2 L252.5,147.2 L252.7,147.2 L252.9,147.2 L253.1,147.2 L253.3,147.2 L253.5,147.2 L253.7,147.2 L253.9,147.3 L254.1,147.3 L254.3,147.3 L254.5,147.3 L254.7,147.3 L254.9,147.3 L255.1,147.3 L255.3,147.3 L255.6,147.3 L255.8,147.3 L256.0,147.3 L256.2,147.3 L256.4,147.3 L256.6,147.4 L256.8,147.4 L257.0,147.4 L257.2,147.4 L257.4,147.4 L257.6,147.4 L257.8,147.4 L258.0,147.4 L258.2,147.4 L258.4,147.4 L258.6,147.4 L258.8,147.4 L259.0,147.4 L259.2,147.4 L259.4,147.4 L259.6,147.5 L259.8,147.5 L260.1,147.5 L260.3,147.5 L260.5,147.5 L260.7,147.5 L260.9,147.5 L261.1,147.5 L261.3,147.5 L261.5,147.5 L261.7,147.5 L261.9,147.5 L262.1,147.5 L262.3,147.5 L262.5,147.5 L262.7,147.5 L262.9,147.5 L263.1,147.5 L263.3,147.5 L263.5,147.5 L263.7,147.6 L263.9,147.6 L264.1,147.6 L264.4,147.6 L264.6,147.6 L264.8,147.6 L265.0,147.6 L265.2,147.6 L265.4,147.6 L265.6,147.6 L265.8,147.6 L266.0,147.6 L266.2,147.6 L266.4,147.6 L266.6,147.6 L266.8,147.6 L267.0,147.6 L267.2,147.6 L267.4,147.6 L267.6,147.6 L267.8,147.6 L268.0,147.6 L268.2,147.6 L268.4,147.6 L268.6,147.6 L268.9,147.6 L269.1,147.6 L269.3,147.6 L269.5,147.6 L269.7,147.6 L269.9,147.6 L270.1,147.6 L270.3,147.6 L270.5,147.6 L270.7,147.6 L270.9,147.6 L271.1,147.5 L271.3,147.5 L271.5,147.5 L271.7,147.5 L271.9,147.5 L272.1,147.5 L272.3,147.5 L272.5,147.5 L272.7,147.5 L272.9,147.5 L273.1,147.5 L273.4,147.5 L273.6,147.5 L273.8,147.5 L274.0,147.5 L274.2,147.5 L274.4,147.5 L274.6,147.4 L274.8,147.4 L275.0,147.4 L275.2,147.4 L275.4,147.4 L275.6,147.4 L275.8,147.4 L276.0,147.4 L276.2,147.4 L276.4,147.4 L276.6,147.4 L276.8,147.4 L277.0,147.4 L277.2,147.3 L277.4,147.3 L277.7,147.3 L277.9,147.3 L278.1,147.3 L278.3,147.3 L278.5,147.3 L278.7,147.3 L278.9,147.3 L279.1,147.3 L279.3,147.3 L279.5,147.2 L279.7,147.2 L279.9,147.2 L280.1,147.2 L280.3,147.2 L280.5,147.2 L280.7,147.2 L280.9,147.2 L281.1,147.2 L281.3,147.2 L281.5,147.2 L281.7,147.1 L281.9,147.1 L282.2,147.1 L282.4,147.1 L282.6,147.1 L282.8,147.1 L283.0,147.1 L283.2,147.1 L283.4,147.1 L283.6,147.1 L283.8,147.1 L284.0,147.1 L284.2,147.1 L284.4,147.0 L284.6,147.0 L284.8,147.0 L285.0,147.0 L285.2,147.0 L285.4,147.0 L285.6,147.0 L285.8,147.0 L286.0,147.0 L286.2,147.0 L286.5,147.0 L286.7,147.0 L286.9,147.0 L287.1,147.0 L287.3,147.0 L287.5,147.0 L287.7,147.0 L287.9,147.0 L288.1,146.9 L288.3,146.9 L288.5,146.9 L288.7,146.9 L288.9,146.9 L289.1,146.9 L289.3,146.9 L289.5,146.9 L289.7,146.9 L289.9,146.9 L290.1,146.9 L290.3,146.9 L290.5,146.9 L290.7,146.9 L291.0,146.9 L291.2,146.9 L291.4,146.9 L291.6,146.9 L291.8,146.9 L292.0,146.9 L292.2,146.9 L292.4,146.9 L292.6,146.9 L292.8,147.0 L293.0,147.0 L293.2,147.0 L293.4,147.0 L293.6,147.0 L293.8,147.0 L294.0,147.0 L294.2,147.0 L294.4,147.0 L294.6,147.0 L294.8,147.0 L295.0,147.0 L295.3,147.0 L295.5,147.0 L295.7,147.0 L295.9,147.1 L296.1,147.1 L296.3,147.1 L296.5,147.1 L296.7,147.1 L296.9,147.1 L297.1,147.1 L297.3,147.1 L297.5,147.1 L297.7,147.2 L297.9,147.2 L298.1,147.2 L298.3,147.2 L298.5,147.2 L298.7,147.2 L298.9,147.2 L299.1,147.2 L299.3,147.3 L299.5,147.3 L299.8,147.3 L300.0,147.3 L300.2,147.3 L300.4,147.3 L300.6,147.3 L300.8,147.4 L301.0,147.4 L301.2,147.4 L301.4,147.4 L301.6,147.4 L301.8,147.4 L302.0,147.5 L302.2,147.5 L302.4,147.5 L302.6,147.5 L302.8,147.5 L303.0,147.5 L303.2,147.5 L303.4,147.6 L303.6,147.6 L303.8,147.6 L304.1,147.6 L304.3,147.6 L304.5,147.6 L304.7,147.7 L304.9,147.7 L305.1,147.7 L305.3,147.7 L305.5,147.7 L305.7,147.7 L305.9,147.7 L306.1,147.8 L306.3,147.8 L306.5,147.8 L306.7,147.8 L306.9,147.8 L307.1,147.8 L307.3,147.9 L307.5,147.9 L307.7,147.9 L307.9,147.9 L308.1,147.9 L308.3,147.9 L308.6,147.9 L308.8,148.0 L309.0,148.0 L309.2,148.0 L309.4,148.0 L309.6,148.0 L309.8,148.0 L310.0,148.0 L310.2,148.0 L310.4,148.1 L310.6,148.1 L310.8,148.1 L311.0,148.1 L311.2,148.1 L311.4,148.1 L311.6,148.1 L311.8,148.1 L312.0,148.2 L312.2,148.2 L312.4,148.2 L312.6,148.2 L312.9,148.2 L313.1,148.2 L313.3,148.2 L313.5,148.2 L313.7,148.2 L313.9,148.3 L314.1,148.3 L314.3,148.3 L314.5,148.3 L314.7,148.3 L314.9,148.3 L315.1,148.3 L315.3,148.3 L315.5,148.3 L315.7,148.3 L315.9,148.3 L316.1,148.4 L316.3,148.4 L316.5,148.4 L316.7,148.4 L316.9,148.4 L317.1,148.4 L317.4,148.4 L317.6,148.4 L317.8,148.4 L318.0,148.4 L318.2,148.4 L318.4,148.4 L318.6,148.4 L318.8,148.4 L319.0,148.4 L319.2,148.5 L319.4,148.5 L319.6,148.5 L319.8,148.5 L320.0,148.5 L320.2,148.5 L320.4,148.5 L320.6,148.5 L320.8,148.5 L321.0,148.5 L321.2,148.5 L321.4,148.5 L321.7,148.5 L321.9,148.5 L322.1,148.5 L322.3,148.5 L322.5,148.5 L322.7,148.5 L322.9,148.5 L323.1,148.5 L323.3,148.5 L323.5,148.5 L323.7,148.5 L323.9,148.5 L324.1,148.5 L324.3,148.5 L324.5,148.5 L324.7,148.5 L324.9,148.5 L325.1,148.5 L325.3,148.5 L325.5,148.5 L325.7,148.5 L325.9,148.5 L326.2,148.5 L326.4,148.5 L326.6,148.5 L326.8,148.5 L327.0,148.5 L327.2,148.5 L327.4,148.5 L327.6,148.5 L327.8,148.5 L328.0,148.5 L328.2,148.5 L328.4,148.5 L328.6,148.5 L328.8,148.5 L329.0,148.5 L329.2,148.5 L329.4,148.5 L329.6,148.5 L329.8,148.5 L330.0,148.5 L330.2,148.5 L330.5,148.5 L330.7,148.5 L330.9,148.5 L331.1,148.5 L331.3,148.5 L331.5,148.5 L331.7,148.5 L331.9,148.5 L332.1,148.5 L332.3,148.5 L332.5,148.5 L332.7,148.5 L332.9,148.5 L333.1,148.5 L333.3,148.5 L333.5,148.5 L333.7,148.5 L333.9,148.5 L334.1,148.5 L334.3,148.5 L334.5,148.5 L334.7,148.5 L335.0,148.5 L335.2,148.5 L335.4,148.5 L335.6,148.5 L335.8,148.5 L336.0,148.5 L336.2,148.5 L336.4,148.5 L336.6,148.5 L336.8,148.5 L337.0,148.6 L337.2,148.6 L337.4,148.6 L337.6,148.6 L337.8,148.6 L338.0,148.6 L338.2,148.6 L338.4,148.6 L338.6,148.6 L338.8,148.6 L339.0,148.6 L339.3,148.6 L339.5,148.7 L339.7,148.7 L339.9,148.7 L340.1,148.7 L340.3,148.7 L340.5,148.7 L340.7,148.7 L340.9,148.8 L341.1,148.8 L341.3,148.8 L341.5,148.8 L341.7,148.8 L341.9,148.8 L342.1,148.8 L342.3,148.9 L342.5,148.9 L342.7,148.9 L342.9,148.9 L343.1,148.9 L343.3,149.0 L343.5,149.0 L343.8,149.0 L344.0,149.0 L344.2,149.0 L344.4,149.1 L344.6,149.1 L344.8,149.1 L345.0,149.1 L345.2,149.2 L345.4,149.2 L345.6,149.2 L345.8,149.2 L346.0,149.3 L346.2,149.3 L346.4,149.3 L346.6,149.3 L346.8,149.4 L347.0,149.4 L347.2,149.4 L347.4,149.5 L347.6,149.5 L347.8,149.5 L348.1,149.6 L348.3,149.6 L348.5,149.6 L348.7,149.6 L348.9,149.7 L349.1,149.7 L349.3,149.7 L349.5,149.8 L349.7,149.8 L349.9,149.8 L350.1,149.9 L350.3,149.9 L350.5,149.9 L350.7,150.0 L350.9,150.0 L351.1,150.0 L351.3,150.1 L351.5,150.1 L351.7,150.1 L351.9,150.2 L352.1,150.2 L352.3,150.2 L352.6,150.3 L352.8,150.3 L353.0,150.4 L353.2,150.4 L353.4,150.4 L353.6,150.5 L353.8,150.5 L354.0,150.5 L354.2,150.6 L354.4,150.6 L354.6,150.7 L354.8,150.7 L355.0,150.7 L355.2,150.8 L355.4,150.8 L355.6,150.9 L355.8,150.9 L356.0,150.9 L356.2,151.0 L356.4,151.0 L356.6,151.1 L356.9,151.1 L357.1,151.2 L357.3,151.2 L357.5,151.3 L357.7,151.3 L357.9,151.4 L358.1,151.4 L358.3,151.5 L358.5,151.5 L358.7,151.6 L358.9,151.6 L359.1,151.7 L359.3,151.8 L359.5,151.8 L359.7,151.9 L359.9,152.0 L360.1,152.0 L360.3,152.1 L360.5,152.2 L360.7,152.2 L360.9,152.3 L361.1,152.4 L361.4,152.5 L361.6,152.5 L361.8,152.6 L362.0,152.7 L362.2,152.8 L362.4,152.9 L362.6,153.0 L362.8,153.0 L363.0,153.1 L363.2,153.2 L363.4,153.3 L363.6,153.4 L363.8,153.5 L364.0,153.6 L364.2,153.7 L364.4,153.8 L364.6,153.9 L364.8,154.0 L365.0,154.1 L365.2,154.2 L365.4,154.3 L365.7,154.4 L365.9,154.5 L366.1,154.6 L366.3,154.7 L366.5,154.8" stroke="#d62728" stroke-width="2.2" fill="none"/>
<line x1="153.31" y1="143.5" x2="153.31" y2="233.3" stroke="#1f77b4" stroke-width="1.2" stroke-dasharray="1.4,2.5"/>
<line x1="199.07" y1="143.5" x2="199.07" y2="233.3" stroke="#2ca02c" stroke-width="1.2" stroke-dasharray="1.4,2.5"/>
<line x1="243.68" y1="143.5" x2="243.68" y2="233.3" stroke="#d62728" stroke-width="1.2" stroke-dasharray="1.4,2.5"/>
</g>
<path d="M56.25,143.5 V233.3 H366.5 V143.5" stroke="#333" stroke-width="1" fill="none"/>
<path d="M55.75,143.5 H367.0" stroke="#8c8c8c" stroke-width="1.3" fill="none"/>
<path d="M88.97,233.3 v-2.5 M129.89,233.3 v-2.5 M170.82,233.3 v-2.5 M211.75,233.3 v-2.5 M252.69,233.3 v-2.5 M293.62,233.3 v-2.5 M334.55,233.3 v-2.5 M56.25,145.80 h2.5 M56.25,165.30 h2.5 M56.25,184.80 h2.5 M56.25,204.30 h2.5 M56.25,223.80 h2.5" stroke="#333" stroke-width="0.8" fill="none"/>
<text x="88.97" y="241.00" font-size="8.3" text-anchor="middle" fill="#111" stroke="#111" stroke-width="0.12" textLength="18.0" lengthAdjust="spacingAndGlyphs" >1520</text>
<text x="129.89" y="241.00" font-size="8.3" text-anchor="middle" fill="#111" stroke="#111" stroke-width="0.12" textLength="18.0" lengthAdjust="spacingAndGlyphs" >1530</text>
<text x="170.82" y="241.00" font-size="8.3" text-anchor="middle" fill="#111" stroke="#111" stroke-width="0.12" textLength="18.0" lengthAdjust="spacingAndGlyphs" >1540</text>
<text x="211.75" y="241.00" font-size="8.3" text-anchor="middle" fill="#111" stroke="#111" stroke-width="0.12" textLength="18.0" lengthAdjust="spacingAndGlyphs" >1550</text>
<text x="252.69" y="241.00" font-size="8.3" text-anchor="middle" fill="#111" stroke="#111" stroke-width="0.12" textLength="18.0" lengthAdjust="spacingAndGlyphs" >1560</text>
<text x="293.62" y="241.00" font-size="8.3" text-anchor="middle" fill="#111" stroke="#111" stroke-width="0.12" textLength="18.0" lengthAdjust="spacingAndGlyphs" >1570</text>
<text x="334.55" y="241.00" font-size="8.3" text-anchor="middle" fill="#111" stroke="#111" stroke-width="0.12" textLength="18.0" lengthAdjust="spacingAndGlyphs" >1580</text>
<text x="54.30" y="148.80" font-size="8.4" text-anchor="end" fill="#111" stroke="#111" stroke-width="0.12" textLength="3.8" lengthAdjust="spacingAndGlyphs" >0</text>
<text x="54.30" y="168.30" font-size="8.4" text-anchor="end" fill="#111" stroke="#111" stroke-width="0.12" textLength="14.0" lengthAdjust="spacingAndGlyphs" >−10</text>
<text x="54.30" y="187.80" font-size="8.4" text-anchor="end" fill="#111" stroke="#111" stroke-width="0.12" textLength="14.0" lengthAdjust="spacingAndGlyphs" >−20</text>
<text x="54.30" y="207.30" font-size="8.4" text-anchor="end" fill="#111" stroke="#111" stroke-width="0.12" textLength="14.0" lengthAdjust="spacingAndGlyphs" >−30</text>
<text x="54.30" y="226.80" font-size="8.4" text-anchor="end" fill="#111" stroke="#111" stroke-width="0.12" textLength="14.0" lengthAdjust="spacingAndGlyphs" >−40</text>
<text x="170.20" y="251.70" font-size="10.2" text-anchor="start" fill="#111" stroke="#111" stroke-width="0.12" textLength="82.5" lengthAdjust="spacingAndGlyphs" >Wavelength (nm)</text>
<text transform="translate(36.2,225) rotate(-90)" font-size="9.2" fill="#111" textLength="72.7" lengthAdjust="spacingAndGlyphs">Transmission (dB)</text>
<rect x="66.2" y="172.4" width="78.7" height="21.3" rx="2" fill="#fff" fill-opacity="1" stroke="#d4d4d4" stroke-width="0.8"/>
<line x1="68.5" y1="177.7" x2="85.2" y2="177.7" stroke="#1f77b4" stroke-width="2.2"/>
<line x1="68.5" y1="189.1" x2="85.2" y2="189.1" stroke="#d62728" stroke-width="2.2"/>
<text x="89.40" y="180.60" font-size="8.3" text-anchor="start" fill="#111" stroke="#111" stroke-width="0.12" textLength="52.6" lengthAdjust="spacingAndGlyphs" >Signal channel</text>
<text x="89.80" y="191.90" font-size="8.3" text-anchor="start" fill="#111" stroke="#111" stroke-width="0.12" textLength="46.2" lengthAdjust="spacingAndGlyphs" >Idler channel</text>
<text x="0.20" y="157.20" font-size="20" text-anchor="start" fill="#000" stroke="#000" stroke-width="0.12" letter-spacing="1.2">c)</text>
</svg>
</body></html>
